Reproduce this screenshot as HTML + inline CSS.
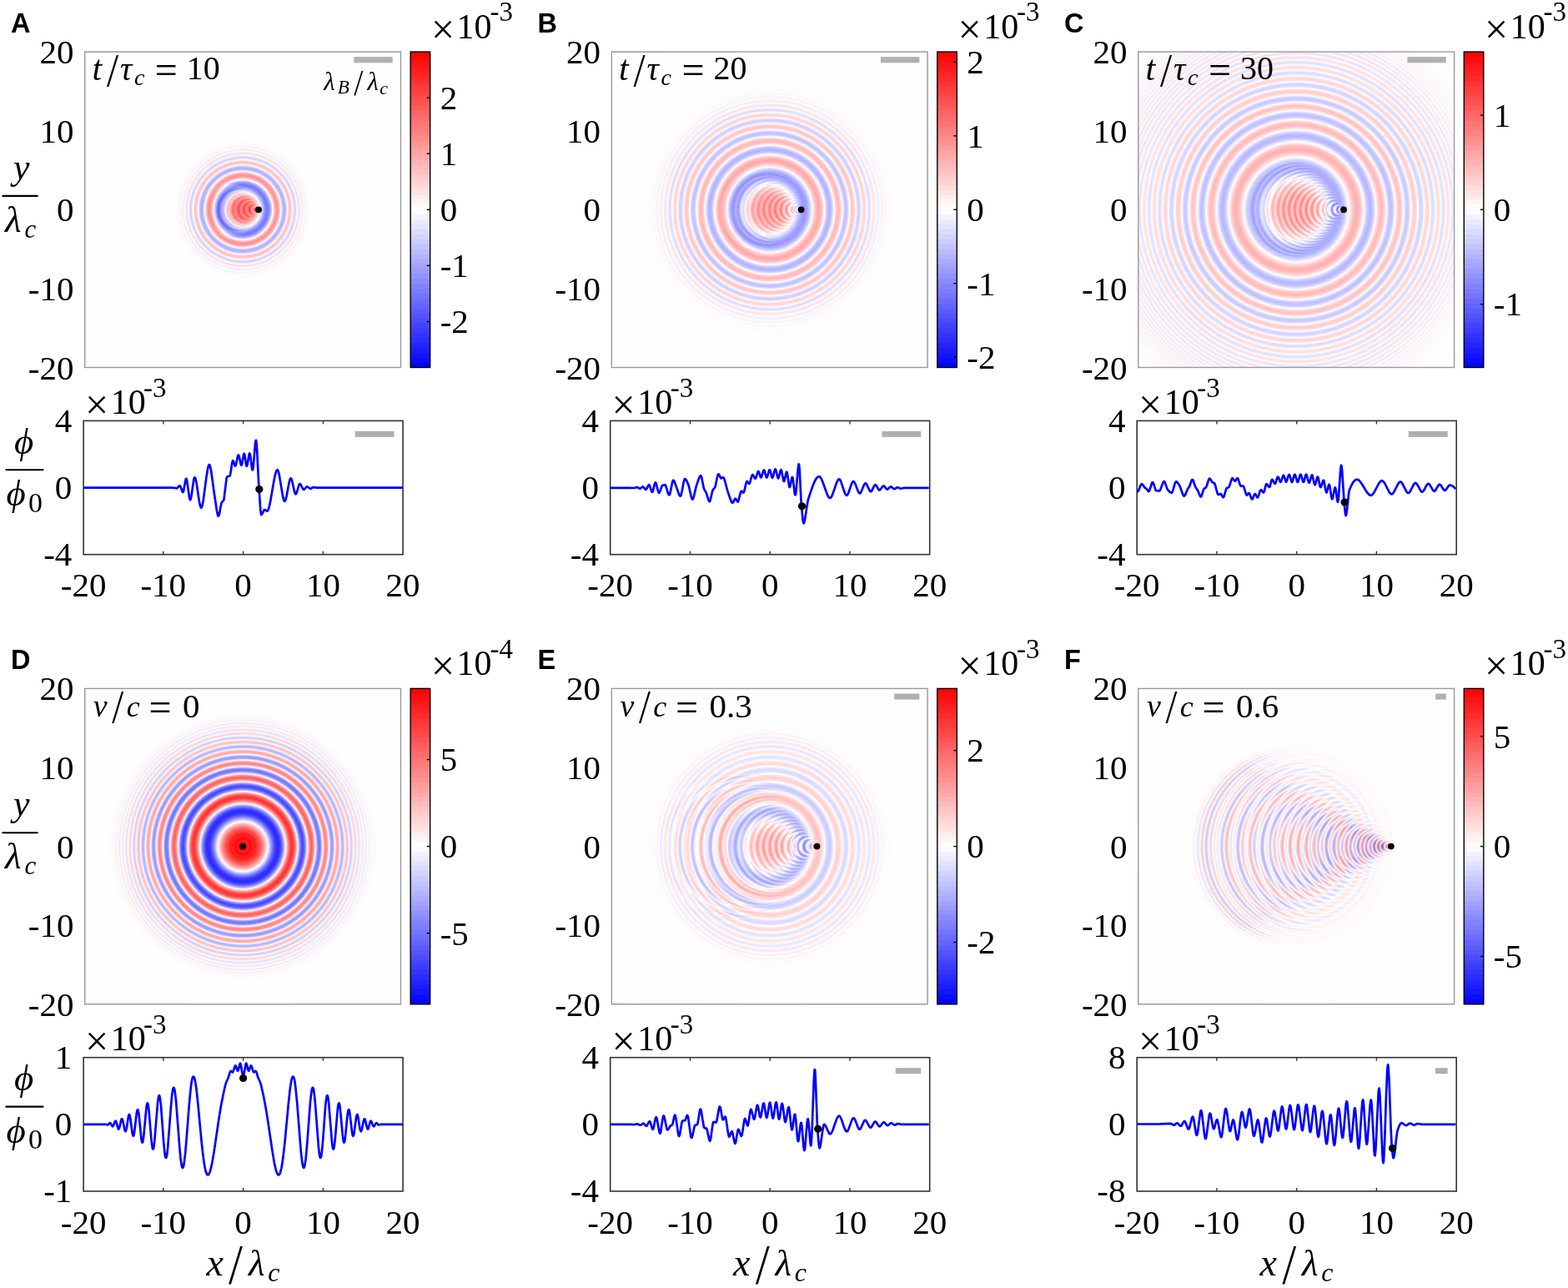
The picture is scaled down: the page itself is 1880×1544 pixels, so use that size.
<!DOCTYPE html><html><head><meta charset="utf-8"><style>html,body{margin:0;padding:0;background:#fff;}svg{display:block}</style></head><body><svg width="1880" height="1544" viewBox="0 0 1880 1544"><defs><linearGradient id="cbA" x1="0" y1="0" x2="0" y2="1"><stop offset="0.0000" stop-color="#ff0404"/><stop offset="0.0156" stop-color="#ff0404"/><stop offset="0.0156" stop-color="#ff0c0c"/><stop offset="0.0312" stop-color="#ff0c0c"/><stop offset="0.0312" stop-color="#ff1414"/><stop offset="0.0469" stop-color="#ff1414"/><stop offset="0.0469" stop-color="#ff1c1c"/><stop offset="0.0625" stop-color="#ff1c1c"/><stop offset="0.0625" stop-color="#ff2424"/><stop offset="0.0781" stop-color="#ff2424"/><stop offset="0.0781" stop-color="#ff2c2c"/><stop offset="0.0938" stop-color="#ff2c2c"/><stop offset="0.0938" stop-color="#ff3434"/><stop offset="0.1094" stop-color="#ff3434"/><stop offset="0.1094" stop-color="#ff3c3c"/><stop offset="0.1250" stop-color="#ff3c3c"/><stop offset="0.1250" stop-color="#ff4444"/><stop offset="0.1406" stop-color="#ff4444"/><stop offset="0.1406" stop-color="#ff4c4c"/><stop offset="0.1562" stop-color="#ff4c4c"/><stop offset="0.1562" stop-color="#ff5454"/><stop offset="0.1719" stop-color="#ff5454"/><stop offset="0.1719" stop-color="#ff5c5c"/><stop offset="0.1875" stop-color="#ff5c5c"/><stop offset="0.1875" stop-color="#ff6464"/><stop offset="0.2031" stop-color="#ff6464"/><stop offset="0.2031" stop-color="#ff6c6c"/><stop offset="0.2188" stop-color="#ff6c6c"/><stop offset="0.2188" stop-color="#ff7474"/><stop offset="0.2344" stop-color="#ff7474"/><stop offset="0.2344" stop-color="#ff7c7c"/><stop offset="0.2500" stop-color="#ff7c7c"/><stop offset="0.2500" stop-color="#ff8383"/><stop offset="0.2656" stop-color="#ff8383"/><stop offset="0.2656" stop-color="#ff8b8b"/><stop offset="0.2812" stop-color="#ff8b8b"/><stop offset="0.2812" stop-color="#ff9393"/><stop offset="0.2969" stop-color="#ff9393"/><stop offset="0.2969" stop-color="#ff9b9b"/><stop offset="0.3125" stop-color="#ff9b9b"/><stop offset="0.3125" stop-color="#ffa3a3"/><stop offset="0.3281" stop-color="#ffa3a3"/><stop offset="0.3281" stop-color="#ffabab"/><stop offset="0.3438" stop-color="#ffabab"/><stop offset="0.3438" stop-color="#ffb3b3"/><stop offset="0.3594" stop-color="#ffb3b3"/><stop offset="0.3594" stop-color="#ffbbbb"/><stop offset="0.3750" stop-color="#ffbbbb"/><stop offset="0.3750" stop-color="#ffc3c3"/><stop offset="0.3906" stop-color="#ffc3c3"/><stop offset="0.3906" stop-color="#ffcbcb"/><stop offset="0.4062" stop-color="#ffcbcb"/><stop offset="0.4062" stop-color="#ffd3d3"/><stop offset="0.4219" stop-color="#ffd3d3"/><stop offset="0.4219" stop-color="#ffdbdb"/><stop offset="0.4375" stop-color="#ffdbdb"/><stop offset="0.4375" stop-color="#ffe3e3"/><stop offset="0.4531" stop-color="#ffe3e3"/><stop offset="0.4531" stop-color="#ffebeb"/><stop offset="0.4688" stop-color="#ffebeb"/><stop offset="0.4688" stop-color="#fff3f3"/><stop offset="0.4844" stop-color="#fff3f3"/><stop offset="0.4844" stop-color="#fffbfb"/><stop offset="0.5000" stop-color="#fffbfb"/><stop offset="0.5000" stop-color="#fbfbff"/><stop offset="0.5156" stop-color="#fbfbff"/><stop offset="0.5156" stop-color="#f3f3ff"/><stop offset="0.5312" stop-color="#f3f3ff"/><stop offset="0.5312" stop-color="#ebebff"/><stop offset="0.5469" stop-color="#ebebff"/><stop offset="0.5469" stop-color="#e3e3ff"/><stop offset="0.5625" stop-color="#e3e3ff"/><stop offset="0.5625" stop-color="#dbdbff"/><stop offset="0.5781" stop-color="#dbdbff"/><stop offset="0.5781" stop-color="#d3d3ff"/><stop offset="0.5938" stop-color="#d3d3ff"/><stop offset="0.5938" stop-color="#cbcbff"/><stop offset="0.6094" stop-color="#cbcbff"/><stop offset="0.6094" stop-color="#c3c3ff"/><stop offset="0.6250" stop-color="#c3c3ff"/><stop offset="0.6250" stop-color="#bbbbff"/><stop offset="0.6406" stop-color="#bbbbff"/><stop offset="0.6406" stop-color="#b3b3ff"/><stop offset="0.6562" stop-color="#b3b3ff"/><stop offset="0.6562" stop-color="#ababff"/><stop offset="0.6719" stop-color="#ababff"/><stop offset="0.6719" stop-color="#a3a3ff"/><stop offset="0.6875" stop-color="#a3a3ff"/><stop offset="0.6875" stop-color="#9b9bff"/><stop offset="0.7031" stop-color="#9b9bff"/><stop offset="0.7031" stop-color="#9393ff"/><stop offset="0.7188" stop-color="#9393ff"/><stop offset="0.7188" stop-color="#8b8bff"/><stop offset="0.7344" stop-color="#8b8bff"/><stop offset="0.7344" stop-color="#8383ff"/><stop offset="0.7500" stop-color="#8383ff"/><stop offset="0.7500" stop-color="#7c7cff"/><stop offset="0.7656" stop-color="#7c7cff"/><stop offset="0.7656" stop-color="#7474ff"/><stop offset="0.7812" stop-color="#7474ff"/><stop offset="0.7812" stop-color="#6c6cff"/><stop offset="0.7969" stop-color="#6c6cff"/><stop offset="0.7969" stop-color="#6464ff"/><stop offset="0.8125" stop-color="#6464ff"/><stop offset="0.8125" stop-color="#5c5cff"/><stop offset="0.8281" stop-color="#5c5cff"/><stop offset="0.8281" stop-color="#5454ff"/><stop offset="0.8438" stop-color="#5454ff"/><stop offset="0.8438" stop-color="#4c4cff"/><stop offset="0.8594" stop-color="#4c4cff"/><stop offset="0.8594" stop-color="#4444ff"/><stop offset="0.8750" stop-color="#4444ff"/><stop offset="0.8750" stop-color="#3c3cff"/><stop offset="0.8906" stop-color="#3c3cff"/><stop offset="0.8906" stop-color="#3434ff"/><stop offset="0.9062" stop-color="#3434ff"/><stop offset="0.9062" stop-color="#2c2cff"/><stop offset="0.9219" stop-color="#2c2cff"/><stop offset="0.9219" stop-color="#2424ff"/><stop offset="0.9375" stop-color="#2424ff"/><stop offset="0.9375" stop-color="#1c1cff"/><stop offset="0.9531" stop-color="#1c1cff"/><stop offset="0.9531" stop-color="#1414ff"/><stop offset="0.9688" stop-color="#1414ff"/><stop offset="0.9688" stop-color="#0c0cff"/><stop offset="0.9844" stop-color="#0c0cff"/><stop offset="0.9844" stop-color="#0404ff"/><stop offset="1.0000" stop-color="#0404ff"/></linearGradient><linearGradient id="cbB" x1="0" y1="0" x2="0" y2="1"><stop offset="0.0000" stop-color="#ff0404"/><stop offset="0.0156" stop-color="#ff0404"/><stop offset="0.0156" stop-color="#ff0c0c"/><stop offset="0.0312" stop-color="#ff0c0c"/><stop offset="0.0312" stop-color="#ff1414"/><stop offset="0.0469" stop-color="#ff1414"/><stop offset="0.0469" stop-color="#ff1c1c"/><stop offset="0.0625" stop-color="#ff1c1c"/><stop offset="0.0625" stop-color="#ff2424"/><stop offset="0.0781" stop-color="#ff2424"/><stop offset="0.0781" stop-color="#ff2c2c"/><stop offset="0.0938" stop-color="#ff2c2c"/><stop offset="0.0938" stop-color="#ff3434"/><stop offset="0.1094" stop-color="#ff3434"/><stop offset="0.1094" stop-color="#ff3c3c"/><stop offset="0.1250" stop-color="#ff3c3c"/><stop offset="0.1250" stop-color="#ff4444"/><stop offset="0.1406" stop-color="#ff4444"/><stop offset="0.1406" stop-color="#ff4c4c"/><stop offset="0.1562" stop-color="#ff4c4c"/><stop offset="0.1562" stop-color="#ff5454"/><stop offset="0.1719" stop-color="#ff5454"/><stop offset="0.1719" stop-color="#ff5c5c"/><stop offset="0.1875" stop-color="#ff5c5c"/><stop offset="0.1875" stop-color="#ff6464"/><stop offset="0.2031" stop-color="#ff6464"/><stop offset="0.2031" stop-color="#ff6c6c"/><stop offset="0.2188" stop-color="#ff6c6c"/><stop offset="0.2188" stop-color="#ff7474"/><stop offset="0.2344" stop-color="#ff7474"/><stop offset="0.2344" stop-color="#ff7c7c"/><stop offset="0.2500" stop-color="#ff7c7c"/><stop offset="0.2500" stop-color="#ff8383"/><stop offset="0.2656" stop-color="#ff8383"/><stop offset="0.2656" stop-color="#ff8b8b"/><stop offset="0.2812" stop-color="#ff8b8b"/><stop offset="0.2812" stop-color="#ff9393"/><stop offset="0.2969" stop-color="#ff9393"/><stop offset="0.2969" stop-color="#ff9b9b"/><stop offset="0.3125" stop-color="#ff9b9b"/><stop offset="0.3125" stop-color="#ffa3a3"/><stop offset="0.3281" stop-color="#ffa3a3"/><stop offset="0.3281" stop-color="#ffabab"/><stop offset="0.3438" stop-color="#ffabab"/><stop offset="0.3438" stop-color="#ffb3b3"/><stop offset="0.3594" stop-color="#ffb3b3"/><stop offset="0.3594" stop-color="#ffbbbb"/><stop offset="0.3750" stop-color="#ffbbbb"/><stop offset="0.3750" stop-color="#ffc3c3"/><stop offset="0.3906" stop-color="#ffc3c3"/><stop offset="0.3906" stop-color="#ffcbcb"/><stop offset="0.4062" stop-color="#ffcbcb"/><stop offset="0.4062" stop-color="#ffd3d3"/><stop offset="0.4219" stop-color="#ffd3d3"/><stop offset="0.4219" stop-color="#ffdbdb"/><stop offset="0.4375" stop-color="#ffdbdb"/><stop offset="0.4375" stop-color="#ffe3e3"/><stop offset="0.4531" stop-color="#ffe3e3"/><stop offset="0.4531" stop-color="#ffebeb"/><stop offset="0.4688" stop-color="#ffebeb"/><stop offset="0.4688" stop-color="#fff3f3"/><stop offset="0.4844" stop-color="#fff3f3"/><stop offset="0.4844" stop-color="#fffbfb"/><stop offset="0.5000" stop-color="#fffbfb"/><stop offset="0.5000" stop-color="#fbfbff"/><stop offset="0.5156" stop-color="#fbfbff"/><stop offset="0.5156" stop-color="#f3f3ff"/><stop offset="0.5312" stop-color="#f3f3ff"/><stop offset="0.5312" stop-color="#ebebff"/><stop offset="0.5469" stop-color="#ebebff"/><stop offset="0.5469" stop-color="#e3e3ff"/><stop offset="0.5625" stop-color="#e3e3ff"/><stop offset="0.5625" stop-color="#dbdbff"/><stop offset="0.5781" stop-color="#dbdbff"/><stop offset="0.5781" stop-color="#d3d3ff"/><stop offset="0.5938" stop-color="#d3d3ff"/><stop offset="0.5938" stop-color="#cbcbff"/><stop offset="0.6094" stop-color="#cbcbff"/><stop offset="0.6094" stop-color="#c3c3ff"/><stop offset="0.6250" stop-color="#c3c3ff"/><stop offset="0.6250" stop-color="#bbbbff"/><stop offset="0.6406" stop-color="#bbbbff"/><stop offset="0.6406" stop-color="#b3b3ff"/><stop offset="0.6562" stop-color="#b3b3ff"/><stop offset="0.6562" stop-color="#ababff"/><stop offset="0.6719" stop-color="#ababff"/><stop offset="0.6719" stop-color="#a3a3ff"/><stop offset="0.6875" stop-color="#a3a3ff"/><stop offset="0.6875" stop-color="#9b9bff"/><stop offset="0.7031" stop-color="#9b9bff"/><stop offset="0.7031" stop-color="#9393ff"/><stop offset="0.7188" stop-color="#9393ff"/><stop offset="0.7188" stop-color="#8b8bff"/><stop offset="0.7344" stop-color="#8b8bff"/><stop offset="0.7344" stop-color="#8383ff"/><stop offset="0.7500" stop-color="#8383ff"/><stop offset="0.7500" stop-color="#7c7cff"/><stop offset="0.7656" stop-color="#7c7cff"/><stop offset="0.7656" stop-color="#7474ff"/><stop offset="0.7812" stop-color="#7474ff"/><stop offset="0.7812" stop-color="#6c6cff"/><stop offset="0.7969" stop-color="#6c6cff"/><stop offset="0.7969" stop-color="#6464ff"/><stop offset="0.8125" stop-color="#6464ff"/><stop offset="0.8125" stop-color="#5c5cff"/><stop offset="0.8281" stop-color="#5c5cff"/><stop offset="0.8281" stop-color="#5454ff"/><stop offset="0.8438" stop-color="#5454ff"/><stop offset="0.8438" stop-color="#4c4cff"/><stop offset="0.8594" stop-color="#4c4cff"/><stop offset="0.8594" stop-color="#4444ff"/><stop offset="0.8750" stop-color="#4444ff"/><stop offset="0.8750" stop-color="#3c3cff"/><stop offset="0.8906" stop-color="#3c3cff"/><stop offset="0.8906" stop-color="#3434ff"/><stop offset="0.9062" stop-color="#3434ff"/><stop offset="0.9062" stop-color="#2c2cff"/><stop offset="0.9219" stop-color="#2c2cff"/><stop offset="0.9219" stop-color="#2424ff"/><stop offset="0.9375" stop-color="#2424ff"/><stop offset="0.9375" stop-color="#1c1cff"/><stop offset="0.9531" stop-color="#1c1cff"/><stop offset="0.9531" stop-color="#1414ff"/><stop offset="0.9688" stop-color="#1414ff"/><stop offset="0.9688" stop-color="#0c0cff"/><stop offset="0.9844" stop-color="#0c0cff"/><stop offset="0.9844" stop-color="#0404ff"/><stop offset="1.0000" stop-color="#0404ff"/></linearGradient><linearGradient id="cbC" x1="0" y1="0" x2="0" y2="1"><stop offset="0.0000" stop-color="#ff0404"/><stop offset="0.0156" stop-color="#ff0404"/><stop offset="0.0156" stop-color="#ff0c0c"/><stop offset="0.0312" stop-color="#ff0c0c"/><stop offset="0.0312" stop-color="#ff1414"/><stop offset="0.0469" stop-color="#ff1414"/><stop offset="0.0469" stop-color="#ff1c1c"/><stop offset="0.0625" stop-color="#ff1c1c"/><stop offset="0.0625" stop-color="#ff2424"/><stop offset="0.0781" stop-color="#ff2424"/><stop offset="0.0781" stop-color="#ff2c2c"/><stop offset="0.0938" stop-color="#ff2c2c"/><stop offset="0.0938" stop-color="#ff3434"/><stop offset="0.1094" stop-color="#ff3434"/><stop offset="0.1094" stop-color="#ff3c3c"/><stop offset="0.1250" stop-color="#ff3c3c"/><stop offset="0.1250" stop-color="#ff4444"/><stop offset="0.1406" stop-color="#ff4444"/><stop offset="0.1406" stop-color="#ff4c4c"/><stop offset="0.1562" stop-color="#ff4c4c"/><stop offset="0.1562" stop-color="#ff5454"/><stop offset="0.1719" stop-color="#ff5454"/><stop offset="0.1719" stop-color="#ff5c5c"/><stop offset="0.1875" stop-color="#ff5c5c"/><stop offset="0.1875" stop-color="#ff6464"/><stop offset="0.2031" stop-color="#ff6464"/><stop offset="0.2031" stop-color="#ff6c6c"/><stop offset="0.2188" stop-color="#ff6c6c"/><stop offset="0.2188" stop-color="#ff7474"/><stop offset="0.2344" stop-color="#ff7474"/><stop offset="0.2344" stop-color="#ff7c7c"/><stop offset="0.2500" stop-color="#ff7c7c"/><stop offset="0.2500" stop-color="#ff8383"/><stop offset="0.2656" stop-color="#ff8383"/><stop offset="0.2656" stop-color="#ff8b8b"/><stop offset="0.2812" stop-color="#ff8b8b"/><stop offset="0.2812" stop-color="#ff9393"/><stop offset="0.2969" stop-color="#ff9393"/><stop offset="0.2969" stop-color="#ff9b9b"/><stop offset="0.3125" stop-color="#ff9b9b"/><stop offset="0.3125" stop-color="#ffa3a3"/><stop offset="0.3281" stop-color="#ffa3a3"/><stop offset="0.3281" stop-color="#ffabab"/><stop offset="0.3438" stop-color="#ffabab"/><stop offset="0.3438" stop-color="#ffb3b3"/><stop offset="0.3594" stop-color="#ffb3b3"/><stop offset="0.3594" stop-color="#ffbbbb"/><stop offset="0.3750" stop-color="#ffbbbb"/><stop offset="0.3750" stop-color="#ffc3c3"/><stop offset="0.3906" stop-color="#ffc3c3"/><stop offset="0.3906" stop-color="#ffcbcb"/><stop offset="0.4062" stop-color="#ffcbcb"/><stop offset="0.4062" stop-color="#ffd3d3"/><stop offset="0.4219" stop-color="#ffd3d3"/><stop offset="0.4219" stop-color="#ffdbdb"/><stop offset="0.4375" stop-color="#ffdbdb"/><stop offset="0.4375" stop-color="#ffe3e3"/><stop offset="0.4531" stop-color="#ffe3e3"/><stop offset="0.4531" stop-color="#ffebeb"/><stop offset="0.4688" stop-color="#ffebeb"/><stop offset="0.4688" stop-color="#fff3f3"/><stop offset="0.4844" stop-color="#fff3f3"/><stop offset="0.4844" stop-color="#fffbfb"/><stop offset="0.5000" stop-color="#fffbfb"/><stop offset="0.5000" stop-color="#fbfbff"/><stop offset="0.5156" stop-color="#fbfbff"/><stop offset="0.5156" stop-color="#f3f3ff"/><stop offset="0.5312" stop-color="#f3f3ff"/><stop offset="0.5312" stop-color="#ebebff"/><stop offset="0.5469" stop-color="#ebebff"/><stop offset="0.5469" stop-color="#e3e3ff"/><stop offset="0.5625" stop-color="#e3e3ff"/><stop offset="0.5625" stop-color="#dbdbff"/><stop offset="0.5781" stop-color="#dbdbff"/><stop offset="0.5781" stop-color="#d3d3ff"/><stop offset="0.5938" stop-color="#d3d3ff"/><stop offset="0.5938" stop-color="#cbcbff"/><stop offset="0.6094" stop-color="#cbcbff"/><stop offset="0.6094" stop-color="#c3c3ff"/><stop offset="0.6250" stop-color="#c3c3ff"/><stop offset="0.6250" stop-color="#bbbbff"/><stop offset="0.6406" stop-color="#bbbbff"/><stop offset="0.6406" stop-color="#b3b3ff"/><stop offset="0.6562" stop-color="#b3b3ff"/><stop offset="0.6562" stop-color="#ababff"/><stop offset="0.6719" stop-color="#ababff"/><stop offset="0.6719" stop-color="#a3a3ff"/><stop offset="0.6875" stop-color="#a3a3ff"/><stop offset="0.6875" stop-color="#9b9bff"/><stop offset="0.7031" stop-color="#9b9bff"/><stop offset="0.7031" stop-color="#9393ff"/><stop offset="0.7188" stop-color="#9393ff"/><stop offset="0.7188" stop-color="#8b8bff"/><stop offset="0.7344" stop-color="#8b8bff"/><stop offset="0.7344" stop-color="#8383ff"/><stop offset="0.7500" stop-color="#8383ff"/><stop offset="0.7500" stop-color="#7c7cff"/><stop offset="0.7656" stop-color="#7c7cff"/><stop offset="0.7656" stop-color="#7474ff"/><stop offset="0.7812" stop-color="#7474ff"/><stop offset="0.7812" stop-color="#6c6cff"/><stop offset="0.7969" stop-color="#6c6cff"/><stop offset="0.7969" stop-color="#6464ff"/><stop offset="0.8125" stop-color="#6464ff"/><stop offset="0.8125" stop-color="#5c5cff"/><stop offset="0.8281" stop-color="#5c5cff"/><stop offset="0.8281" stop-color="#5454ff"/><stop offset="0.8438" stop-color="#5454ff"/><stop offset="0.8438" stop-color="#4c4cff"/><stop offset="0.8594" stop-color="#4c4cff"/><stop offset="0.8594" stop-color="#4444ff"/><stop offset="0.8750" stop-color="#4444ff"/><stop offset="0.8750" stop-color="#3c3cff"/><stop offset="0.8906" stop-color="#3c3cff"/><stop offset="0.8906" stop-color="#3434ff"/><stop offset="0.9062" stop-color="#3434ff"/><stop offset="0.9062" stop-color="#2c2cff"/><stop offset="0.9219" stop-color="#2c2cff"/><stop offset="0.9219" stop-color="#2424ff"/><stop offset="0.9375" stop-color="#2424ff"/><stop offset="0.9375" stop-color="#1c1cff"/><stop offset="0.9531" stop-color="#1c1cff"/><stop offset="0.9531" stop-color="#1414ff"/><stop offset="0.9688" stop-color="#1414ff"/><stop offset="0.9688" stop-color="#0c0cff"/><stop offset="0.9844" stop-color="#0c0cff"/><stop offset="0.9844" stop-color="#0404ff"/><stop offset="1.0000" stop-color="#0404ff"/></linearGradient><linearGradient id="cbD" x1="0" y1="0" x2="0" y2="1"><stop offset="0.0000" stop-color="#ff0404"/><stop offset="0.0156" stop-color="#ff0404"/><stop offset="0.0156" stop-color="#ff0c0c"/><stop offset="0.0312" stop-color="#ff0c0c"/><stop offset="0.0312" stop-color="#ff1414"/><stop offset="0.0469" stop-color="#ff1414"/><stop offset="0.0469" stop-color="#ff1c1c"/><stop offset="0.0625" stop-color="#ff1c1c"/><stop offset="0.0625" stop-color="#ff2424"/><stop offset="0.0781" stop-color="#ff2424"/><stop offset="0.0781" stop-color="#ff2c2c"/><stop offset="0.0938" stop-color="#ff2c2c"/><stop offset="0.0938" stop-color="#ff3434"/><stop offset="0.1094" stop-color="#ff3434"/><stop offset="0.1094" stop-color="#ff3c3c"/><stop offset="0.1250" stop-color="#ff3c3c"/><stop offset="0.1250" stop-color="#ff4444"/><stop offset="0.1406" stop-color="#ff4444"/><stop offset="0.1406" stop-color="#ff4c4c"/><stop offset="0.1562" stop-color="#ff4c4c"/><stop offset="0.1562" stop-color="#ff5454"/><stop offset="0.1719" stop-color="#ff5454"/><stop offset="0.1719" stop-color="#ff5c5c"/><stop offset="0.1875" stop-color="#ff5c5c"/><stop offset="0.1875" stop-color="#ff6464"/><stop offset="0.2031" stop-color="#ff6464"/><stop offset="0.2031" stop-color="#ff6c6c"/><stop offset="0.2188" stop-color="#ff6c6c"/><stop offset="0.2188" stop-color="#ff7474"/><stop offset="0.2344" stop-color="#ff7474"/><stop offset="0.2344" stop-color="#ff7c7c"/><stop offset="0.2500" stop-color="#ff7c7c"/><stop offset="0.2500" stop-color="#ff8383"/><stop offset="0.2656" stop-color="#ff8383"/><stop offset="0.2656" stop-color="#ff8b8b"/><stop offset="0.2812" stop-color="#ff8b8b"/><stop offset="0.2812" stop-color="#ff9393"/><stop offset="0.2969" stop-color="#ff9393"/><stop offset="0.2969" stop-color="#ff9b9b"/><stop offset="0.3125" stop-color="#ff9b9b"/><stop offset="0.3125" stop-color="#ffa3a3"/><stop offset="0.3281" stop-color="#ffa3a3"/><stop offset="0.3281" stop-color="#ffabab"/><stop offset="0.3438" stop-color="#ffabab"/><stop offset="0.3438" stop-color="#ffb3b3"/><stop offset="0.3594" stop-color="#ffb3b3"/><stop offset="0.3594" stop-color="#ffbbbb"/><stop offset="0.3750" stop-color="#ffbbbb"/><stop offset="0.3750" stop-color="#ffc3c3"/><stop offset="0.3906" stop-color="#ffc3c3"/><stop offset="0.3906" stop-color="#ffcbcb"/><stop offset="0.4062" stop-color="#ffcbcb"/><stop offset="0.4062" stop-color="#ffd3d3"/><stop offset="0.4219" stop-color="#ffd3d3"/><stop offset="0.4219" stop-color="#ffdbdb"/><stop offset="0.4375" stop-color="#ffdbdb"/><stop offset="0.4375" stop-color="#ffe3e3"/><stop offset="0.4531" stop-color="#ffe3e3"/><stop offset="0.4531" stop-color="#ffebeb"/><stop offset="0.4688" stop-color="#ffebeb"/><stop offset="0.4688" stop-color="#fff3f3"/><stop offset="0.4844" stop-color="#fff3f3"/><stop offset="0.4844" stop-color="#fffbfb"/><stop offset="0.5000" stop-color="#fffbfb"/><stop offset="0.5000" stop-color="#fbfbff"/><stop offset="0.5156" stop-color="#fbfbff"/><stop offset="0.5156" stop-color="#f3f3ff"/><stop offset="0.5312" stop-color="#f3f3ff"/><stop offset="0.5312" stop-color="#ebebff"/><stop offset="0.5469" stop-color="#ebebff"/><stop offset="0.5469" stop-color="#e3e3ff"/><stop offset="0.5625" stop-color="#e3e3ff"/><stop offset="0.5625" stop-color="#dbdbff"/><stop offset="0.5781" stop-color="#dbdbff"/><stop offset="0.5781" stop-color="#d3d3ff"/><stop offset="0.5938" stop-color="#d3d3ff"/><stop offset="0.5938" stop-color="#cbcbff"/><stop offset="0.6094" stop-color="#cbcbff"/><stop offset="0.6094" stop-color="#c3c3ff"/><stop offset="0.6250" stop-color="#c3c3ff"/><stop offset="0.6250" stop-color="#bbbbff"/><stop offset="0.6406" stop-color="#bbbbff"/><stop offset="0.6406" stop-color="#b3b3ff"/><stop offset="0.6562" stop-color="#b3b3ff"/><stop offset="0.6562" stop-color="#ababff"/><stop offset="0.6719" stop-color="#ababff"/><stop offset="0.6719" stop-color="#a3a3ff"/><stop offset="0.6875" stop-color="#a3a3ff"/><stop offset="0.6875" stop-color="#9b9bff"/><stop offset="0.7031" stop-color="#9b9bff"/><stop offset="0.7031" stop-color="#9393ff"/><stop offset="0.7188" stop-color="#9393ff"/><stop offset="0.7188" stop-color="#8b8bff"/><stop offset="0.7344" stop-color="#8b8bff"/><stop offset="0.7344" stop-color="#8383ff"/><stop offset="0.7500" stop-color="#8383ff"/><stop offset="0.7500" stop-color="#7c7cff"/><stop offset="0.7656" stop-color="#7c7cff"/><stop offset="0.7656" stop-color="#7474ff"/><stop offset="0.7812" stop-color="#7474ff"/><stop offset="0.7812" stop-color="#6c6cff"/><stop offset="0.7969" stop-color="#6c6cff"/><stop offset="0.7969" stop-color="#6464ff"/><stop offset="0.8125" stop-color="#6464ff"/><stop offset="0.8125" stop-color="#5c5cff"/><stop offset="0.8281" stop-color="#5c5cff"/><stop offset="0.8281" stop-color="#5454ff"/><stop offset="0.8438" stop-color="#5454ff"/><stop offset="0.8438" stop-color="#4c4cff"/><stop offset="0.8594" stop-color="#4c4cff"/><stop offset="0.8594" stop-color="#4444ff"/><stop offset="0.8750" stop-color="#4444ff"/><stop offset="0.8750" stop-color="#3c3cff"/><stop offset="0.8906" stop-color="#3c3cff"/><stop offset="0.8906" stop-color="#3434ff"/><stop offset="0.9062" stop-color="#3434ff"/><stop offset="0.9062" stop-color="#2c2cff"/><stop offset="0.9219" stop-color="#2c2cff"/><stop offset="0.9219" stop-color="#2424ff"/><stop offset="0.9375" stop-color="#2424ff"/><stop offset="0.9375" stop-color="#1c1cff"/><stop offset="0.9531" stop-color="#1c1cff"/><stop offset="0.9531" stop-color="#1414ff"/><stop offset="0.9688" stop-color="#1414ff"/><stop offset="0.9688" stop-color="#0c0cff"/><stop offset="0.9844" stop-color="#0c0cff"/><stop offset="0.9844" stop-color="#0404ff"/><stop offset="1.0000" stop-color="#0404ff"/></linearGradient><linearGradient id="cbE" x1="0" y1="0" x2="0" y2="1"><stop offset="0.0000" stop-color="#ff0404"/><stop offset="0.0156" stop-color="#ff0404"/><stop offset="0.0156" stop-color="#ff0c0c"/><stop offset="0.0312" stop-color="#ff0c0c"/><stop offset="0.0312" stop-color="#ff1414"/><stop offset="0.0469" stop-color="#ff1414"/><stop offset="0.0469" stop-color="#ff1c1c"/><stop offset="0.0625" stop-color="#ff1c1c"/><stop offset="0.0625" stop-color="#ff2424"/><stop offset="0.0781" stop-color="#ff2424"/><stop offset="0.0781" stop-color="#ff2c2c"/><stop offset="0.0938" stop-color="#ff2c2c"/><stop offset="0.0938" stop-color="#ff3434"/><stop offset="0.1094" stop-color="#ff3434"/><stop offset="0.1094" stop-color="#ff3c3c"/><stop offset="0.1250" stop-color="#ff3c3c"/><stop offset="0.1250" stop-color="#ff4444"/><stop offset="0.1406" stop-color="#ff4444"/><stop offset="0.1406" stop-color="#ff4c4c"/><stop offset="0.1562" stop-color="#ff4c4c"/><stop offset="0.1562" stop-color="#ff5454"/><stop offset="0.1719" stop-color="#ff5454"/><stop offset="0.1719" stop-color="#ff5c5c"/><stop offset="0.1875" stop-color="#ff5c5c"/><stop offset="0.1875" stop-color="#ff6464"/><stop offset="0.2031" stop-color="#ff6464"/><stop offset="0.2031" stop-color="#ff6c6c"/><stop offset="0.2188" stop-color="#ff6c6c"/><stop offset="0.2188" stop-color="#ff7474"/><stop offset="0.2344" stop-color="#ff7474"/><stop offset="0.2344" stop-color="#ff7c7c"/><stop offset="0.2500" stop-color="#ff7c7c"/><stop offset="0.2500" stop-color="#ff8383"/><stop offset="0.2656" stop-color="#ff8383"/><stop offset="0.2656" stop-color="#ff8b8b"/><stop offset="0.2812" stop-color="#ff8b8b"/><stop offset="0.2812" stop-color="#ff9393"/><stop offset="0.2969" stop-color="#ff9393"/><stop offset="0.2969" stop-color="#ff9b9b"/><stop offset="0.3125" stop-color="#ff9b9b"/><stop offset="0.3125" stop-color="#ffa3a3"/><stop offset="0.3281" stop-color="#ffa3a3"/><stop offset="0.3281" stop-color="#ffabab"/><stop offset="0.3438" stop-color="#ffabab"/><stop offset="0.3438" stop-color="#ffb3b3"/><stop offset="0.3594" stop-color="#ffb3b3"/><stop offset="0.3594" stop-color="#ffbbbb"/><stop offset="0.3750" stop-color="#ffbbbb"/><stop offset="0.3750" stop-color="#ffc3c3"/><stop offset="0.3906" stop-color="#ffc3c3"/><stop offset="0.3906" stop-color="#ffcbcb"/><stop offset="0.4062" stop-color="#ffcbcb"/><stop offset="0.4062" stop-color="#ffd3d3"/><stop offset="0.4219" stop-color="#ffd3d3"/><stop offset="0.4219" stop-color="#ffdbdb"/><stop offset="0.4375" stop-color="#ffdbdb"/><stop offset="0.4375" stop-color="#ffe3e3"/><stop offset="0.4531" stop-color="#ffe3e3"/><stop offset="0.4531" stop-color="#ffebeb"/><stop offset="0.4688" stop-color="#ffebeb"/><stop offset="0.4688" stop-color="#fff3f3"/><stop offset="0.4844" stop-color="#fff3f3"/><stop offset="0.4844" stop-color="#fffbfb"/><stop offset="0.5000" stop-color="#fffbfb"/><stop offset="0.5000" stop-color="#fbfbff"/><stop offset="0.5156" stop-color="#fbfbff"/><stop offset="0.5156" stop-color="#f3f3ff"/><stop offset="0.5312" stop-color="#f3f3ff"/><stop offset="0.5312" stop-color="#ebebff"/><stop offset="0.5469" stop-color="#ebebff"/><stop offset="0.5469" stop-color="#e3e3ff"/><stop offset="0.5625" stop-color="#e3e3ff"/><stop offset="0.5625" stop-color="#dbdbff"/><stop offset="0.5781" stop-color="#dbdbff"/><stop offset="0.5781" stop-color="#d3d3ff"/><stop offset="0.5938" stop-color="#d3d3ff"/><stop offset="0.5938" stop-color="#cbcbff"/><stop offset="0.6094" stop-color="#cbcbff"/><stop offset="0.6094" stop-color="#c3c3ff"/><stop offset="0.6250" stop-color="#c3c3ff"/><stop offset="0.6250" stop-color="#bbbbff"/><stop offset="0.6406" stop-color="#bbbbff"/><stop offset="0.6406" stop-color="#b3b3ff"/><stop offset="0.6562" stop-color="#b3b3ff"/><stop offset="0.6562" stop-color="#ababff"/><stop offset="0.6719" stop-color="#ababff"/><stop offset="0.6719" stop-color="#a3a3ff"/><stop offset="0.6875" stop-color="#a3a3ff"/><stop offset="0.6875" stop-color="#9b9bff"/><stop offset="0.7031" stop-color="#9b9bff"/><stop offset="0.7031" stop-color="#9393ff"/><stop offset="0.7188" stop-color="#9393ff"/><stop offset="0.7188" stop-color="#8b8bff"/><stop offset="0.7344" stop-color="#8b8bff"/><stop offset="0.7344" stop-color="#8383ff"/><stop offset="0.7500" stop-color="#8383ff"/><stop offset="0.7500" stop-color="#7c7cff"/><stop offset="0.7656" stop-color="#7c7cff"/><stop offset="0.7656" stop-color="#7474ff"/><stop offset="0.7812" stop-color="#7474ff"/><stop offset="0.7812" stop-color="#6c6cff"/><stop offset="0.7969" stop-color="#6c6cff"/><stop offset="0.7969" stop-color="#6464ff"/><stop offset="0.8125" stop-color="#6464ff"/><stop offset="0.8125" stop-color="#5c5cff"/><stop offset="0.8281" stop-color="#5c5cff"/><stop offset="0.8281" stop-color="#5454ff"/><stop offset="0.8438" stop-color="#5454ff"/><stop offset="0.8438" stop-color="#4c4cff"/><stop offset="0.8594" stop-color="#4c4cff"/><stop offset="0.8594" stop-color="#4444ff"/><stop offset="0.8750" stop-color="#4444ff"/><stop offset="0.8750" stop-color="#3c3cff"/><stop offset="0.8906" stop-color="#3c3cff"/><stop offset="0.8906" stop-color="#3434ff"/><stop offset="0.9062" stop-color="#3434ff"/><stop offset="0.9062" stop-color="#2c2cff"/><stop offset="0.9219" stop-color="#2c2cff"/><stop offset="0.9219" stop-color="#2424ff"/><stop offset="0.9375" stop-color="#2424ff"/><stop offset="0.9375" stop-color="#1c1cff"/><stop offset="0.9531" stop-color="#1c1cff"/><stop offset="0.9531" stop-color="#1414ff"/><stop offset="0.9688" stop-color="#1414ff"/><stop offset="0.9688" stop-color="#0c0cff"/><stop offset="0.9844" stop-color="#0c0cff"/><stop offset="0.9844" stop-color="#0404ff"/><stop offset="1.0000" stop-color="#0404ff"/></linearGradient><linearGradient id="cbF" x1="0" y1="0" x2="0" y2="1"><stop offset="0.0000" stop-color="#ff0404"/><stop offset="0.0156" stop-color="#ff0404"/><stop offset="0.0156" stop-color="#ff0c0c"/><stop offset="0.0312" stop-color="#ff0c0c"/><stop offset="0.0312" stop-color="#ff1414"/><stop offset="0.0469" stop-color="#ff1414"/><stop offset="0.0469" stop-color="#ff1c1c"/><stop offset="0.0625" stop-color="#ff1c1c"/><stop offset="0.0625" stop-color="#ff2424"/><stop offset="0.0781" stop-color="#ff2424"/><stop offset="0.0781" stop-color="#ff2c2c"/><stop offset="0.0938" stop-color="#ff2c2c"/><stop offset="0.0938" stop-color="#ff3434"/><stop offset="0.1094" stop-color="#ff3434"/><stop offset="0.1094" stop-color="#ff3c3c"/><stop offset="0.1250" stop-color="#ff3c3c"/><stop offset="0.1250" stop-color="#ff4444"/><stop offset="0.1406" stop-color="#ff4444"/><stop offset="0.1406" stop-color="#ff4c4c"/><stop offset="0.1562" stop-color="#ff4c4c"/><stop offset="0.1562" stop-color="#ff5454"/><stop offset="0.1719" stop-color="#ff5454"/><stop offset="0.1719" stop-color="#ff5c5c"/><stop offset="0.1875" stop-color="#ff5c5c"/><stop offset="0.1875" stop-color="#ff6464"/><stop offset="0.2031" stop-color="#ff6464"/><stop offset="0.2031" stop-color="#ff6c6c"/><stop offset="0.2188" stop-color="#ff6c6c"/><stop offset="0.2188" stop-color="#ff7474"/><stop offset="0.2344" stop-color="#ff7474"/><stop offset="0.2344" stop-color="#ff7c7c"/><stop offset="0.2500" stop-color="#ff7c7c"/><stop offset="0.2500" stop-color="#ff8383"/><stop offset="0.2656" stop-color="#ff8383"/><stop offset="0.2656" stop-color="#ff8b8b"/><stop offset="0.2812" stop-color="#ff8b8b"/><stop offset="0.2812" stop-color="#ff9393"/><stop offset="0.2969" stop-color="#ff9393"/><stop offset="0.2969" stop-color="#ff9b9b"/><stop offset="0.3125" stop-color="#ff9b9b"/><stop offset="0.3125" stop-color="#ffa3a3"/><stop offset="0.3281" stop-color="#ffa3a3"/><stop offset="0.3281" stop-color="#ffabab"/><stop offset="0.3438" stop-color="#ffabab"/><stop offset="0.3438" stop-color="#ffb3b3"/><stop offset="0.3594" stop-color="#ffb3b3"/><stop offset="0.3594" stop-color="#ffbbbb"/><stop offset="0.3750" stop-color="#ffbbbb"/><stop offset="0.3750" stop-color="#ffc3c3"/><stop offset="0.3906" stop-color="#ffc3c3"/><stop offset="0.3906" stop-color="#ffcbcb"/><stop offset="0.4062" stop-color="#ffcbcb"/><stop offset="0.4062" stop-color="#ffd3d3"/><stop offset="0.4219" stop-color="#ffd3d3"/><stop offset="0.4219" stop-color="#ffdbdb"/><stop offset="0.4375" stop-color="#ffdbdb"/><stop offset="0.4375" stop-color="#ffe3e3"/><stop offset="0.4531" stop-color="#ffe3e3"/><stop offset="0.4531" stop-color="#ffebeb"/><stop offset="0.4688" stop-color="#ffebeb"/><stop offset="0.4688" stop-color="#fff3f3"/><stop offset="0.4844" stop-color="#fff3f3"/><stop offset="0.4844" stop-color="#fffbfb"/><stop offset="0.5000" stop-color="#fffbfb"/><stop offset="0.5000" stop-color="#fbfbff"/><stop offset="0.5156" stop-color="#fbfbff"/><stop offset="0.5156" stop-color="#f3f3ff"/><stop offset="0.5312" stop-color="#f3f3ff"/><stop offset="0.5312" stop-color="#ebebff"/><stop offset="0.5469" stop-color="#ebebff"/><stop offset="0.5469" stop-color="#e3e3ff"/><stop offset="0.5625" stop-color="#e3e3ff"/><stop offset="0.5625" stop-color="#dbdbff"/><stop offset="0.5781" stop-color="#dbdbff"/><stop offset="0.5781" stop-color="#d3d3ff"/><stop offset="0.5938" stop-color="#d3d3ff"/><stop offset="0.5938" stop-color="#cbcbff"/><stop offset="0.6094" stop-color="#cbcbff"/><stop offset="0.6094" stop-color="#c3c3ff"/><stop offset="0.6250" stop-color="#c3c3ff"/><stop offset="0.6250" stop-color="#bbbbff"/><stop offset="0.6406" stop-color="#bbbbff"/><stop offset="0.6406" stop-color="#b3b3ff"/><stop offset="0.6562" stop-color="#b3b3ff"/><stop offset="0.6562" stop-color="#ababff"/><stop offset="0.6719" stop-color="#ababff"/><stop offset="0.6719" stop-color="#a3a3ff"/><stop offset="0.6875" stop-color="#a3a3ff"/><stop offset="0.6875" stop-color="#9b9bff"/><stop offset="0.7031" stop-color="#9b9bff"/><stop offset="0.7031" stop-color="#9393ff"/><stop offset="0.7188" stop-color="#9393ff"/><stop offset="0.7188" stop-color="#8b8bff"/><stop offset="0.7344" stop-color="#8b8bff"/><stop offset="0.7344" stop-color="#8383ff"/><stop offset="0.7500" stop-color="#8383ff"/><stop offset="0.7500" stop-color="#7c7cff"/><stop offset="0.7656" stop-color="#7c7cff"/><stop offset="0.7656" stop-color="#7474ff"/><stop offset="0.7812" stop-color="#7474ff"/><stop offset="0.7812" stop-color="#6c6cff"/><stop offset="0.7969" stop-color="#6c6cff"/><stop offset="0.7969" stop-color="#6464ff"/><stop offset="0.8125" stop-color="#6464ff"/><stop offset="0.8125" stop-color="#5c5cff"/><stop offset="0.8281" stop-color="#5c5cff"/><stop offset="0.8281" stop-color="#5454ff"/><stop offset="0.8438" stop-color="#5454ff"/><stop offset="0.8438" stop-color="#4c4cff"/><stop offset="0.8594" stop-color="#4c4cff"/><stop offset="0.8594" stop-color="#4444ff"/><stop offset="0.8750" stop-color="#4444ff"/><stop offset="0.8750" stop-color="#3c3cff"/><stop offset="0.8906" stop-color="#3c3cff"/><stop offset="0.8906" stop-color="#3434ff"/><stop offset="0.9062" stop-color="#3434ff"/><stop offset="0.9062" stop-color="#2c2cff"/><stop offset="0.9219" stop-color="#2c2cff"/><stop offset="0.9219" stop-color="#2424ff"/><stop offset="0.9375" stop-color="#2424ff"/><stop offset="0.9375" stop-color="#1c1cff"/><stop offset="0.9531" stop-color="#1c1cff"/><stop offset="0.9531" stop-color="#1414ff"/><stop offset="0.9688" stop-color="#1414ff"/><stop offset="0.9688" stop-color="#0c0cff"/><stop offset="0.9844" stop-color="#0c0cff"/><stop offset="0.9844" stop-color="#0404ff"/><stop offset="1.0000" stop-color="#0404ff"/></linearGradient><clipPath id="lcA"><rect x="100.1" y="504.4" width="383.0" height="160.3"/></clipPath><clipPath id="lcB"><rect x="731.7" y="504.4" width="383.0" height="160.3"/></clipPath><clipPath id="lcC"><rect x="1363.2" y="504.4" width="383.0" height="160.3"/></clipPath><clipPath id="lcD"><rect x="100.1" y="1267.7" width="383.0" height="160.3"/></clipPath><clipPath id="lcE"><rect x="731.7" y="1267.7" width="383.0" height="160.3"/></clipPath><clipPath id="lcF"><rect x="1363.2" y="1267.7" width="383.0" height="160.3"/></clipPath><radialGradient id="Ag1" gradientUnits="userSpaceOnUse" cx="291.10" cy="251.30" r="99.05"><stop offset="0.0000" stop-color="#a70000"/><stop offset="0.0076" stop-color="#a60000"/><stop offset="0.0153" stop-color="#a60000"/><stop offset="0.0229" stop-color="#a60000"/><stop offset="0.0306" stop-color="#a60000"/><stop offset="0.0382" stop-color="#a50000"/><stop offset="0.0459" stop-color="#a50000"/><stop offset="0.0535" stop-color="#a50000"/><stop offset="0.0612" stop-color="#a50000"/><stop offset="0.0688" stop-color="#a40000"/><stop offset="0.0765" stop-color="#a40000"/><stop offset="0.0841" stop-color="#a30000"/><stop offset="0.0918" stop-color="#a30000"/><stop offset="0.0994" stop-color="#a20000"/><stop offset="0.1071" stop-color="#a10000"/><stop offset="0.1147" stop-color="#a00000"/><stop offset="0.1224" stop-color="#9f0000"/><stop offset="0.1300" stop-color="#9d0000"/><stop offset="0.1377" stop-color="#9c0000"/><stop offset="0.1453" stop-color="#9a0000"/><stop offset="0.1530" stop-color="#980000"/><stop offset="0.1606" stop-color="#960000"/><stop offset="0.1683" stop-color="#930000"/><stop offset="0.1759" stop-color="#910000"/><stop offset="0.1836" stop-color="#8e0000"/><stop offset="0.1912" stop-color="#8a0000"/><stop offset="0.1989" stop-color="#870000"/><stop offset="0.2065" stop-color="#830000"/><stop offset="0.2142" stop-color="#7f0000"/><stop offset="0.2218" stop-color="#7b0000"/><stop offset="0.2295" stop-color="#770000"/><stop offset="0.2371" stop-color="#730000"/><stop offset="0.2448" stop-color="#6f0000"/><stop offset="0.2524" stop-color="#6b0000"/><stop offset="0.2601" stop-color="#670000"/><stop offset="0.2677" stop-color="#640000"/><stop offset="0.2754" stop-color="#620000"/><stop offset="0.2830" stop-color="#600000"/><stop offset="0.2906" stop-color="#5e0000"/><stop offset="0.2983" stop-color="#5e0000"/><stop offset="0.3059" stop-color="#5f0000"/><stop offset="0.3136" stop-color="#610000"/><stop offset="0.3212" stop-color="#640000"/><stop offset="0.3289" stop-color="#680000"/><stop offset="0.3365" stop-color="#6c0000"/><stop offset="0.3442" stop-color="#710000"/><stop offset="0.3518" stop-color="#770000"/><stop offset="0.3595" stop-color="#7d0000"/><stop offset="0.3671" stop-color="#830000"/><stop offset="0.3748" stop-color="#890000"/><stop offset="0.3824" stop-color="#8f0000"/><stop offset="0.3901" stop-color="#930000"/><stop offset="0.3977" stop-color="#970000"/><stop offset="0.4054" stop-color="#9a0000"/><stop offset="0.4130" stop-color="#9b0000"/><stop offset="0.4207" stop-color="#9a0000"/><stop offset="0.4283" stop-color="#980000"/><stop offset="0.4360" stop-color="#950000"/><stop offset="0.4436" stop-color="#900000"/><stop offset="0.4513" stop-color="#8a0000"/><stop offset="0.4589" stop-color="#830000"/><stop offset="0.4666" stop-color="#7d0000"/><stop offset="0.4742" stop-color="#770000"/><stop offset="0.4819" stop-color="#720000"/><stop offset="0.4895" stop-color="#6e0000"/><stop offset="0.4972" stop-color="#6c0000"/><stop offset="0.5048" stop-color="#6c0000"/><stop offset="0.5125" stop-color="#6e0000"/><stop offset="0.5201" stop-color="#710000"/><stop offset="0.5278" stop-color="#760000"/><stop offset="0.5354" stop-color="#7c0000"/><stop offset="0.5431" stop-color="#820000"/><stop offset="0.5507" stop-color="#880000"/><stop offset="0.5583" stop-color="#8c0000"/><stop offset="0.5660" stop-color="#8f0000"/><stop offset="0.5736" stop-color="#8f0000"/><stop offset="0.5813" stop-color="#8e0000"/><stop offset="0.5889" stop-color="#8a0000"/><stop offset="0.5966" stop-color="#850000"/><stop offset="0.6042" stop-color="#800000"/><stop offset="0.6119" stop-color="#7b0000"/><stop offset="0.6195" stop-color="#770000"/><stop offset="0.6272" stop-color="#750000"/><stop offset="0.6348" stop-color="#750000"/><stop offset="0.6425" stop-color="#770000"/><stop offset="0.6501" stop-color="#7b0000"/><stop offset="0.6578" stop-color="#800000"/><stop offset="0.6654" stop-color="#840000"/><stop offset="0.6731" stop-color="#870000"/><stop offset="0.6807" stop-color="#880000"/><stop offset="0.6884" stop-color="#870000"/><stop offset="0.6960" stop-color="#840000"/><stop offset="0.7035" stop-color="#810000"/><stop offset="0.7109" stop-color="#7e0000"/><stop offset="0.7180" stop-color="#7c0000"/><stop offset="0.7250" stop-color="#7b0000"/><stop offset="0.7319" stop-color="#7c0000"/><stop offset="0.7386" stop-color="#7e0000"/><stop offset="0.7451" stop-color="#800000"/><stop offset="0.7515" stop-color="#820000"/><stop offset="0.7578" stop-color="#830000"/><stop offset="0.7639" stop-color="#830000"/><stop offset="0.7699" stop-color="#830000"/><stop offset="0.7758" stop-color="#820000"/><stop offset="0.7815" stop-color="#800000"/><stop offset="0.7871" stop-color="#7f0000"/><stop offset="0.7926" stop-color="#7e0000"/><stop offset="0.7980" stop-color="#7e0000"/><stop offset="0.8033" stop-color="#7f0000"/><stop offset="0.8084" stop-color="#7f0000"/><stop offset="0.8134" stop-color="#800000"/><stop offset="0.8184" stop-color="#800000"/><stop offset="0.8232" stop-color="#810000"/><stop offset="0.8279" stop-color="#810000"/><stop offset="0.8325" stop-color="#800000"/><stop offset="0.8370" stop-color="#800000"/><stop offset="0.8414" stop-color="#800000"/><stop offset="0.8457" stop-color="#800000"/><stop offset="0.8499" stop-color="#800000"/><stop offset="0.8540" stop-color="#800000"/><stop offset="0.8580" stop-color="#800000"/><stop offset="0.8619" stop-color="#800000"/><stop offset="0.8657" stop-color="#800000"/><stop offset="0.8695" stop-color="#800000"/><stop offset="0.8731" stop-color="#800000"/><stop offset="0.8767" stop-color="#800000"/><stop offset="0.8801" stop-color="#800000"/><stop offset="0.8835" stop-color="#800000"/><stop offset="0.8868" stop-color="#800000"/><stop offset="0.8900" stop-color="#800000"/><stop offset="0.8931" stop-color="#800000"/><stop offset="0.8962" stop-color="#800000"/><stop offset="0.8992" stop-color="#800000"/><stop offset="0.9020" stop-color="#800000"/><stop offset="0.9048" stop-color="#800000"/><stop offset="0.9076" stop-color="#800000"/><stop offset="0.9102" stop-color="#800000"/><stop offset="0.9128" stop-color="#800000"/><stop offset="0.9152" stop-color="#800000"/><stop offset="0.9176" stop-color="#800000"/><stop offset="0.9200" stop-color="#800000"/><stop offset="0.9222" stop-color="#800000"/><stop offset="0.9244" stop-color="#800000"/><stop offset="0.9265" stop-color="#800000"/><stop offset="0.9285" stop-color="#800000"/><stop offset="0.9305" stop-color="#800000"/><stop offset="0.9324" stop-color="#800000"/><stop offset="0.9342" stop-color="#800000"/><stop offset="0.9359" stop-color="#800000"/><stop offset="0.9376" stop-color="#800000"/><stop offset="0.9392" stop-color="#800000"/><stop offset="0.9407" stop-color="#800000"/><stop offset="0.9421" stop-color="#800000"/><stop offset="0.9435" stop-color="#800000"/><stop offset="0.9448" stop-color="#800000"/><stop offset="0.9460" stop-color="#800000"/><stop offset="0.9472" stop-color="#800000"/><stop offset="0.9483" stop-color="#800000"/><stop offset="0.9493" stop-color="#800000"/><stop offset="0.9503" stop-color="#800000"/><stop offset="0.9512" stop-color="#800000"/><stop offset="0.9522" stop-color="#800000"/><stop offset="1.0000" stop-color="#800000"/></radialGradient><radialGradient id="Ag2" gradientUnits="userSpaceOnUse" cx="207.64" cy="251.30" r="107.79" fx="310.04" fy="251.30"><stop offset="0.0000" stop-color="#007f00"/><stop offset="0.0026" stop-color="#007f00"/><stop offset="0.0053" stop-color="#008a00"/><stop offset="0.0079" stop-color="#009500"/><stop offset="0.0105" stop-color="#009f00"/><stop offset="0.0132" stop-color="#00a600"/><stop offset="0.0158" stop-color="#00a900"/><stop offset="0.0185" stop-color="#00a700"/><stop offset="0.0211" stop-color="#00a100"/><stop offset="0.0237" stop-color="#009900"/><stop offset="0.0264" stop-color="#008f00"/><stop offset="0.0290" stop-color="#008600"/><stop offset="0.0316" stop-color="#007e00"/><stop offset="0.0343" stop-color="#007900"/><stop offset="0.0369" stop-color="#007800"/><stop offset="0.0395" stop-color="#007900"/><stop offset="0.0422" stop-color="#007d00"/><stop offset="0.0448" stop-color="#008200"/><stop offset="0.0474" stop-color="#008700"/><stop offset="0.0501" stop-color="#008a00"/><stop offset="0.0527" stop-color="#008b00"/><stop offset="0.0554" stop-color="#008900"/><stop offset="0.0580" stop-color="#008500"/><stop offset="0.0606" stop-color="#008100"/><stop offset="0.0633" stop-color="#007d00"/><stop offset="0.0659" stop-color="#007900"/><stop offset="0.0685" stop-color="#007800"/><stop offset="0.0712" stop-color="#007900"/><stop offset="0.0738" stop-color="#007c00"/><stop offset="0.0764" stop-color="#008000"/><stop offset="0.0791" stop-color="#008400"/><stop offset="0.0817" stop-color="#008700"/><stop offset="0.0843" stop-color="#008800"/><stop offset="0.0870" stop-color="#008600"/><stop offset="0.0896" stop-color="#008200"/><stop offset="0.0923" stop-color="#007e00"/><stop offset="0.0949" stop-color="#007b00"/><stop offset="0.0975" stop-color="#007900"/><stop offset="0.1002" stop-color="#007800"/><stop offset="0.1028" stop-color="#007a00"/><stop offset="0.1054" stop-color="#007d00"/><stop offset="0.1081" stop-color="#008100"/><stop offset="0.1107" stop-color="#008400"/><stop offset="0.1133" stop-color="#008600"/><stop offset="0.1160" stop-color="#008700"/><stop offset="0.1186" stop-color="#008600"/><stop offset="0.1212" stop-color="#008400"/><stop offset="0.1239" stop-color="#008200"/><stop offset="0.1265" stop-color="#007f00"/><stop offset="0.1292" stop-color="#007c00"/><stop offset="0.1318" stop-color="#007b00"/><stop offset="0.1344" stop-color="#007b00"/><stop offset="0.1371" stop-color="#007d00"/><stop offset="0.1397" stop-color="#007f00"/><stop offset="0.1423" stop-color="#008200"/><stop offset="0.1450" stop-color="#008500"/><stop offset="0.1476" stop-color="#008600"/><stop offset="0.1502" stop-color="#008500"/><stop offset="0.1529" stop-color="#008300"/><stop offset="0.1555" stop-color="#008000"/><stop offset="0.1581" stop-color="#007d00"/><stop offset="0.1608" stop-color="#007a00"/><stop offset="0.1634" stop-color="#007900"/><stop offset="0.1661" stop-color="#007a00"/><stop offset="0.1687" stop-color="#007c00"/><stop offset="0.1713" stop-color="#007d00"/><stop offset="0.1740" stop-color="#007f00"/><stop offset="0.1766" stop-color="#008200"/><stop offset="0.1792" stop-color="#008400"/><stop offset="0.1819" stop-color="#008500"/><stop offset="0.1845" stop-color="#008400"/><stop offset="0.1871" stop-color="#008200"/><stop offset="0.1898" stop-color="#007f00"/><stop offset="0.1924" stop-color="#007c00"/><stop offset="0.1950" stop-color="#007a00"/><stop offset="0.1977" stop-color="#007900"/><stop offset="0.2003" stop-color="#007a00"/><stop offset="0.2030" stop-color="#007c00"/><stop offset="0.2056" stop-color="#007f00"/><stop offset="0.2082" stop-color="#008100"/><stop offset="0.2109" stop-color="#008200"/><stop offset="0.2135" stop-color="#008300"/><stop offset="0.2161" stop-color="#008200"/><stop offset="0.2188" stop-color="#008000"/><stop offset="0.2214" stop-color="#007f00"/><stop offset="0.2240" stop-color="#007d00"/><stop offset="0.2267" stop-color="#007c00"/><stop offset="0.2293" stop-color="#007b00"/><stop offset="0.2319" stop-color="#007c00"/><stop offset="0.2346" stop-color="#007d00"/><stop offset="0.2372" stop-color="#007f00"/><stop offset="0.2399" stop-color="#008100"/><stop offset="0.2425" stop-color="#008400"/><stop offset="0.2451" stop-color="#008500"/><stop offset="0.2478" stop-color="#008600"/><stop offset="0.2504" stop-color="#008600"/><stop offset="0.2530" stop-color="#008600"/><stop offset="0.2557" stop-color="#008600"/><stop offset="0.2583" stop-color="#008600"/><stop offset="0.2609" stop-color="#008700"/><stop offset="0.2636" stop-color="#008700"/><stop offset="0.2662" stop-color="#008700"/><stop offset="0.2688" stop-color="#008700"/><stop offset="0.2715" stop-color="#008600"/><stop offset="0.2741" stop-color="#008600"/><stop offset="0.2768" stop-color="#008500"/><stop offset="0.2794" stop-color="#008400"/><stop offset="0.2820" stop-color="#008300"/><stop offset="0.2847" stop-color="#008200"/><stop offset="0.2873" stop-color="#008100"/><stop offset="0.2899" stop-color="#008000"/><stop offset="0.2926" stop-color="#007f00"/><stop offset="0.2952" stop-color="#007e00"/><stop offset="0.2978" stop-color="#007e00"/><stop offset="0.3005" stop-color="#007e00"/><stop offset="0.3031" stop-color="#007e00"/><stop offset="0.3057" stop-color="#007e00"/><stop offset="0.3084" stop-color="#007e00"/><stop offset="0.3110" stop-color="#007e00"/><stop offset="0.3137" stop-color="#007e00"/><stop offset="0.3163" stop-color="#007f00"/><stop offset="0.3189" stop-color="#007f00"/><stop offset="0.3216" stop-color="#007f00"/><stop offset="0.3242" stop-color="#007f00"/><stop offset="0.3268" stop-color="#007f00"/><stop offset="0.3295" stop-color="#007f00"/><stop offset="0.3321" stop-color="#008000"/><stop offset="0.3347" stop-color="#008000"/><stop offset="0.3374" stop-color="#008000"/><stop offset="0.3400" stop-color="#008000"/><stop offset="0.3426" stop-color="#008000"/><stop offset="0.3453" stop-color="#008000"/><stop offset="0.3479" stop-color="#008000"/><stop offset="0.3506" stop-color="#008000"/><stop offset="0.3532" stop-color="#008000"/><stop offset="0.3558" stop-color="#008000"/><stop offset="0.3585" stop-color="#008000"/><stop offset="0.3611" stop-color="#008000"/><stop offset="0.3637" stop-color="#008000"/><stop offset="0.3664" stop-color="#008000"/><stop offset="0.3690" stop-color="#008000"/><stop offset="0.3716" stop-color="#008000"/><stop offset="0.3743" stop-color="#008000"/><stop offset="0.3769" stop-color="#008000"/><stop offset="0.3795" stop-color="#008000"/><stop offset="0.3822" stop-color="#008000"/><stop offset="0.3848" stop-color="#008000"/><stop offset="0.3875" stop-color="#008000"/><stop offset="0.3901" stop-color="#008000"/><stop offset="0.3927" stop-color="#008000"/><stop offset="0.3954" stop-color="#008000"/><stop offset="0.3980" stop-color="#008000"/><stop offset="0.4006" stop-color="#008000"/><stop offset="0.4033" stop-color="#008000"/><stop offset="0.4059" stop-color="#008000"/><stop offset="0.4085" stop-color="#008000"/><stop offset="0.4112" stop-color="#008000"/><stop offset="0.4138" stop-color="#008000"/><stop offset="0.4164" stop-color="#008000"/><stop offset="0.4191" stop-color="#008000"/><stop offset="0.4217" stop-color="#008000"/><stop offset="0.4244" stop-color="#008000"/><stop offset="0.4270" stop-color="#008000"/><stop offset="0.4296" stop-color="#008000"/><stop offset="0.4323" stop-color="#008000"/><stop offset="0.4349" stop-color="#008000"/><stop offset="0.4375" stop-color="#008000"/><stop offset="0.4402" stop-color="#008000"/><stop offset="0.4428" stop-color="#008000"/><stop offset="0.4454" stop-color="#008000"/><stop offset="0.4481" stop-color="#008000"/><stop offset="0.4507" stop-color="#008000"/><stop offset="0.4533" stop-color="#008000"/><stop offset="0.4560" stop-color="#008000"/><stop offset="0.4586" stop-color="#008000"/><stop offset="0.4613" stop-color="#008000"/><stop offset="0.4639" stop-color="#008000"/><stop offset="0.4665" stop-color="#008000"/><stop offset="0.4692" stop-color="#008000"/><stop offset="0.4718" stop-color="#008000"/><stop offset="0.4744" stop-color="#008000"/><stop offset="0.4771" stop-color="#008000"/><stop offset="0.4797" stop-color="#008000"/><stop offset="0.4823" stop-color="#008000"/><stop offset="0.4850" stop-color="#008000"/><stop offset="0.4876" stop-color="#008000"/><stop offset="0.4902" stop-color="#008000"/><stop offset="0.4929" stop-color="#008000"/><stop offset="0.4955" stop-color="#008000"/><stop offset="0.4982" stop-color="#008000"/><stop offset="0.5008" stop-color="#008000"/><stop offset="0.5034" stop-color="#008000"/><stop offset="0.5061" stop-color="#008000"/><stop offset="0.5087" stop-color="#008000"/><stop offset="0.5113" stop-color="#008000"/><stop offset="0.5140" stop-color="#008000"/><stop offset="0.5166" stop-color="#008000"/><stop offset="0.5192" stop-color="#008000"/><stop offset="0.5219" stop-color="#008000"/><stop offset="0.5245" stop-color="#008000"/><stop offset="0.5271" stop-color="#008000"/><stop offset="0.5298" stop-color="#008000"/><stop offset="0.5324" stop-color="#008000"/><stop offset="0.5351" stop-color="#008000"/><stop offset="0.5377" stop-color="#008000"/><stop offset="0.5403" stop-color="#008000"/><stop offset="0.5430" stop-color="#008000"/><stop offset="0.5456" stop-color="#008000"/><stop offset="0.5482" stop-color="#008000"/><stop offset="0.5509" stop-color="#008000"/><stop offset="0.5535" stop-color="#008000"/><stop offset="0.5561" stop-color="#008000"/><stop offset="0.5588" stop-color="#008000"/><stop offset="0.5614" stop-color="#008000"/><stop offset="0.5640" stop-color="#008000"/><stop offset="0.5667" stop-color="#008000"/><stop offset="0.5693" stop-color="#008000"/><stop offset="0.5720" stop-color="#008000"/><stop offset="0.5746" stop-color="#008000"/><stop offset="0.5772" stop-color="#008000"/><stop offset="0.5799" stop-color="#008000"/><stop offset="0.5825" stop-color="#008000"/><stop offset="0.5851" stop-color="#008000"/><stop offset="0.5878" stop-color="#008000"/><stop offset="0.5904" stop-color="#008000"/><stop offset="0.5930" stop-color="#008000"/><stop offset="0.5957" stop-color="#008000"/><stop offset="0.5983" stop-color="#008000"/><stop offset="0.6009" stop-color="#008000"/><stop offset="0.6036" stop-color="#008000"/><stop offset="0.6062" stop-color="#008000"/><stop offset="0.6089" stop-color="#008000"/><stop offset="0.6115" stop-color="#008000"/><stop offset="0.6141" stop-color="#008000"/><stop offset="0.6168" stop-color="#008000"/><stop offset="0.6194" stop-color="#008000"/><stop offset="0.6220" stop-color="#008000"/><stop offset="0.6247" stop-color="#008000"/><stop offset="0.6273" stop-color="#008000"/><stop offset="0.6299" stop-color="#008000"/><stop offset="0.6326" stop-color="#008000"/><stop offset="0.6352" stop-color="#008000"/><stop offset="0.6378" stop-color="#008000"/><stop offset="0.6405" stop-color="#008000"/><stop offset="0.6431" stop-color="#008000"/><stop offset="0.6458" stop-color="#008000"/><stop offset="0.6484" stop-color="#008000"/><stop offset="0.6510" stop-color="#008000"/><stop offset="0.6537" stop-color="#008000"/><stop offset="0.6563" stop-color="#008000"/><stop offset="0.6589" stop-color="#008000"/><stop offset="0.6616" stop-color="#008000"/><stop offset="0.6642" stop-color="#008000"/><stop offset="0.6668" stop-color="#008000"/><stop offset="0.6695" stop-color="#008000"/><stop offset="0.6721" stop-color="#008000"/><stop offset="0.6747" stop-color="#008000"/><stop offset="0.6774" stop-color="#008000"/><stop offset="0.6800" stop-color="#008000"/><stop offset="0.6827" stop-color="#008000"/><stop offset="0.6853" stop-color="#008000"/><stop offset="0.6879" stop-color="#008000"/><stop offset="0.6906" stop-color="#008000"/><stop offset="0.6932" stop-color="#008000"/><stop offset="0.6958" stop-color="#008000"/><stop offset="0.6985" stop-color="#008000"/><stop offset="0.7011" stop-color="#008000"/><stop offset="0.7037" stop-color="#008000"/><stop offset="0.7064" stop-color="#008000"/><stop offset="0.7090" stop-color="#008000"/><stop offset="0.7116" stop-color="#008000"/><stop offset="0.7143" stop-color="#008000"/><stop offset="0.7169" stop-color="#008000"/><stop offset="0.7196" stop-color="#008000"/><stop offset="0.7222" stop-color="#008000"/><stop offset="0.7248" stop-color="#008000"/><stop offset="0.7275" stop-color="#008000"/><stop offset="0.7301" stop-color="#008000"/><stop offset="0.7327" stop-color="#008000"/><stop offset="0.7354" stop-color="#008000"/><stop offset="0.7380" stop-color="#008000"/><stop offset="0.7406" stop-color="#008000"/><stop offset="0.7433" stop-color="#008000"/><stop offset="0.7459" stop-color="#008000"/><stop offset="0.7485" stop-color="#008000"/><stop offset="0.7512" stop-color="#008000"/><stop offset="0.7538" stop-color="#008000"/><stop offset="0.7565" stop-color="#008000"/><stop offset="0.7591" stop-color="#008000"/><stop offset="0.7617" stop-color="#008000"/><stop offset="0.7644" stop-color="#008000"/><stop offset="0.7670" stop-color="#008000"/><stop offset="0.7696" stop-color="#008000"/><stop offset="0.7723" stop-color="#008000"/><stop offset="0.7749" stop-color="#008000"/><stop offset="0.7775" stop-color="#008000"/><stop offset="0.7802" stop-color="#008000"/><stop offset="0.7828" stop-color="#008000"/><stop offset="0.7854" stop-color="#008000"/><stop offset="0.7881" stop-color="#008000"/><stop offset="0.7907" stop-color="#008000"/><stop offset="0.7934" stop-color="#008000"/><stop offset="0.7960" stop-color="#008000"/><stop offset="0.7986" stop-color="#008000"/><stop offset="0.8013" stop-color="#008000"/><stop offset="0.8039" stop-color="#008000"/><stop offset="0.8065" stop-color="#008000"/><stop offset="0.8092" stop-color="#008000"/><stop offset="0.8118" stop-color="#008000"/><stop offset="0.8144" stop-color="#008000"/><stop offset="0.8171" stop-color="#008000"/><stop offset="0.8197" stop-color="#008000"/><stop offset="0.8223" stop-color="#008000"/><stop offset="0.8250" stop-color="#008000"/><stop offset="0.8276" stop-color="#008000"/><stop offset="0.8303" stop-color="#008000"/><stop offset="0.8329" stop-color="#008000"/><stop offset="0.8355" stop-color="#008000"/><stop offset="0.8382" stop-color="#008000"/><stop offset="0.8408" stop-color="#008000"/><stop offset="0.8434" stop-color="#008000"/><stop offset="0.8461" stop-color="#008000"/><stop offset="0.8487" stop-color="#008000"/><stop offset="0.8513" stop-color="#008000"/><stop offset="0.8540" stop-color="#008000"/><stop offset="0.8566" stop-color="#008000"/><stop offset="0.8592" stop-color="#008000"/><stop offset="0.8619" stop-color="#008000"/><stop offset="0.8645" stop-color="#008000"/><stop offset="0.8672" stop-color="#008000"/><stop offset="0.8698" stop-color="#008000"/><stop offset="0.8724" stop-color="#008000"/><stop offset="0.8751" stop-color="#008000"/><stop offset="0.8777" stop-color="#008000"/><stop offset="0.8803" stop-color="#008000"/><stop offset="0.8830" stop-color="#008000"/><stop offset="0.8856" stop-color="#008000"/><stop offset="0.8882" stop-color="#008000"/><stop offset="0.8909" stop-color="#008000"/><stop offset="0.8935" stop-color="#008000"/><stop offset="0.8961" stop-color="#008000"/><stop offset="0.8988" stop-color="#008000"/><stop offset="0.9014" stop-color="#008000"/><stop offset="0.9041" stop-color="#008000"/><stop offset="0.9067" stop-color="#008000"/><stop offset="0.9093" stop-color="#008000"/><stop offset="0.9120" stop-color="#008000"/><stop offset="0.9146" stop-color="#008000"/><stop offset="0.9172" stop-color="#008000"/><stop offset="0.9199" stop-color="#008000"/><stop offset="0.9225" stop-color="#008000"/><stop offset="0.9251" stop-color="#008000"/><stop offset="0.9278" stop-color="#008000"/><stop offset="0.9304" stop-color="#008000"/><stop offset="0.9330" stop-color="#008000"/><stop offset="0.9357" stop-color="#008000"/><stop offset="0.9383" stop-color="#008000"/><stop offset="0.9410" stop-color="#008000"/><stop offset="0.9436" stop-color="#008000"/><stop offset="0.9462" stop-color="#008000"/><stop offset="0.9489" stop-color="#008000"/><stop offset="0.9515" stop-color="#008000"/><stop offset="0.9541" stop-color="#008000"/><stop offset="0.9568" stop-color="#008000"/><stop offset="0.9594" stop-color="#008000"/><stop offset="0.9620" stop-color="#008000"/><stop offset="0.9647" stop-color="#008000"/><stop offset="0.9673" stop-color="#008000"/><stop offset="0.9699" stop-color="#008000"/><stop offset="0.9726" stop-color="#008000"/><stop offset="0.9752" stop-color="#008000"/><stop offset="0.9779" stop-color="#008000"/><stop offset="0.9805" stop-color="#008000"/><stop offset="0.9831" stop-color="#008000"/><stop offset="0.9858" stop-color="#008000"/><stop offset="0.9884" stop-color="#008000"/><stop offset="0.9910" stop-color="#008000"/><stop offset="1.0000" stop-color="#008000"/></radialGradient><linearGradient id="Ag3" gradientUnits="userSpaceOnUse" x1="306.02" y1="255.32" x2="314.06" y2="247.28"><stop offset="0" stop-color="#008000" stop-opacity="0"/><stop offset="1" stop-color="#008000" stop-opacity="0.45"/></linearGradient><linearGradient id="Ag4" gradientUnits="userSpaceOnUse" x1="306.02" y1="247.28" x2="314.06" y2="255.32"><stop offset="0" stop-color="#008000" stop-opacity="0"/><stop offset="1" stop-color="#008000" stop-opacity="0.45"/></linearGradient><linearGradient id="Ag5" gradientUnits="userSpaceOnUse" x1="305.39" y1="254.56" x2="314.69" y2="248.04"><stop offset="0" stop-color="#008000" stop-opacity="0"/><stop offset="1" stop-color="#008000" stop-opacity="0.45"/></linearGradient><linearGradient id="Ag6" gradientUnits="userSpaceOnUse" x1="305.39" y1="248.04" x2="314.69" y2="254.56"><stop offset="0" stop-color="#008000" stop-opacity="0"/><stop offset="1" stop-color="#008000" stop-opacity="0.45"/></linearGradient><linearGradient id="Ag7" gradientUnits="userSpaceOnUse" x1="304.89" y1="253.70" x2="315.19" y2="248.90"><stop offset="0" stop-color="#008000" stop-opacity="0"/><stop offset="1" stop-color="#008000" stop-opacity="0.45"/></linearGradient><linearGradient id="Ag8" gradientUnits="userSpaceOnUse" x1="304.89" y1="248.90" x2="315.19" y2="253.70"><stop offset="0" stop-color="#008000" stop-opacity="0"/><stop offset="1" stop-color="#008000" stop-opacity="0.45"/></linearGradient><linearGradient id="Ag9" gradientUnits="userSpaceOnUse" x1="304.55" y1="252.77" x2="315.53" y2="249.83"><stop offset="0" stop-color="#008000" stop-opacity="0"/><stop offset="1" stop-color="#008000" stop-opacity="0.45"/></linearGradient><linearGradient id="Ag10" gradientUnits="userSpaceOnUse" x1="304.55" y1="249.83" x2="315.53" y2="252.77"><stop offset="0" stop-color="#008000" stop-opacity="0"/><stop offset="1" stop-color="#008000" stop-opacity="0.45"/></linearGradient><filter id="fmA" filterUnits="userSpaceOnUse" x="101.7" y="62.1" width="378.8" height="378.4" color-interpolation-filters="sRGB"><feColorMatrix type="matrix" values="2 2 0 0 -1.50784 2 2 0 0 -1.50784 2 2 0 0 -1.50784 0 0 0 0 1"/><feComponentTransfer><feFuncR type="table" tableValues="0 1 1"/><feFuncG type="table" tableValues="0 1 0"/><feFuncB type="table" tableValues="1 1 0"/></feComponentTransfer></filter><clipPath id="icA"><rect x="101.7" y="62.1" width="378.8" height="378.4"/></clipPath><radialGradient id="Bg1" gradientUnits="userSpaceOnUse" cx="922.70" cy="251.30" r="193.74"><stop offset="0.0000" stop-color="#990000"/><stop offset="0.0039" stop-color="#990000"/><stop offset="0.0078" stop-color="#990000"/><stop offset="0.0117" stop-color="#990000"/><stop offset="0.0156" stop-color="#990000"/><stop offset="0.0196" stop-color="#990000"/><stop offset="0.0235" stop-color="#990000"/><stop offset="0.0274" stop-color="#990000"/><stop offset="0.0313" stop-color="#990000"/><stop offset="0.0352" stop-color="#990000"/><stop offset="0.0391" stop-color="#990000"/><stop offset="0.0430" stop-color="#990000"/><stop offset="0.0469" stop-color="#980000"/><stop offset="0.0508" stop-color="#980000"/><stop offset="0.0547" stop-color="#980000"/><stop offset="0.0587" stop-color="#980000"/><stop offset="0.0626" stop-color="#980000"/><stop offset="0.0665" stop-color="#970000"/><stop offset="0.0704" stop-color="#970000"/><stop offset="0.0743" stop-color="#970000"/><stop offset="0.0782" stop-color="#960000"/><stop offset="0.0821" stop-color="#960000"/><stop offset="0.0860" stop-color="#950000"/><stop offset="0.0899" stop-color="#950000"/><stop offset="0.0938" stop-color="#940000"/><stop offset="0.0978" stop-color="#930000"/><stop offset="0.1017" stop-color="#930000"/><stop offset="0.1056" stop-color="#920000"/><stop offset="0.1095" stop-color="#910000"/><stop offset="0.1134" stop-color="#900000"/><stop offset="0.1173" stop-color="#8f0000"/><stop offset="0.1212" stop-color="#8d0000"/><stop offset="0.1251" stop-color="#8c0000"/><stop offset="0.1290" stop-color="#8b0000"/><stop offset="0.1330" stop-color="#890000"/><stop offset="0.1369" stop-color="#880000"/><stop offset="0.1408" stop-color="#860000"/><stop offset="0.1447" stop-color="#840000"/><stop offset="0.1486" stop-color="#830000"/><stop offset="0.1525" stop-color="#810000"/><stop offset="0.1564" stop-color="#7f0000"/><stop offset="0.1603" stop-color="#7d0000"/><stop offset="0.1642" stop-color="#7b0000"/><stop offset="0.1681" stop-color="#790000"/><stop offset="0.1721" stop-color="#770000"/><stop offset="0.1760" stop-color="#750000"/><stop offset="0.1799" stop-color="#730000"/><stop offset="0.1838" stop-color="#710000"/><stop offset="0.1877" stop-color="#6f0000"/><stop offset="0.1916" stop-color="#6d0000"/><stop offset="0.1955" stop-color="#6b0000"/><stop offset="0.1994" stop-color="#6a0000"/><stop offset="0.2033" stop-color="#690000"/><stop offset="0.2073" stop-color="#680000"/><stop offset="0.2112" stop-color="#670000"/><stop offset="0.2151" stop-color="#660000"/><stop offset="0.2190" stop-color="#660000"/><stop offset="0.2229" stop-color="#670000"/><stop offset="0.2268" stop-color="#680000"/><stop offset="0.2307" stop-color="#690000"/><stop offset="0.2346" stop-color="#6a0000"/><stop offset="0.2385" stop-color="#6c0000"/><stop offset="0.2424" stop-color="#6f0000"/><stop offset="0.2464" stop-color="#710000"/><stop offset="0.2503" stop-color="#740000"/><stop offset="0.2542" stop-color="#770000"/><stop offset="0.2581" stop-color="#7a0000"/><stop offset="0.2620" stop-color="#7d0000"/><stop offset="0.2659" stop-color="#810000"/><stop offset="0.2698" stop-color="#840000"/><stop offset="0.2737" stop-color="#870000"/><stop offset="0.2776" stop-color="#8a0000"/><stop offset="0.2815" stop-color="#8d0000"/><stop offset="0.2855" stop-color="#8f0000"/><stop offset="0.2894" stop-color="#910000"/><stop offset="0.2933" stop-color="#930000"/><stop offset="0.2972" stop-color="#940000"/><stop offset="0.3011" stop-color="#950000"/><stop offset="0.3050" stop-color="#950000"/><stop offset="0.3089" stop-color="#950000"/><stop offset="0.3128" stop-color="#940000"/><stop offset="0.3167" stop-color="#920000"/><stop offset="0.3207" stop-color="#900000"/><stop offset="0.3246" stop-color="#8e0000"/><stop offset="0.3285" stop-color="#8b0000"/><stop offset="0.3324" stop-color="#870000"/><stop offset="0.3363" stop-color="#840000"/><stop offset="0.3402" stop-color="#800000"/><stop offset="0.3441" stop-color="#7c0000"/><stop offset="0.3480" stop-color="#790000"/><stop offset="0.3519" stop-color="#750000"/><stop offset="0.3558" stop-color="#720000"/><stop offset="0.3598" stop-color="#700000"/><stop offset="0.3637" stop-color="#6e0000"/><stop offset="0.3676" stop-color="#6d0000"/><stop offset="0.3715" stop-color="#6d0000"/><stop offset="0.3754" stop-color="#6d0000"/><stop offset="0.3793" stop-color="#6f0000"/><stop offset="0.3832" stop-color="#710000"/><stop offset="0.3871" stop-color="#740000"/><stop offset="0.3910" stop-color="#770000"/><stop offset="0.3949" stop-color="#7b0000"/><stop offset="0.3989" stop-color="#7f0000"/><stop offset="0.4028" stop-color="#830000"/><stop offset="0.4067" stop-color="#870000"/><stop offset="0.4106" stop-color="#8b0000"/><stop offset="0.4145" stop-color="#8e0000"/><stop offset="0.4184" stop-color="#900000"/><stop offset="0.4223" stop-color="#910000"/><stop offset="0.4262" stop-color="#910000"/><stop offset="0.4301" stop-color="#910000"/><stop offset="0.4341" stop-color="#8f0000"/><stop offset="0.4380" stop-color="#8c0000"/><stop offset="0.4419" stop-color="#890000"/><stop offset="0.4458" stop-color="#850000"/><stop offset="0.4497" stop-color="#810000"/><stop offset="0.4536" stop-color="#7d0000"/><stop offset="0.4575" stop-color="#790000"/><stop offset="0.4614" stop-color="#750000"/><stop offset="0.4653" stop-color="#730000"/><stop offset="0.4692" stop-color="#710000"/><stop offset="0.4732" stop-color="#700000"/><stop offset="0.4771" stop-color="#710000"/><stop offset="0.4810" stop-color="#730000"/><stop offset="0.4849" stop-color="#760000"/><stop offset="0.4888" stop-color="#7a0000"/><stop offset="0.4927" stop-color="#7e0000"/><stop offset="0.4966" stop-color="#820000"/><stop offset="0.5005" stop-color="#860000"/><stop offset="0.5044" stop-color="#8a0000"/><stop offset="0.5083" stop-color="#8c0000"/><stop offset="0.5123" stop-color="#8e0000"/><stop offset="0.5162" stop-color="#8e0000"/><stop offset="0.5201" stop-color="#8c0000"/><stop offset="0.5240" stop-color="#8a0000"/><stop offset="0.5279" stop-color="#870000"/><stop offset="0.5318" stop-color="#830000"/><stop offset="0.5357" stop-color="#7e0000"/><stop offset="0.5396" stop-color="#7a0000"/><stop offset="0.5435" stop-color="#770000"/><stop offset="0.5475" stop-color="#750000"/><stop offset="0.5514" stop-color="#740000"/><stop offset="0.5553" stop-color="#740000"/><stop offset="0.5592" stop-color="#760000"/><stop offset="0.5631" stop-color="#790000"/><stop offset="0.5670" stop-color="#7d0000"/><stop offset="0.5709" stop-color="#810000"/><stop offset="0.5748" stop-color="#850000"/><stop offset="0.5787" stop-color="#880000"/><stop offset="0.5826" stop-color="#8a0000"/><stop offset="0.5866" stop-color="#8a0000"/><stop offset="0.5905" stop-color="#8a0000"/><stop offset="0.5944" stop-color="#870000"/><stop offset="0.5983" stop-color="#840000"/><stop offset="0.6022" stop-color="#800000"/><stop offset="0.6061" stop-color="#7d0000"/><stop offset="0.6100" stop-color="#7a0000"/><stop offset="0.6139" stop-color="#780000"/><stop offset="0.6178" stop-color="#770000"/><stop offset="0.6218" stop-color="#780000"/><stop offset="0.6257" stop-color="#7b0000"/><stop offset="0.6296" stop-color="#7e0000"/><stop offset="0.6335" stop-color="#810000"/><stop offset="0.6374" stop-color="#840000"/><stop offset="0.6413" stop-color="#860000"/><stop offset="0.6452" stop-color="#860000"/><stop offset="0.6491" stop-color="#860000"/><stop offset="0.6530" stop-color="#840000"/><stop offset="0.6569" stop-color="#820000"/><stop offset="0.6609" stop-color="#800000"/><stop offset="0.6648" stop-color="#7d0000"/><stop offset="0.6687" stop-color="#7c0000"/><stop offset="0.6726" stop-color="#7c0000"/><stop offset="0.6765" stop-color="#7c0000"/><stop offset="0.6804" stop-color="#7d0000"/><stop offset="0.6843" stop-color="#7f0000"/><stop offset="0.6882" stop-color="#810000"/><stop offset="0.6921" stop-color="#820000"/><stop offset="0.6960" stop-color="#830000"/><stop offset="0.7000" stop-color="#830000"/><stop offset="0.7039" stop-color="#820000"/><stop offset="0.7078" stop-color="#810000"/><stop offset="0.7117" stop-color="#7f0000"/><stop offset="0.7155" stop-color="#7e0000"/><stop offset="0.7193" stop-color="#7e0000"/><stop offset="0.7230" stop-color="#7e0000"/><stop offset="0.7267" stop-color="#7f0000"/><stop offset="0.7304" stop-color="#7f0000"/><stop offset="0.7340" stop-color="#800000"/><stop offset="0.7376" stop-color="#810000"/><stop offset="0.7412" stop-color="#810000"/><stop offset="0.7447" stop-color="#810000"/><stop offset="0.7481" stop-color="#810000"/><stop offset="0.7516" stop-color="#800000"/><stop offset="0.7549" stop-color="#800000"/><stop offset="0.7583" stop-color="#7f0000"/><stop offset="0.7616" stop-color="#7f0000"/><stop offset="0.7649" stop-color="#7f0000"/><stop offset="0.7681" stop-color="#800000"/><stop offset="0.7713" stop-color="#800000"/><stop offset="0.7745" stop-color="#800000"/><stop offset="0.7776" stop-color="#800000"/><stop offset="0.7807" stop-color="#800000"/><stop offset="0.7838" stop-color="#800000"/><stop offset="0.7869" stop-color="#800000"/><stop offset="0.7899" stop-color="#800000"/><stop offset="0.7928" stop-color="#800000"/><stop offset="0.7958" stop-color="#800000"/><stop offset="0.7987" stop-color="#800000"/><stop offset="0.8015" stop-color="#800000"/><stop offset="0.8044" stop-color="#800000"/><stop offset="0.8072" stop-color="#800000"/><stop offset="0.8100" stop-color="#800000"/><stop offset="0.8127" stop-color="#800000"/><stop offset="0.8155" stop-color="#800000"/><stop offset="0.8182" stop-color="#800000"/><stop offset="0.8208" stop-color="#800000"/><stop offset="0.8235" stop-color="#800000"/><stop offset="0.8261" stop-color="#800000"/><stop offset="0.8286" stop-color="#800000"/><stop offset="0.8312" stop-color="#800000"/><stop offset="0.8337" stop-color="#800000"/><stop offset="0.8362" stop-color="#800000"/><stop offset="0.8387" stop-color="#800000"/><stop offset="0.8411" stop-color="#800000"/><stop offset="0.8435" stop-color="#800000"/><stop offset="0.8459" stop-color="#800000"/><stop offset="0.8483" stop-color="#800000"/><stop offset="0.8506" stop-color="#800000"/><stop offset="0.8529" stop-color="#800000"/><stop offset="0.8552" stop-color="#800000"/><stop offset="0.8574" stop-color="#800000"/><stop offset="0.8597" stop-color="#800000"/><stop offset="0.8619" stop-color="#800000"/><stop offset="0.8641" stop-color="#800000"/><stop offset="0.8662" stop-color="#800000"/><stop offset="0.8684" stop-color="#800000"/><stop offset="0.8705" stop-color="#800000"/><stop offset="0.8725" stop-color="#800000"/><stop offset="0.8746" stop-color="#800000"/><stop offset="0.8766" stop-color="#800000"/><stop offset="0.8786" stop-color="#800000"/><stop offset="0.8806" stop-color="#800000"/><stop offset="0.8826" stop-color="#800000"/><stop offset="0.8845" stop-color="#800000"/><stop offset="0.8864" stop-color="#800000"/><stop offset="0.8883" stop-color="#800000"/><stop offset="0.8902" stop-color="#800000"/><stop offset="0.8921" stop-color="#800000"/><stop offset="0.8939" stop-color="#800000"/><stop offset="0.8957" stop-color="#800000"/><stop offset="0.8975" stop-color="#800000"/><stop offset="0.8992" stop-color="#800000"/><stop offset="0.9010" stop-color="#800000"/><stop offset="0.9027" stop-color="#800000"/><stop offset="0.9044" stop-color="#800000"/><stop offset="0.9061" stop-color="#800000"/><stop offset="0.9077" stop-color="#800000"/><stop offset="0.9093" stop-color="#800000"/><stop offset="0.9109" stop-color="#800000"/><stop offset="0.9125" stop-color="#800000"/><stop offset="0.9141" stop-color="#800000"/><stop offset="0.9156" stop-color="#800000"/><stop offset="0.9172" stop-color="#800000"/><stop offset="0.9187" stop-color="#800000"/><stop offset="0.9201" stop-color="#800000"/><stop offset="0.9216" stop-color="#800000"/><stop offset="0.9230" stop-color="#800000"/><stop offset="0.9245" stop-color="#800000"/><stop offset="0.9259" stop-color="#800000"/><stop offset="0.9272" stop-color="#800000"/><stop offset="0.9286" stop-color="#800000"/><stop offset="0.9299" stop-color="#800000"/><stop offset="0.9313" stop-color="#800000"/><stop offset="0.9326" stop-color="#800000"/><stop offset="0.9339" stop-color="#800000"/><stop offset="0.9351" stop-color="#800000"/><stop offset="0.9364" stop-color="#800000"/><stop offset="0.9376" stop-color="#800000"/><stop offset="0.9388" stop-color="#800000"/><stop offset="0.9400" stop-color="#800000"/><stop offset="0.9411" stop-color="#800000"/><stop offset="0.9423" stop-color="#800000"/><stop offset="0.9434" stop-color="#800000"/><stop offset="0.9445" stop-color="#800000"/><stop offset="0.9456" stop-color="#800000"/><stop offset="0.9467" stop-color="#800000"/><stop offset="0.9477" stop-color="#800000"/><stop offset="0.9487" stop-color="#800000"/><stop offset="0.9498" stop-color="#800000"/><stop offset="0.9507" stop-color="#800000"/><stop offset="0.9517" stop-color="#800000"/><stop offset="0.9527" stop-color="#800000"/><stop offset="0.9536" stop-color="#800000"/><stop offset="0.9545" stop-color="#800000"/><stop offset="0.9554" stop-color="#800000"/><stop offset="0.9563" stop-color="#800000"/><stop offset="0.9572" stop-color="#800000"/><stop offset="0.9580" stop-color="#800000"/><stop offset="0.9589" stop-color="#800000"/><stop offset="0.9597" stop-color="#800000"/><stop offset="0.9605" stop-color="#800000"/><stop offset="0.9612" stop-color="#800000"/><stop offset="0.9620" stop-color="#800000"/><stop offset="0.9627" stop-color="#800000"/><stop offset="0.9634" stop-color="#800000"/><stop offset="0.9641" stop-color="#800000"/><stop offset="0.9648" stop-color="#800000"/><stop offset="0.9655" stop-color="#800000"/><stop offset="0.9661" stop-color="#800000"/><stop offset="0.9668" stop-color="#800000"/><stop offset="0.9674" stop-color="#800000"/><stop offset="0.9680" stop-color="#800000"/><stop offset="0.9685" stop-color="#800000"/><stop offset="0.9691" stop-color="#800000"/><stop offset="0.9696" stop-color="#800000"/><stop offset="0.9702" stop-color="#800000"/><stop offset="0.9707" stop-color="#800000"/><stop offset="0.9712" stop-color="#800000"/><stop offset="0.9716" stop-color="#800000"/><stop offset="0.9721" stop-color="#800000"/><stop offset="0.9726" stop-color="#800000"/><stop offset="0.9731" stop-color="#800000"/><stop offset="0.9736" stop-color="#800000"/><stop offset="0.9741" stop-color="#800000"/><stop offset="0.9746" stop-color="#800000"/><stop offset="0.9751" stop-color="#800000"/><stop offset="0.9756" stop-color="#800000"/><stop offset="1.0000" stop-color="#800000"/></radialGradient><radialGradient id="Bg2" gradientUnits="userSpaceOnUse" cx="848.95" cy="251.30" r="117.50" fx="960.58" fy="251.30"><stop offset="0.0000" stop-color="#007900"/><stop offset="0.0024" stop-color="#007900"/><stop offset="0.0048" stop-color="#008700"/><stop offset="0.0073" stop-color="#009900"/><stop offset="0.0097" stop-color="#00a900"/><stop offset="0.0121" stop-color="#00b500"/><stop offset="0.0145" stop-color="#00b700"/><stop offset="0.0169" stop-color="#00b200"/><stop offset="0.0193" stop-color="#00a900"/><stop offset="0.0218" stop-color="#009e00"/><stop offset="0.0242" stop-color="#009200"/><stop offset="0.0266" stop-color="#008600"/><stop offset="0.0290" stop-color="#007c00"/><stop offset="0.0314" stop-color="#007600"/><stop offset="0.0338" stop-color="#007400"/><stop offset="0.0363" stop-color="#007600"/><stop offset="0.0387" stop-color="#007b00"/><stop offset="0.0411" stop-color="#008100"/><stop offset="0.0435" stop-color="#008700"/><stop offset="0.0459" stop-color="#008b00"/><stop offset="0.0484" stop-color="#008c00"/><stop offset="0.0508" stop-color="#008900"/><stop offset="0.0532" stop-color="#008400"/><stop offset="0.0556" stop-color="#007f00"/><stop offset="0.0580" stop-color="#007900"/><stop offset="0.0604" stop-color="#007500"/><stop offset="0.0629" stop-color="#007300"/><stop offset="0.0653" stop-color="#007500"/><stop offset="0.0677" stop-color="#007900"/><stop offset="0.0701" stop-color="#007f00"/><stop offset="0.0725" stop-color="#008400"/><stop offset="0.0750" stop-color="#008800"/><stop offset="0.0774" stop-color="#008a00"/><stop offset="0.0798" stop-color="#008800"/><stop offset="0.0822" stop-color="#008400"/><stop offset="0.0846" stop-color="#007f00"/><stop offset="0.0870" stop-color="#007b00"/><stop offset="0.0895" stop-color="#007700"/><stop offset="0.0919" stop-color="#007600"/><stop offset="0.0943" stop-color="#007700"/><stop offset="0.0967" stop-color="#007b00"/><stop offset="0.0991" stop-color="#007f00"/><stop offset="0.1015" stop-color="#008300"/><stop offset="0.1040" stop-color="#008700"/><stop offset="0.1064" stop-color="#008900"/><stop offset="0.1088" stop-color="#008800"/><stop offset="0.1112" stop-color="#008500"/><stop offset="0.1136" stop-color="#008100"/><stop offset="0.1161" stop-color="#007d00"/><stop offset="0.1185" stop-color="#007a00"/><stop offset="0.1209" stop-color="#007800"/><stop offset="0.1233" stop-color="#007900"/><stop offset="0.1257" stop-color="#007c00"/><stop offset="0.1281" stop-color="#007f00"/><stop offset="0.1306" stop-color="#008300"/><stop offset="0.1330" stop-color="#008600"/><stop offset="0.1354" stop-color="#008800"/><stop offset="0.1378" stop-color="#008800"/><stop offset="0.1402" stop-color="#008600"/><stop offset="0.1427" stop-color="#008300"/><stop offset="0.1451" stop-color="#007f00"/><stop offset="0.1475" stop-color="#007c00"/><stop offset="0.1499" stop-color="#007900"/><stop offset="0.1523" stop-color="#007800"/><stop offset="0.1547" stop-color="#007a00"/><stop offset="0.1572" stop-color="#007d00"/><stop offset="0.1596" stop-color="#008100"/><stop offset="0.1620" stop-color="#008400"/><stop offset="0.1644" stop-color="#008600"/><stop offset="0.1668" stop-color="#008700"/><stop offset="0.1692" stop-color="#008500"/><stop offset="0.1717" stop-color="#008200"/><stop offset="0.1741" stop-color="#007f00"/><stop offset="0.1765" stop-color="#007c00"/><stop offset="0.1789" stop-color="#007a00"/><stop offset="0.1813" stop-color="#007900"/><stop offset="0.1838" stop-color="#007a00"/><stop offset="0.1862" stop-color="#007d00"/><stop offset="0.1886" stop-color="#008000"/><stop offset="0.1910" stop-color="#008400"/><stop offset="0.1934" stop-color="#008600"/><stop offset="0.1958" stop-color="#008700"/><stop offset="0.1983" stop-color="#008500"/><stop offset="0.2007" stop-color="#008300"/><stop offset="0.2031" stop-color="#008000"/><stop offset="0.2055" stop-color="#007d00"/><stop offset="0.2079" stop-color="#007b00"/><stop offset="0.2104" stop-color="#007a00"/><stop offset="0.2128" stop-color="#007a00"/><stop offset="0.2152" stop-color="#007d00"/><stop offset="0.2176" stop-color="#008000"/><stop offset="0.2200" stop-color="#008300"/><stop offset="0.2224" stop-color="#008500"/><stop offset="0.2249" stop-color="#008600"/><stop offset="0.2273" stop-color="#008500"/><stop offset="0.2297" stop-color="#008300"/><stop offset="0.2321" stop-color="#008000"/><stop offset="0.2345" stop-color="#007e00"/><stop offset="0.2369" stop-color="#007c00"/><stop offset="0.2394" stop-color="#007b00"/><stop offset="0.2418" stop-color="#007b00"/><stop offset="0.2442" stop-color="#007d00"/><stop offset="0.2466" stop-color="#008000"/><stop offset="0.2490" stop-color="#008200"/><stop offset="0.2515" stop-color="#008400"/><stop offset="0.2539" stop-color="#008500"/><stop offset="0.2563" stop-color="#008500"/><stop offset="0.2587" stop-color="#008400"/><stop offset="0.2611" stop-color="#008200"/><stop offset="0.2635" stop-color="#007f00"/><stop offset="0.2660" stop-color="#007d00"/><stop offset="0.2684" stop-color="#007b00"/><stop offset="0.2708" stop-color="#007b00"/><stop offset="0.2732" stop-color="#007c00"/><stop offset="0.2756" stop-color="#007e00"/><stop offset="0.2781" stop-color="#008000"/><stop offset="0.2805" stop-color="#008300"/><stop offset="0.2829" stop-color="#008400"/><stop offset="0.2853" stop-color="#008500"/><stop offset="0.2877" stop-color="#008400"/><stop offset="0.2901" stop-color="#008200"/><stop offset="0.2926" stop-color="#007f00"/><stop offset="0.2950" stop-color="#007d00"/><stop offset="0.2974" stop-color="#007b00"/><stop offset="0.2998" stop-color="#007a00"/><stop offset="0.3022" stop-color="#007b00"/><stop offset="0.3046" stop-color="#007d00"/><stop offset="0.3071" stop-color="#007f00"/><stop offset="0.3095" stop-color="#008200"/><stop offset="0.3119" stop-color="#008400"/><stop offset="0.3143" stop-color="#008500"/><stop offset="0.3167" stop-color="#008400"/><stop offset="0.3192" stop-color="#008300"/><stop offset="0.3216" stop-color="#008000"/><stop offset="0.3240" stop-color="#007e00"/><stop offset="0.3264" stop-color="#007c00"/><stop offset="0.3288" stop-color="#007b00"/><stop offset="0.3312" stop-color="#007c00"/><stop offset="0.3337" stop-color="#007d00"/><stop offset="0.3361" stop-color="#008000"/><stop offset="0.3385" stop-color="#008200"/><stop offset="0.3409" stop-color="#008400"/><stop offset="0.3433" stop-color="#008500"/><stop offset="0.3458" stop-color="#008500"/><stop offset="0.3482" stop-color="#008400"/><stop offset="0.3506" stop-color="#008200"/><stop offset="0.3530" stop-color="#008000"/><stop offset="0.3554" stop-color="#007e00"/><stop offset="0.3578" stop-color="#007d00"/><stop offset="0.3603" stop-color="#007d00"/><stop offset="0.3627" stop-color="#007d00"/><stop offset="0.3651" stop-color="#007d00"/><stop offset="0.3675" stop-color="#007d00"/><stop offset="0.3699" stop-color="#007e00"/><stop offset="0.3723" stop-color="#007e00"/><stop offset="0.3748" stop-color="#007f00"/><stop offset="0.3772" stop-color="#007f00"/><stop offset="0.3796" stop-color="#008000"/><stop offset="0.3820" stop-color="#008000"/><stop offset="0.3844" stop-color="#008000"/><stop offset="0.3869" stop-color="#008000"/><stop offset="0.3893" stop-color="#008100"/><stop offset="0.3917" stop-color="#008100"/><stop offset="0.3941" stop-color="#008200"/><stop offset="0.3965" stop-color="#008200"/><stop offset="0.3989" stop-color="#008200"/><stop offset="0.4014" stop-color="#008200"/><stop offset="0.4038" stop-color="#008200"/><stop offset="0.4062" stop-color="#008200"/><stop offset="0.4086" stop-color="#008100"/><stop offset="0.4110" stop-color="#008000"/><stop offset="0.4135" stop-color="#007f00"/><stop offset="0.4159" stop-color="#007f00"/><stop offset="0.4183" stop-color="#007f00"/><stop offset="0.4207" stop-color="#007f00"/><stop offset="0.4231" stop-color="#007f00"/><stop offset="0.4255" stop-color="#008000"/><stop offset="0.4280" stop-color="#008100"/><stop offset="0.4304" stop-color="#008100"/><stop offset="0.4328" stop-color="#008100"/><stop offset="0.4352" stop-color="#008100"/><stop offset="0.4376" stop-color="#008100"/><stop offset="0.4400" stop-color="#008000"/><stop offset="0.4425" stop-color="#008000"/><stop offset="0.4449" stop-color="#008000"/><stop offset="0.4473" stop-color="#007f00"/><stop offset="0.4497" stop-color="#008000"/><stop offset="0.4521" stop-color="#008000"/><stop offset="0.4546" stop-color="#008000"/><stop offset="0.4570" stop-color="#008000"/><stop offset="0.4594" stop-color="#008000"/><stop offset="0.4618" stop-color="#008000"/><stop offset="0.4642" stop-color="#008000"/><stop offset="0.4666" stop-color="#008000"/><stop offset="0.4691" stop-color="#008000"/><stop offset="0.4715" stop-color="#008000"/><stop offset="0.4739" stop-color="#008000"/><stop offset="0.4763" stop-color="#008000"/><stop offset="0.4787" stop-color="#008000"/><stop offset="0.4812" stop-color="#008000"/><stop offset="0.4836" stop-color="#008000"/><stop offset="0.4860" stop-color="#008000"/><stop offset="0.4884" stop-color="#008000"/><stop offset="0.4908" stop-color="#008000"/><stop offset="0.4932" stop-color="#008000"/><stop offset="0.4957" stop-color="#008000"/><stop offset="0.4981" stop-color="#008000"/><stop offset="0.5005" stop-color="#008000"/><stop offset="0.5029" stop-color="#008000"/><stop offset="0.5053" stop-color="#008000"/><stop offset="0.5077" stop-color="#008000"/><stop offset="0.5102" stop-color="#008000"/><stop offset="0.5126" stop-color="#008000"/><stop offset="0.5150" stop-color="#008000"/><stop offset="0.5174" stop-color="#008000"/><stop offset="0.5198" stop-color="#008000"/><stop offset="0.5223" stop-color="#008000"/><stop offset="0.5247" stop-color="#008000"/><stop offset="0.5271" stop-color="#008000"/><stop offset="0.5295" stop-color="#008000"/><stop offset="0.5319" stop-color="#008000"/><stop offset="0.5343" stop-color="#008000"/><stop offset="0.5368" stop-color="#008000"/><stop offset="0.5392" stop-color="#008000"/><stop offset="0.5416" stop-color="#008000"/><stop offset="0.5440" stop-color="#008000"/><stop offset="0.5464" stop-color="#008000"/><stop offset="0.5489" stop-color="#008000"/><stop offset="0.5513" stop-color="#008000"/><stop offset="0.5537" stop-color="#008000"/><stop offset="0.5561" stop-color="#008000"/><stop offset="0.5585" stop-color="#008000"/><stop offset="0.5609" stop-color="#008000"/><stop offset="0.5634" stop-color="#008000"/><stop offset="0.5658" stop-color="#008000"/><stop offset="0.5682" stop-color="#008000"/><stop offset="0.5706" stop-color="#008000"/><stop offset="0.5730" stop-color="#008000"/><stop offset="0.5754" stop-color="#008000"/><stop offset="0.5779" stop-color="#008000"/><stop offset="0.5803" stop-color="#008000"/><stop offset="0.5827" stop-color="#008000"/><stop offset="0.5851" stop-color="#008000"/><stop offset="0.5875" stop-color="#008000"/><stop offset="0.5900" stop-color="#008000"/><stop offset="0.5924" stop-color="#008000"/><stop offset="0.5948" stop-color="#008000"/><stop offset="0.5972" stop-color="#008000"/><stop offset="0.5996" stop-color="#008000"/><stop offset="0.6020" stop-color="#008000"/><stop offset="0.6045" stop-color="#008000"/><stop offset="0.6069" stop-color="#008000"/><stop offset="0.6093" stop-color="#008000"/><stop offset="0.6117" stop-color="#008000"/><stop offset="0.6141" stop-color="#008000"/><stop offset="0.6166" stop-color="#008000"/><stop offset="0.6190" stop-color="#008000"/><stop offset="0.6214" stop-color="#008000"/><stop offset="0.6238" stop-color="#008000"/><stop offset="0.6262" stop-color="#008000"/><stop offset="0.6286" stop-color="#008000"/><stop offset="0.6311" stop-color="#008000"/><stop offset="0.6335" stop-color="#008000"/><stop offset="0.6359" stop-color="#008000"/><stop offset="0.6383" stop-color="#008000"/><stop offset="0.6407" stop-color="#008000"/><stop offset="0.6431" stop-color="#008000"/><stop offset="0.6456" stop-color="#008000"/><stop offset="0.6480" stop-color="#008000"/><stop offset="0.6504" stop-color="#008000"/><stop offset="0.6528" stop-color="#008000"/><stop offset="0.6552" stop-color="#008000"/><stop offset="0.6577" stop-color="#008000"/><stop offset="0.6601" stop-color="#008000"/><stop offset="0.6625" stop-color="#008000"/><stop offset="0.6649" stop-color="#008000"/><stop offset="0.6673" stop-color="#008000"/><stop offset="0.6697" stop-color="#008000"/><stop offset="0.6722" stop-color="#008000"/><stop offset="0.6746" stop-color="#008000"/><stop offset="0.6770" stop-color="#008000"/><stop offset="0.6794" stop-color="#008000"/><stop offset="0.6818" stop-color="#008000"/><stop offset="0.6843" stop-color="#008000"/><stop offset="0.6867" stop-color="#008000"/><stop offset="0.6891" stop-color="#008000"/><stop offset="0.6915" stop-color="#008000"/><stop offset="0.6939" stop-color="#008000"/><stop offset="0.6963" stop-color="#008000"/><stop offset="0.6988" stop-color="#008000"/><stop offset="0.7012" stop-color="#008000"/><stop offset="0.7036" stop-color="#008000"/><stop offset="0.7060" stop-color="#008000"/><stop offset="0.7084" stop-color="#008000"/><stop offset="0.7108" stop-color="#008000"/><stop offset="0.7133" stop-color="#008000"/><stop offset="0.7157" stop-color="#008000"/><stop offset="0.7181" stop-color="#008000"/><stop offset="0.7205" stop-color="#008000"/><stop offset="0.7229" stop-color="#008000"/><stop offset="0.7254" stop-color="#008000"/><stop offset="0.7278" stop-color="#008000"/><stop offset="0.7302" stop-color="#008000"/><stop offset="0.7326" stop-color="#008000"/><stop offset="0.7350" stop-color="#008000"/><stop offset="0.7374" stop-color="#008000"/><stop offset="0.7399" stop-color="#008000"/><stop offset="0.7423" stop-color="#008000"/><stop offset="0.7447" stop-color="#008000"/><stop offset="0.7471" stop-color="#008000"/><stop offset="0.7495" stop-color="#008000"/><stop offset="0.7520" stop-color="#008000"/><stop offset="0.7544" stop-color="#008000"/><stop offset="0.7568" stop-color="#008000"/><stop offset="0.7592" stop-color="#008000"/><stop offset="0.7616" stop-color="#008000"/><stop offset="0.7640" stop-color="#008000"/><stop offset="0.7665" stop-color="#008000"/><stop offset="0.7689" stop-color="#008000"/><stop offset="0.7713" stop-color="#008000"/><stop offset="0.7737" stop-color="#008000"/><stop offset="0.7761" stop-color="#008000"/><stop offset="0.7785" stop-color="#008000"/><stop offset="0.7810" stop-color="#008000"/><stop offset="0.7834" stop-color="#008000"/><stop offset="0.7858" stop-color="#008000"/><stop offset="0.7882" stop-color="#008000"/><stop offset="0.7906" stop-color="#008000"/><stop offset="0.7931" stop-color="#008000"/><stop offset="0.7955" stop-color="#008000"/><stop offset="0.7979" stop-color="#008000"/><stop offset="0.8003" stop-color="#008000"/><stop offset="0.8027" stop-color="#008000"/><stop offset="0.8051" stop-color="#008000"/><stop offset="0.8076" stop-color="#008000"/><stop offset="0.8100" stop-color="#008000"/><stop offset="0.8124" stop-color="#008000"/><stop offset="0.8148" stop-color="#008000"/><stop offset="0.8172" stop-color="#008000"/><stop offset="0.8197" stop-color="#008000"/><stop offset="0.8221" stop-color="#008000"/><stop offset="0.8245" stop-color="#008000"/><stop offset="0.8269" stop-color="#008000"/><stop offset="0.8293" stop-color="#008000"/><stop offset="0.8317" stop-color="#008000"/><stop offset="0.8342" stop-color="#008000"/><stop offset="0.8366" stop-color="#008000"/><stop offset="0.8390" stop-color="#008000"/><stop offset="0.8414" stop-color="#008000"/><stop offset="0.8438" stop-color="#008000"/><stop offset="0.8462" stop-color="#008000"/><stop offset="0.8487" stop-color="#008000"/><stop offset="0.8511" stop-color="#008000"/><stop offset="0.8535" stop-color="#008000"/><stop offset="0.8559" stop-color="#008000"/><stop offset="0.8583" stop-color="#008000"/><stop offset="0.8608" stop-color="#008000"/><stop offset="0.8632" stop-color="#008000"/><stop offset="0.8656" stop-color="#008000"/><stop offset="0.8680" stop-color="#008000"/><stop offset="0.8704" stop-color="#008000"/><stop offset="0.8728" stop-color="#008000"/><stop offset="0.8753" stop-color="#008000"/><stop offset="0.8777" stop-color="#008000"/><stop offset="0.8801" stop-color="#008000"/><stop offset="0.8825" stop-color="#008000"/><stop offset="0.8849" stop-color="#008000"/><stop offset="0.8874" stop-color="#008000"/><stop offset="0.8898" stop-color="#008000"/><stop offset="0.8922" stop-color="#008000"/><stop offset="0.8946" stop-color="#008000"/><stop offset="0.8970" stop-color="#008000"/><stop offset="0.8994" stop-color="#008000"/><stop offset="0.9019" stop-color="#008000"/><stop offset="0.9043" stop-color="#008000"/><stop offset="0.9067" stop-color="#008000"/><stop offset="0.9091" stop-color="#008000"/><stop offset="0.9115" stop-color="#008000"/><stop offset="0.9139" stop-color="#008000"/><stop offset="0.9164" stop-color="#008000"/><stop offset="0.9188" stop-color="#008000"/><stop offset="0.9212" stop-color="#008000"/><stop offset="0.9236" stop-color="#008000"/><stop offset="0.9260" stop-color="#008000"/><stop offset="0.9285" stop-color="#008000"/><stop offset="0.9309" stop-color="#008000"/><stop offset="0.9333" stop-color="#008000"/><stop offset="0.9357" stop-color="#008000"/><stop offset="0.9381" stop-color="#008000"/><stop offset="0.9405" stop-color="#008000"/><stop offset="0.9430" stop-color="#008000"/><stop offset="0.9454" stop-color="#008000"/><stop offset="0.9478" stop-color="#008000"/><stop offset="0.9502" stop-color="#008000"/><stop offset="0.9526" stop-color="#008000"/><stop offset="0.9551" stop-color="#008000"/><stop offset="0.9575" stop-color="#008000"/><stop offset="0.9599" stop-color="#008000"/><stop offset="0.9623" stop-color="#008000"/><stop offset="0.9647" stop-color="#008000"/><stop offset="0.9671" stop-color="#008000"/><stop offset="0.9696" stop-color="#008000"/><stop offset="0.9720" stop-color="#008000"/><stop offset="0.9744" stop-color="#008000"/><stop offset="0.9768" stop-color="#008000"/><stop offset="0.9792" stop-color="#008000"/><stop offset="0.9816" stop-color="#008000"/><stop offset="0.9841" stop-color="#008000"/><stop offset="0.9865" stop-color="#008000"/><stop offset="0.9889" stop-color="#008000"/><stop offset="0.9913" stop-color="#008000"/><stop offset="1.0000" stop-color="#008000"/></radialGradient><linearGradient id="Bg3" gradientUnits="userSpaceOnUse" x1="956.78" y1="255.52" x2="964.38" y2="247.08"><stop offset="0" stop-color="#008000" stop-opacity="0"/><stop offset="1" stop-color="#008000" stop-opacity="0.4"/></linearGradient><linearGradient id="Bg4" gradientUnits="userSpaceOnUse" x1="956.78" y1="247.08" x2="964.38" y2="255.52"><stop offset="0" stop-color="#008000" stop-opacity="0"/><stop offset="1" stop-color="#008000" stop-opacity="0.4"/></linearGradient><linearGradient id="Bg5" gradientUnits="userSpaceOnUse" x1="956.23" y1="254.95" x2="964.93" y2="247.65"><stop offset="0" stop-color="#008000" stop-opacity="0"/><stop offset="1" stop-color="#008000" stop-opacity="0.4"/></linearGradient><linearGradient id="Bg6" gradientUnits="userSpaceOnUse" x1="956.23" y1="247.65" x2="964.93" y2="254.95"><stop offset="0" stop-color="#008000" stop-opacity="0"/><stop offset="1" stop-color="#008000" stop-opacity="0.4"/></linearGradient><linearGradient id="Bg7" gradientUnits="userSpaceOnUse" x1="955.76" y1="254.31" x2="965.40" y2="248.29"><stop offset="0" stop-color="#008000" stop-opacity="0"/><stop offset="1" stop-color="#008000" stop-opacity="0.4"/></linearGradient><linearGradient id="Bg8" gradientUnits="userSpaceOnUse" x1="955.76" y1="248.29" x2="965.40" y2="254.31"><stop offset="0" stop-color="#008000" stop-opacity="0"/><stop offset="1" stop-color="#008000" stop-opacity="0.4"/></linearGradient><linearGradient id="Bg9" gradientUnits="userSpaceOnUse" x1="955.39" y1="253.61" x2="965.77" y2="248.99"><stop offset="0" stop-color="#008000" stop-opacity="0"/><stop offset="1" stop-color="#008000" stop-opacity="0.4"/></linearGradient><linearGradient id="Bg10" gradientUnits="userSpaceOnUse" x1="955.39" y1="248.99" x2="965.77" y2="253.61"><stop offset="0" stop-color="#008000" stop-opacity="0"/><stop offset="1" stop-color="#008000" stop-opacity="0.4"/></linearGradient><linearGradient id="Bg11" gradientUnits="userSpaceOnUse" x1="955.12" y1="252.87" x2="966.04" y2="249.73"><stop offset="0" stop-color="#008000" stop-opacity="0"/><stop offset="1" stop-color="#008000" stop-opacity="0.4"/></linearGradient><linearGradient id="Bg12" gradientUnits="userSpaceOnUse" x1="955.12" y1="249.73" x2="966.04" y2="252.87"><stop offset="0" stop-color="#008000" stop-opacity="0"/><stop offset="1" stop-color="#008000" stop-opacity="0.4"/></linearGradient><filter id="fmB" filterUnits="userSpaceOnUse" x="733.3" y="62.1" width="378.8" height="378.4" color-interpolation-filters="sRGB"><feColorMatrix type="matrix" values="2 2 0 0 -1.50784 2 2 0 0 -1.50784 2 2 0 0 -1.50784 0 0 0 0 1"/><feComponentTransfer><feFuncR type="table" tableValues="0 1 1"/><feFuncG type="table" tableValues="0 1 0"/><feFuncB type="table" tableValues="1 1 0"/></feComponentTransfer></filter><clipPath id="icB"><rect x="733.3" y="62.1" width="378.8" height="378.4"/></clipPath><radialGradient id="Cg1" gradientUnits="userSpaceOnUse" cx="1554.20" cy="251.30" r="287.48"><stop offset="0.0000" stop-color="#950000"/><stop offset="0.0026" stop-color="#950000"/><stop offset="0.0053" stop-color="#950000"/><stop offset="0.0079" stop-color="#950000"/><stop offset="0.0105" stop-color="#950000"/><stop offset="0.0132" stop-color="#950000"/><stop offset="0.0158" stop-color="#950000"/><stop offset="0.0184" stop-color="#950000"/><stop offset="0.0211" stop-color="#950000"/><stop offset="0.0237" stop-color="#950000"/><stop offset="0.0264" stop-color="#950000"/><stop offset="0.0290" stop-color="#950000"/><stop offset="0.0316" stop-color="#950000"/><stop offset="0.0343" stop-color="#950000"/><stop offset="0.0369" stop-color="#950000"/><stop offset="0.0395" stop-color="#950000"/><stop offset="0.0422" stop-color="#950000"/><stop offset="0.0448" stop-color="#950000"/><stop offset="0.0474" stop-color="#950000"/><stop offset="0.0501" stop-color="#950000"/><stop offset="0.0527" stop-color="#940000"/><stop offset="0.0553" stop-color="#940000"/><stop offset="0.0580" stop-color="#940000"/><stop offset="0.0606" stop-color="#940000"/><stop offset="0.0632" stop-color="#930000"/><stop offset="0.0659" stop-color="#930000"/><stop offset="0.0685" stop-color="#930000"/><stop offset="0.0712" stop-color="#920000"/><stop offset="0.0738" stop-color="#920000"/><stop offset="0.0764" stop-color="#910000"/><stop offset="0.0791" stop-color="#910000"/><stop offset="0.0817" stop-color="#900000"/><stop offset="0.0843" stop-color="#900000"/><stop offset="0.0870" stop-color="#8f0000"/><stop offset="0.0896" stop-color="#8e0000"/><stop offset="0.0922" stop-color="#8e0000"/><stop offset="0.0949" stop-color="#8d0000"/><stop offset="0.0975" stop-color="#8c0000"/><stop offset="0.1001" stop-color="#8b0000"/><stop offset="0.1028" stop-color="#8b0000"/><stop offset="0.1054" stop-color="#8a0000"/><stop offset="0.1080" stop-color="#890000"/><stop offset="0.1107" stop-color="#880000"/><stop offset="0.1133" stop-color="#870000"/><stop offset="0.1160" stop-color="#860000"/><stop offset="0.1186" stop-color="#840000"/><stop offset="0.1212" stop-color="#830000"/><stop offset="0.1239" stop-color="#820000"/><stop offset="0.1265" stop-color="#800000"/><stop offset="0.1291" stop-color="#7f0000"/><stop offset="0.1318" stop-color="#7e0000"/><stop offset="0.1344" stop-color="#7c0000"/><stop offset="0.1370" stop-color="#7b0000"/><stop offset="0.1397" stop-color="#790000"/><stop offset="0.1423" stop-color="#780000"/><stop offset="0.1449" stop-color="#760000"/><stop offset="0.1476" stop-color="#750000"/><stop offset="0.1502" stop-color="#730000"/><stop offset="0.1528" stop-color="#720000"/><stop offset="0.1555" stop-color="#710000"/><stop offset="0.1581" stop-color="#700000"/><stop offset="0.1608" stop-color="#6f0000"/><stop offset="0.1634" stop-color="#6e0000"/><stop offset="0.1660" stop-color="#6d0000"/><stop offset="0.1687" stop-color="#6c0000"/><stop offset="0.1713" stop-color="#6b0000"/><stop offset="0.1739" stop-color="#6b0000"/><stop offset="0.1766" stop-color="#6b0000"/><stop offset="0.1792" stop-color="#6b0000"/><stop offset="0.1818" stop-color="#6b0000"/><stop offset="0.1845" stop-color="#6b0000"/><stop offset="0.1871" stop-color="#6c0000"/><stop offset="0.1897" stop-color="#6c0000"/><stop offset="0.1924" stop-color="#6d0000"/><stop offset="0.1950" stop-color="#6e0000"/><stop offset="0.1976" stop-color="#700000"/><stop offset="0.2003" stop-color="#710000"/><stop offset="0.2029" stop-color="#730000"/><stop offset="0.2056" stop-color="#750000"/><stop offset="0.2082" stop-color="#770000"/><stop offset="0.2108" stop-color="#790000"/><stop offset="0.2135" stop-color="#7b0000"/><stop offset="0.2161" stop-color="#7d0000"/><stop offset="0.2187" stop-color="#7f0000"/><stop offset="0.2214" stop-color="#820000"/><stop offset="0.2240" stop-color="#840000"/><stop offset="0.2266" stop-color="#860000"/><stop offset="0.2293" stop-color="#880000"/><stop offset="0.2319" stop-color="#8a0000"/><stop offset="0.2345" stop-color="#8c0000"/><stop offset="0.2372" stop-color="#8e0000"/><stop offset="0.2398" stop-color="#8f0000"/><stop offset="0.2424" stop-color="#910000"/><stop offset="0.2451" stop-color="#920000"/><stop offset="0.2477" stop-color="#920000"/><stop offset="0.2504" stop-color="#930000"/><stop offset="0.2530" stop-color="#930000"/><stop offset="0.2556" stop-color="#930000"/><stop offset="0.2583" stop-color="#920000"/><stop offset="0.2609" stop-color="#910000"/><stop offset="0.2635" stop-color="#900000"/><stop offset="0.2662" stop-color="#8f0000"/><stop offset="0.2688" stop-color="#8d0000"/><stop offset="0.2714" stop-color="#8b0000"/><stop offset="0.2741" stop-color="#880000"/><stop offset="0.2767" stop-color="#860000"/><stop offset="0.2793" stop-color="#830000"/><stop offset="0.2820" stop-color="#800000"/><stop offset="0.2846" stop-color="#7e0000"/><stop offset="0.2872" stop-color="#7b0000"/><stop offset="0.2899" stop-color="#780000"/><stop offset="0.2925" stop-color="#760000"/><stop offset="0.2952" stop-color="#730000"/><stop offset="0.2978" stop-color="#710000"/><stop offset="0.3004" stop-color="#700000"/><stop offset="0.3031" stop-color="#6f0000"/><stop offset="0.3057" stop-color="#6e0000"/><stop offset="0.3083" stop-color="#6e0000"/><stop offset="0.3110" stop-color="#6e0000"/><stop offset="0.3136" stop-color="#6f0000"/><stop offset="0.3162" stop-color="#700000"/><stop offset="0.3189" stop-color="#720000"/><stop offset="0.3215" stop-color="#740000"/><stop offset="0.3241" stop-color="#760000"/><stop offset="0.3268" stop-color="#790000"/><stop offset="0.3294" stop-color="#7c0000"/><stop offset="0.3320" stop-color="#7f0000"/><stop offset="0.3347" stop-color="#830000"/><stop offset="0.3373" stop-color="#860000"/><stop offset="0.3400" stop-color="#880000"/><stop offset="0.3426" stop-color="#8b0000"/><stop offset="0.3452" stop-color="#8d0000"/><stop offset="0.3479" stop-color="#8f0000"/><stop offset="0.3505" stop-color="#900000"/><stop offset="0.3531" stop-color="#910000"/><stop offset="0.3558" stop-color="#910000"/><stop offset="0.3584" stop-color="#900000"/><stop offset="0.3610" stop-color="#8f0000"/><stop offset="0.3637" stop-color="#8d0000"/><stop offset="0.3663" stop-color="#8b0000"/><stop offset="0.3689" stop-color="#880000"/><stop offset="0.3716" stop-color="#850000"/><stop offset="0.3742" stop-color="#820000"/><stop offset="0.3768" stop-color="#7e0000"/><stop offset="0.3795" stop-color="#7b0000"/><stop offset="0.3821" stop-color="#780000"/><stop offset="0.3848" stop-color="#750000"/><stop offset="0.3874" stop-color="#730000"/><stop offset="0.3900" stop-color="#710000"/><stop offset="0.3927" stop-color="#700000"/><stop offset="0.3953" stop-color="#700000"/><stop offset="0.3979" stop-color="#710000"/><stop offset="0.4006" stop-color="#720000"/><stop offset="0.4032" stop-color="#740000"/><stop offset="0.4058" stop-color="#770000"/><stop offset="0.4085" stop-color="#7a0000"/><stop offset="0.4111" stop-color="#7d0000"/><stop offset="0.4137" stop-color="#810000"/><stop offset="0.4164" stop-color="#840000"/><stop offset="0.4190" stop-color="#870000"/><stop offset="0.4216" stop-color="#8a0000"/><stop offset="0.4243" stop-color="#8c0000"/><stop offset="0.4269" stop-color="#8e0000"/><stop offset="0.4296" stop-color="#8f0000"/><stop offset="0.4322" stop-color="#8f0000"/><stop offset="0.4348" stop-color="#8e0000"/><stop offset="0.4375" stop-color="#8c0000"/><stop offset="0.4401" stop-color="#890000"/><stop offset="0.4427" stop-color="#860000"/><stop offset="0.4454" stop-color="#830000"/><stop offset="0.4480" stop-color="#7f0000"/><stop offset="0.4506" stop-color="#7c0000"/><stop offset="0.4533" stop-color="#780000"/><stop offset="0.4559" stop-color="#760000"/><stop offset="0.4585" stop-color="#740000"/><stop offset="0.4612" stop-color="#730000"/><stop offset="0.4638" stop-color="#720000"/><stop offset="0.4664" stop-color="#730000"/><stop offset="0.4691" stop-color="#750000"/><stop offset="0.4717" stop-color="#770000"/><stop offset="0.4744" stop-color="#7b0000"/><stop offset="0.4770" stop-color="#7e0000"/><stop offset="0.4796" stop-color="#820000"/><stop offset="0.4823" stop-color="#850000"/><stop offset="0.4849" stop-color="#880000"/><stop offset="0.4875" stop-color="#8a0000"/><stop offset="0.4902" stop-color="#8c0000"/><stop offset="0.4928" stop-color="#8c0000"/><stop offset="0.4954" stop-color="#8c0000"/><stop offset="0.4981" stop-color="#8a0000"/><stop offset="0.5007" stop-color="#880000"/><stop offset="0.5033" stop-color="#850000"/><stop offset="0.5060" stop-color="#810000"/><stop offset="0.5086" stop-color="#7e0000"/><stop offset="0.5112" stop-color="#7b0000"/><stop offset="0.5139" stop-color="#780000"/><stop offset="0.5165" stop-color="#760000"/><stop offset="0.5191" stop-color="#750000"/><stop offset="0.5218" stop-color="#750000"/><stop offset="0.5244" stop-color="#760000"/><stop offset="0.5271" stop-color="#780000"/><stop offset="0.5297" stop-color="#7b0000"/><stop offset="0.5323" stop-color="#7e0000"/><stop offset="0.5350" stop-color="#820000"/><stop offset="0.5376" stop-color="#850000"/><stop offset="0.5402" stop-color="#880000"/><stop offset="0.5429" stop-color="#890000"/><stop offset="0.5455" stop-color="#8a0000"/><stop offset="0.5481" stop-color="#8a0000"/><stop offset="0.5508" stop-color="#880000"/><stop offset="0.5534" stop-color="#860000"/><stop offset="0.5560" stop-color="#830000"/><stop offset="0.5587" stop-color="#800000"/><stop offset="0.5613" stop-color="#7d0000"/><stop offset="0.5639" stop-color="#7a0000"/><stop offset="0.5666" stop-color="#780000"/><stop offset="0.5692" stop-color="#770000"/><stop offset="0.5719" stop-color="#770000"/><stop offset="0.5745" stop-color="#790000"/><stop offset="0.5771" stop-color="#7b0000"/><stop offset="0.5798" stop-color="#7e0000"/><stop offset="0.5824" stop-color="#810000"/><stop offset="0.5850" stop-color="#840000"/><stop offset="0.5877" stop-color="#860000"/><stop offset="0.5903" stop-color="#880000"/><stop offset="0.5929" stop-color="#880000"/><stop offset="0.5956" stop-color="#880000"/><stop offset="0.5982" stop-color="#860000"/><stop offset="0.6008" stop-color="#830000"/><stop offset="0.6035" stop-color="#800000"/><stop offset="0.6061" stop-color="#7d0000"/><stop offset="0.6087" stop-color="#7b0000"/><stop offset="0.6114" stop-color="#790000"/><stop offset="0.6140" stop-color="#780000"/><stop offset="0.6167" stop-color="#790000"/><stop offset="0.6193" stop-color="#7a0000"/><stop offset="0.6219" stop-color="#7d0000"/><stop offset="0.6246" stop-color="#800000"/><stop offset="0.6272" stop-color="#830000"/><stop offset="0.6298" stop-color="#860000"/><stop offset="0.6325" stop-color="#870000"/><stop offset="0.6351" stop-color="#870000"/><stop offset="0.6377" stop-color="#860000"/><stop offset="0.6404" stop-color="#840000"/><stop offset="0.6430" stop-color="#810000"/><stop offset="0.6456" stop-color="#7e0000"/><stop offset="0.6483" stop-color="#7c0000"/><stop offset="0.6509" stop-color="#7a0000"/><stop offset="0.6535" stop-color="#790000"/><stop offset="0.6562" stop-color="#7a0000"/><stop offset="0.6588" stop-color="#7c0000"/><stop offset="0.6615" stop-color="#7e0000"/><stop offset="0.6641" stop-color="#810000"/><stop offset="0.6667" stop-color="#840000"/><stop offset="0.6694" stop-color="#860000"/><stop offset="0.6720" stop-color="#870000"/><stop offset="0.6746" stop-color="#860000"/><stop offset="0.6773" stop-color="#840000"/><stop offset="0.6799" stop-color="#810000"/><stop offset="0.6825" stop-color="#7e0000"/><stop offset="0.6852" stop-color="#7b0000"/><stop offset="0.6878" stop-color="#7a0000"/><stop offset="0.6904" stop-color="#7a0000"/><stop offset="0.6931" stop-color="#7b0000"/><stop offset="0.6957" stop-color="#7e0000"/><stop offset="0.6983" stop-color="#810000"/><stop offset="0.7010" stop-color="#840000"/><stop offset="0.7036" stop-color="#860000"/><stop offset="0.7063" stop-color="#860000"/><stop offset="0.7089" stop-color="#850000"/><stop offset="0.7115" stop-color="#830000"/><stop offset="0.7142" stop-color="#7f0000"/><stop offset="0.7168" stop-color="#7c0000"/><stop offset="0.7194" stop-color="#7a0000"/><stop offset="0.7220" stop-color="#7a0000"/><stop offset="0.7245" stop-color="#7b0000"/><stop offset="0.7271" stop-color="#7e0000"/><stop offset="0.7296" stop-color="#810000"/><stop offset="0.7321" stop-color="#830000"/><stop offset="0.7346" stop-color="#850000"/><stop offset="0.7371" stop-color="#860000"/><stop offset="0.7395" stop-color="#850000"/><stop offset="0.7420" stop-color="#820000"/><stop offset="0.7444" stop-color="#7f0000"/><stop offset="0.7468" stop-color="#7d0000"/><stop offset="0.7492" stop-color="#7b0000"/><stop offset="0.7515" stop-color="#7b0000"/><stop offset="0.7539" stop-color="#7c0000"/><stop offset="0.7562" stop-color="#7e0000"/><stop offset="0.7585" stop-color="#810000"/><stop offset="0.7608" stop-color="#830000"/><stop offset="0.7631" stop-color="#850000"/><stop offset="0.7653" stop-color="#850000"/><stop offset="0.7676" stop-color="#840000"/><stop offset="0.7698" stop-color="#820000"/><stop offset="0.7720" stop-color="#7f0000"/><stop offset="0.7742" stop-color="#7d0000"/><stop offset="0.7764" stop-color="#7b0000"/><stop offset="0.7785" stop-color="#7b0000"/><stop offset="0.7807" stop-color="#7c0000"/><stop offset="0.7828" stop-color="#7e0000"/><stop offset="0.7849" stop-color="#810000"/><stop offset="0.7870" stop-color="#830000"/><stop offset="0.7891" stop-color="#840000"/><stop offset="0.7912" stop-color="#850000"/><stop offset="0.7932" stop-color="#840000"/><stop offset="0.7953" stop-color="#820000"/><stop offset="0.7973" stop-color="#7f0000"/><stop offset="0.7993" stop-color="#7d0000"/><stop offset="0.8013" stop-color="#7c0000"/><stop offset="0.8033" stop-color="#7c0000"/><stop offset="0.8053" stop-color="#7d0000"/><stop offset="0.8072" stop-color="#7f0000"/><stop offset="0.8091" stop-color="#810000"/><stop offset="0.8111" stop-color="#830000"/><stop offset="0.8130" stop-color="#840000"/><stop offset="0.8149" stop-color="#840000"/><stop offset="0.8168" stop-color="#830000"/><stop offset="0.8186" stop-color="#810000"/><stop offset="0.8205" stop-color="#7f0000"/><stop offset="0.8223" stop-color="#7e0000"/><stop offset="0.8242" stop-color="#7d0000"/><stop offset="0.8260" stop-color="#7d0000"/><stop offset="0.8278" stop-color="#7d0000"/><stop offset="0.8296" stop-color="#7f0000"/><stop offset="0.8313" stop-color="#810000"/><stop offset="0.8331" stop-color="#820000"/><stop offset="0.8349" stop-color="#830000"/><stop offset="0.8366" stop-color="#830000"/><stop offset="0.8383" stop-color="#820000"/><stop offset="0.8400" stop-color="#810000"/><stop offset="0.8417" stop-color="#7f0000"/><stop offset="0.8434" stop-color="#7e0000"/><stop offset="0.8451" stop-color="#7d0000"/><stop offset="0.8468" stop-color="#7d0000"/><stop offset="0.8484" stop-color="#7e0000"/><stop offset="0.8501" stop-color="#7f0000"/><stop offset="0.8517" stop-color="#810000"/><stop offset="0.8533" stop-color="#820000"/><stop offset="0.8549" stop-color="#820000"/><stop offset="0.8565" stop-color="#820000"/><stop offset="0.8581" stop-color="#820000"/><stop offset="0.8597" stop-color="#810000"/><stop offset="0.8612" stop-color="#7f0000"/><stop offset="0.8628" stop-color="#7e0000"/><stop offset="0.8643" stop-color="#7e0000"/><stop offset="0.8658" stop-color="#7e0000"/><stop offset="0.8673" stop-color="#7e0000"/><stop offset="0.8688" stop-color="#7f0000"/><stop offset="0.8703" stop-color="#810000"/><stop offset="0.8718" stop-color="#810000"/><stop offset="0.8732" stop-color="#820000"/><stop offset="0.8747" stop-color="#820000"/><stop offset="0.8761" stop-color="#810000"/><stop offset="0.8776" stop-color="#810000"/><stop offset="0.8790" stop-color="#800000"/><stop offset="0.8804" stop-color="#7f0000"/><stop offset="0.8818" stop-color="#7e0000"/><stop offset="0.8832" stop-color="#7e0000"/><stop offset="0.8846" stop-color="#7f0000"/><stop offset="0.8859" stop-color="#800000"/><stop offset="0.8873" stop-color="#800000"/><stop offset="0.8886" stop-color="#810000"/><stop offset="0.8900" stop-color="#810000"/><stop offset="0.8913" stop-color="#810000"/><stop offset="0.8926" stop-color="#810000"/><stop offset="0.8939" stop-color="#800000"/><stop offset="0.8952" stop-color="#800000"/><stop offset="0.8965" stop-color="#7f0000"/><stop offset="0.8978" stop-color="#7f0000"/><stop offset="0.8990" stop-color="#7f0000"/><stop offset="0.9003" stop-color="#7f0000"/><stop offset="0.9015" stop-color="#800000"/><stop offset="0.9028" stop-color="#800000"/><stop offset="0.9040" stop-color="#810000"/><stop offset="0.9052" stop-color="#810000"/><stop offset="0.9064" stop-color="#810000"/><stop offset="0.9076" stop-color="#810000"/><stop offset="0.9088" stop-color="#800000"/><stop offset="0.9099" stop-color="#800000"/><stop offset="0.9111" stop-color="#7f0000"/><stop offset="0.9123" stop-color="#7f0000"/><stop offset="0.9134" stop-color="#7f0000"/><stop offset="0.9145" stop-color="#7f0000"/><stop offset="0.9157" stop-color="#800000"/><stop offset="0.9168" stop-color="#800000"/><stop offset="0.9179" stop-color="#800000"/><stop offset="0.9190" stop-color="#810000"/><stop offset="0.9201" stop-color="#810000"/><stop offset="0.9211" stop-color="#800000"/><stop offset="0.9222" stop-color="#800000"/><stop offset="0.9233" stop-color="#800000"/><stop offset="0.9243" stop-color="#800000"/><stop offset="0.9254" stop-color="#800000"/><stop offset="0.9264" stop-color="#800000"/><stop offset="0.9274" stop-color="#800000"/><stop offset="0.9284" stop-color="#800000"/><stop offset="0.9294" stop-color="#800000"/><stop offset="0.9304" stop-color="#800000"/><stop offset="0.9314" stop-color="#800000"/><stop offset="0.9324" stop-color="#800000"/><stop offset="0.9333" stop-color="#800000"/><stop offset="0.9343" stop-color="#800000"/><stop offset="0.9352" stop-color="#800000"/><stop offset="0.9362" stop-color="#800000"/><stop offset="0.9371" stop-color="#800000"/><stop offset="0.9380" stop-color="#800000"/><stop offset="0.9389" stop-color="#800000"/><stop offset="0.9398" stop-color="#800000"/><stop offset="0.9407" stop-color="#800000"/><stop offset="0.9416" stop-color="#800000"/><stop offset="0.9425" stop-color="#800000"/><stop offset="0.9433" stop-color="#800000"/><stop offset="0.9442" stop-color="#800000"/><stop offset="0.9450" stop-color="#800000"/><stop offset="0.9459" stop-color="#800000"/><stop offset="0.9467" stop-color="#800000"/><stop offset="0.9475" stop-color="#800000"/><stop offset="0.9483" stop-color="#800000"/><stop offset="0.9492" stop-color="#800000"/><stop offset="0.9499" stop-color="#800000"/><stop offset="0.9507" stop-color="#800000"/><stop offset="0.9515" stop-color="#800000"/><stop offset="0.9523" stop-color="#800000"/><stop offset="0.9530" stop-color="#800000"/><stop offset="0.9538" stop-color="#800000"/><stop offset="0.9545" stop-color="#800000"/><stop offset="0.9553" stop-color="#800000"/><stop offset="0.9560" stop-color="#800000"/><stop offset="0.9567" stop-color="#800000"/><stop offset="0.9574" stop-color="#800000"/><stop offset="0.9581" stop-color="#800000"/><stop offset="0.9588" stop-color="#800000"/><stop offset="0.9595" stop-color="#800000"/><stop offset="0.9602" stop-color="#800000"/><stop offset="0.9609" stop-color="#800000"/><stop offset="0.9615" stop-color="#800000"/><stop offset="0.9622" stop-color="#800000"/><stop offset="0.9628" stop-color="#800000"/><stop offset="0.9634" stop-color="#800000"/><stop offset="0.9641" stop-color="#800000"/><stop offset="0.9647" stop-color="#800000"/><stop offset="0.9653" stop-color="#800000"/><stop offset="0.9659" stop-color="#800000"/><stop offset="0.9665" stop-color="#800000"/><stop offset="0.9671" stop-color="#800000"/><stop offset="0.9677" stop-color="#800000"/><stop offset="0.9682" stop-color="#800000"/><stop offset="0.9688" stop-color="#800000"/><stop offset="0.9693" stop-color="#800000"/><stop offset="0.9699" stop-color="#800000"/><stop offset="0.9704" stop-color="#800000"/><stop offset="0.9710" stop-color="#800000"/><stop offset="0.9715" stop-color="#800000"/><stop offset="0.9720" stop-color="#800000"/><stop offset="0.9725" stop-color="#800000"/><stop offset="0.9730" stop-color="#800000"/><stop offset="0.9735" stop-color="#800000"/><stop offset="0.9740" stop-color="#800000"/><stop offset="0.9744" stop-color="#800000"/><stop offset="0.9749" stop-color="#800000"/><stop offset="0.9753" stop-color="#800000"/><stop offset="0.9758" stop-color="#800000"/><stop offset="0.9762" stop-color="#800000"/><stop offset="0.9767" stop-color="#800000"/><stop offset="0.9771" stop-color="#800000"/><stop offset="0.9775" stop-color="#800000"/><stop offset="0.9779" stop-color="#800000"/><stop offset="0.9783" stop-color="#800000"/><stop offset="0.9787" stop-color="#800000"/><stop offset="0.9791" stop-color="#800000"/><stop offset="0.9795" stop-color="#800000"/><stop offset="0.9798" stop-color="#800000"/><stop offset="0.9802" stop-color="#800000"/><stop offset="0.9805" stop-color="#800000"/><stop offset="0.9809" stop-color="#800000"/><stop offset="0.9812" stop-color="#800000"/><stop offset="0.9816" stop-color="#800000"/><stop offset="0.9819" stop-color="#800000"/><stop offset="0.9822" stop-color="#800000"/><stop offset="0.9825" stop-color="#800000"/><stop offset="0.9829" stop-color="#800000"/><stop offset="0.9832" stop-color="#800000"/><stop offset="0.9835" stop-color="#800000"/><stop offset="1.0000" stop-color="#800000"/></radialGradient><radialGradient id="Cg2" gradientUnits="userSpaceOnUse" cx="1525.79" cy="251.30" r="274.63"><stop offset="0.7759" stop-color="#800000" stop-opacity="0"/><stop offset="1" stop-color="#800000" stop-opacity="1"/></radialGradient><radialGradient id="Cg3" gradientUnits="userSpaceOnUse" cx="1490.17" cy="251.30" r="127.21" fx="1611.02" fy="251.30"><stop offset="0.0000" stop-color="#007c00"/><stop offset="0.0022" stop-color="#007c00"/><stop offset="0.0045" stop-color="#008e00"/><stop offset="0.0067" stop-color="#00a100"/><stop offset="0.0089" stop-color="#00b300"/><stop offset="0.0112" stop-color="#00c100"/><stop offset="0.0134" stop-color="#00c800"/><stop offset="0.0156" stop-color="#00c500"/><stop offset="0.0179" stop-color="#00bc00"/><stop offset="0.0201" stop-color="#00ae00"/><stop offset="0.0223" stop-color="#009d00"/><stop offset="0.0246" stop-color="#008d00"/><stop offset="0.0268" stop-color="#007f00"/><stop offset="0.0290" stop-color="#007600"/><stop offset="0.0313" stop-color="#007400"/><stop offset="0.0335" stop-color="#007700"/><stop offset="0.0357" stop-color="#007e00"/><stop offset="0.0380" stop-color="#008700"/><stop offset="0.0402" stop-color="#008e00"/><stop offset="0.0424" stop-color="#009200"/><stop offset="0.0447" stop-color="#009100"/><stop offset="0.0469" stop-color="#008c00"/><stop offset="0.0491" stop-color="#008600"/><stop offset="0.0514" stop-color="#007f00"/><stop offset="0.0536" stop-color="#007800"/><stop offset="0.0558" stop-color="#007300"/><stop offset="0.0581" stop-color="#007100"/><stop offset="0.0603" stop-color="#007300"/><stop offset="0.0625" stop-color="#007800"/><stop offset="0.0648" stop-color="#007e00"/><stop offset="0.0670" stop-color="#008500"/><stop offset="0.0692" stop-color="#008a00"/><stop offset="0.0715" stop-color="#008c00"/><stop offset="0.0737" stop-color="#008a00"/><stop offset="0.0759" stop-color="#008600"/><stop offset="0.0782" stop-color="#008000"/><stop offset="0.0804" stop-color="#007a00"/><stop offset="0.0826" stop-color="#007600"/><stop offset="0.0849" stop-color="#007300"/><stop offset="0.0871" stop-color="#007400"/><stop offset="0.0893" stop-color="#007800"/><stop offset="0.0916" stop-color="#007d00"/><stop offset="0.0938" stop-color="#008200"/><stop offset="0.0960" stop-color="#008700"/><stop offset="0.0983" stop-color="#008a00"/><stop offset="0.1005" stop-color="#008900"/><stop offset="0.1027" stop-color="#008600"/><stop offset="0.1050" stop-color="#008200"/><stop offset="0.1072" stop-color="#007d00"/><stop offset="0.1094" stop-color="#007900"/><stop offset="0.1117" stop-color="#007600"/><stop offset="0.1139" stop-color="#007500"/><stop offset="0.1161" stop-color="#007800"/><stop offset="0.1184" stop-color="#007c00"/><stop offset="0.1206" stop-color="#008100"/><stop offset="0.1228" stop-color="#008500"/><stop offset="0.1251" stop-color="#008900"/><stop offset="0.1273" stop-color="#008a00"/><stop offset="0.1295" stop-color="#008800"/><stop offset="0.1318" stop-color="#008400"/><stop offset="0.1340" stop-color="#007e00"/><stop offset="0.1362" stop-color="#007a00"/><stop offset="0.1385" stop-color="#007600"/><stop offset="0.1407" stop-color="#007500"/><stop offset="0.1429" stop-color="#007700"/><stop offset="0.1452" stop-color="#007b00"/><stop offset="0.1474" stop-color="#008000"/><stop offset="0.1496" stop-color="#008500"/><stop offset="0.1519" stop-color="#008900"/><stop offset="0.1541" stop-color="#008a00"/><stop offset="0.1563" stop-color="#008800"/><stop offset="0.1586" stop-color="#008500"/><stop offset="0.1608" stop-color="#008000"/><stop offset="0.1630" stop-color="#007c00"/><stop offset="0.1653" stop-color="#007800"/><stop offset="0.1675" stop-color="#007600"/><stop offset="0.1697" stop-color="#007700"/><stop offset="0.1720" stop-color="#007a00"/><stop offset="0.1742" stop-color="#007e00"/><stop offset="0.1764" stop-color="#008200"/><stop offset="0.1787" stop-color="#008600"/><stop offset="0.1809" stop-color="#008900"/><stop offset="0.1831" stop-color="#008900"/><stop offset="0.1854" stop-color="#008600"/><stop offset="0.1876" stop-color="#008200"/><stop offset="0.1898" stop-color="#007d00"/><stop offset="0.1921" stop-color="#007900"/><stop offset="0.1943" stop-color="#007700"/><stop offset="0.1965" stop-color="#007800"/><stop offset="0.1988" stop-color="#007b00"/><stop offset="0.2010" stop-color="#007e00"/><stop offset="0.2032" stop-color="#008200"/><stop offset="0.2055" stop-color="#008600"/><stop offset="0.2077" stop-color="#008800"/><stop offset="0.2099" stop-color="#008900"/><stop offset="0.2122" stop-color="#008700"/><stop offset="0.2144" stop-color="#008300"/><stop offset="0.2166" stop-color="#007f00"/><stop offset="0.2189" stop-color="#007b00"/><stop offset="0.2211" stop-color="#007800"/><stop offset="0.2233" stop-color="#007700"/><stop offset="0.2256" stop-color="#007900"/><stop offset="0.2278" stop-color="#007c00"/><stop offset="0.2300" stop-color="#008000"/><stop offset="0.2323" stop-color="#008400"/><stop offset="0.2345" stop-color="#008700"/><stop offset="0.2367" stop-color="#008900"/><stop offset="0.2390" stop-color="#008800"/><stop offset="0.2412" stop-color="#008400"/><stop offset="0.2434" stop-color="#008000"/><stop offset="0.2457" stop-color="#007c00"/><stop offset="0.2479" stop-color="#007800"/><stop offset="0.2501" stop-color="#007700"/><stop offset="0.2524" stop-color="#007900"/><stop offset="0.2546" stop-color="#007c00"/><stop offset="0.2568" stop-color="#008000"/><stop offset="0.2591" stop-color="#008400"/><stop offset="0.2613" stop-color="#008700"/><stop offset="0.2635" stop-color="#008800"/><stop offset="0.2658" stop-color="#008800"/><stop offset="0.2680" stop-color="#008500"/><stop offset="0.2702" stop-color="#008100"/><stop offset="0.2725" stop-color="#007d00"/><stop offset="0.2747" stop-color="#007a00"/><stop offset="0.2769" stop-color="#007800"/><stop offset="0.2792" stop-color="#007900"/><stop offset="0.2814" stop-color="#007b00"/><stop offset="0.2836" stop-color="#007f00"/><stop offset="0.2859" stop-color="#008300"/><stop offset="0.2881" stop-color="#008600"/><stop offset="0.2903" stop-color="#008800"/><stop offset="0.2926" stop-color="#008700"/><stop offset="0.2948" stop-color="#008500"/><stop offset="0.2970" stop-color="#008100"/><stop offset="0.2993" stop-color="#007e00"/><stop offset="0.3015" stop-color="#007b00"/><stop offset="0.3037" stop-color="#007900"/><stop offset="0.3060" stop-color="#007a00"/><stop offset="0.3082" stop-color="#007c00"/><stop offset="0.3104" stop-color="#007f00"/><stop offset="0.3127" stop-color="#008300"/><stop offset="0.3149" stop-color="#008600"/><stop offset="0.3171" stop-color="#008700"/><stop offset="0.3194" stop-color="#008700"/><stop offset="0.3216" stop-color="#008400"/><stop offset="0.3238" stop-color="#008100"/><stop offset="0.3261" stop-color="#007e00"/><stop offset="0.3283" stop-color="#007b00"/><stop offset="0.3305" stop-color="#007a00"/><stop offset="0.3328" stop-color="#007b00"/><stop offset="0.3350" stop-color="#007d00"/><stop offset="0.3372" stop-color="#007f00"/><stop offset="0.3395" stop-color="#008200"/><stop offset="0.3417" stop-color="#008500"/><stop offset="0.3439" stop-color="#008700"/><stop offset="0.3462" stop-color="#008700"/><stop offset="0.3484" stop-color="#008500"/><stop offset="0.3506" stop-color="#008200"/><stop offset="0.3529" stop-color="#007e00"/><stop offset="0.3551" stop-color="#007b00"/><stop offset="0.3573" stop-color="#007a00"/><stop offset="0.3596" stop-color="#007a00"/><stop offset="0.3618" stop-color="#007c00"/><stop offset="0.3640" stop-color="#007f00"/><stop offset="0.3663" stop-color="#008100"/><stop offset="0.3685" stop-color="#008400"/><stop offset="0.3707" stop-color="#008600"/><stop offset="0.3730" stop-color="#008600"/><stop offset="0.3752" stop-color="#008500"/><stop offset="0.3774" stop-color="#008200"/><stop offset="0.3797" stop-color="#007f00"/><stop offset="0.3819" stop-color="#007b00"/><stop offset="0.3841" stop-color="#007900"/><stop offset="0.3864" stop-color="#007a00"/><stop offset="0.3886" stop-color="#007b00"/><stop offset="0.3908" stop-color="#007e00"/><stop offset="0.3931" stop-color="#008000"/><stop offset="0.3953" stop-color="#008300"/><stop offset="0.3975" stop-color="#008500"/><stop offset="0.3998" stop-color="#008500"/><stop offset="0.4020" stop-color="#008500"/><stop offset="0.4042" stop-color="#008300"/><stop offset="0.4065" stop-color="#008100"/><stop offset="0.4087" stop-color="#007f00"/><stop offset="0.4109" stop-color="#007d00"/><stop offset="0.4132" stop-color="#007c00"/><stop offset="0.4154" stop-color="#007c00"/><stop offset="0.4176" stop-color="#007d00"/><stop offset="0.4199" stop-color="#007f00"/><stop offset="0.4221" stop-color="#008200"/><stop offset="0.4243" stop-color="#008300"/><stop offset="0.4266" stop-color="#008400"/><stop offset="0.4288" stop-color="#008400"/><stop offset="0.4310" stop-color="#008300"/><stop offset="0.4333" stop-color="#008100"/><stop offset="0.4355" stop-color="#007f00"/><stop offset="0.4377" stop-color="#007e00"/><stop offset="0.4400" stop-color="#007d00"/><stop offset="0.4422" stop-color="#007d00"/><stop offset="0.4444" stop-color="#007e00"/><stop offset="0.4467" stop-color="#007f00"/><stop offset="0.4489" stop-color="#008000"/><stop offset="0.4511" stop-color="#008100"/><stop offset="0.4533" stop-color="#008200"/><stop offset="0.4556" stop-color="#008200"/><stop offset="0.4578" stop-color="#008100"/><stop offset="0.4600" stop-color="#008100"/><stop offset="0.4623" stop-color="#008000"/><stop offset="0.4645" stop-color="#007f00"/><stop offset="0.4667" stop-color="#007e00"/><stop offset="0.4690" stop-color="#007e00"/><stop offset="0.4712" stop-color="#007f00"/><stop offset="0.4734" stop-color="#007f00"/><stop offset="0.4757" stop-color="#008000"/><stop offset="0.4779" stop-color="#008000"/><stop offset="0.4801" stop-color="#008100"/><stop offset="0.4824" stop-color="#008100"/><stop offset="0.4846" stop-color="#008000"/><stop offset="0.4868" stop-color="#008000"/><stop offset="0.4891" stop-color="#008000"/><stop offset="0.4913" stop-color="#008000"/><stop offset="0.4935" stop-color="#008000"/><stop offset="0.4958" stop-color="#008000"/><stop offset="0.4980" stop-color="#008000"/><stop offset="0.5002" stop-color="#008000"/><stop offset="0.5025" stop-color="#008000"/><stop offset="0.5047" stop-color="#008000"/><stop offset="0.5069" stop-color="#008000"/><stop offset="0.5092" stop-color="#008000"/><stop offset="0.5114" stop-color="#008000"/><stop offset="0.5136" stop-color="#008000"/><stop offset="0.5159" stop-color="#008000"/><stop offset="0.5181" stop-color="#008000"/><stop offset="0.5203" stop-color="#008000"/><stop offset="0.5226" stop-color="#008000"/><stop offset="0.5248" stop-color="#008000"/><stop offset="0.5270" stop-color="#008000"/><stop offset="0.5293" stop-color="#008000"/><stop offset="0.5315" stop-color="#008000"/><stop offset="0.5337" stop-color="#008000"/><stop offset="0.5360" stop-color="#008000"/><stop offset="0.5382" stop-color="#008000"/><stop offset="0.5404" stop-color="#008000"/><stop offset="0.5427" stop-color="#008000"/><stop offset="0.5449" stop-color="#008000"/><stop offset="0.5471" stop-color="#008000"/><stop offset="0.5494" stop-color="#008000"/><stop offset="0.5516" stop-color="#008000"/><stop offset="0.5538" stop-color="#008000"/><stop offset="0.5561" stop-color="#008000"/><stop offset="0.5583" stop-color="#008000"/><stop offset="0.5605" stop-color="#008000"/><stop offset="0.5628" stop-color="#008000"/><stop offset="0.5650" stop-color="#008000"/><stop offset="0.5672" stop-color="#008000"/><stop offset="0.5695" stop-color="#008000"/><stop offset="0.5717" stop-color="#008000"/><stop offset="0.5739" stop-color="#008000"/><stop offset="0.5762" stop-color="#008000"/><stop offset="0.5784" stop-color="#008000"/><stop offset="0.5806" stop-color="#008000"/><stop offset="0.5829" stop-color="#008000"/><stop offset="0.5851" stop-color="#008000"/><stop offset="0.5873" stop-color="#008000"/><stop offset="0.5896" stop-color="#008000"/><stop offset="0.5918" stop-color="#008000"/><stop offset="0.5940" stop-color="#008000"/><stop offset="0.5963" stop-color="#008000"/><stop offset="0.5985" stop-color="#008000"/><stop offset="0.6007" stop-color="#008000"/><stop offset="0.6030" stop-color="#008000"/><stop offset="0.6052" stop-color="#008000"/><stop offset="0.6074" stop-color="#008000"/><stop offset="0.6097" stop-color="#008000"/><stop offset="0.6119" stop-color="#008000"/><stop offset="0.6141" stop-color="#008000"/><stop offset="0.6164" stop-color="#008000"/><stop offset="0.6186" stop-color="#008000"/><stop offset="0.6208" stop-color="#008000"/><stop offset="0.6231" stop-color="#008000"/><stop offset="0.6253" stop-color="#008000"/><stop offset="0.6275" stop-color="#008000"/><stop offset="0.6298" stop-color="#008000"/><stop offset="0.6320" stop-color="#008000"/><stop offset="0.6342" stop-color="#008000"/><stop offset="0.6365" stop-color="#008000"/><stop offset="0.6387" stop-color="#008000"/><stop offset="0.6409" stop-color="#008000"/><stop offset="0.6432" stop-color="#008000"/><stop offset="0.6454" stop-color="#008000"/><stop offset="0.6476" stop-color="#008000"/><stop offset="0.6499" stop-color="#008000"/><stop offset="0.6521" stop-color="#008000"/><stop offset="0.6543" stop-color="#008000"/><stop offset="0.6566" stop-color="#008000"/><stop offset="0.6588" stop-color="#008000"/><stop offset="0.6610" stop-color="#008000"/><stop offset="0.6633" stop-color="#008000"/><stop offset="0.6655" stop-color="#008000"/><stop offset="0.6677" stop-color="#008000"/><stop offset="0.6700" stop-color="#008000"/><stop offset="0.6722" stop-color="#008000"/><stop offset="0.6744" stop-color="#008000"/><stop offset="0.6767" stop-color="#008000"/><stop offset="0.6789" stop-color="#008000"/><stop offset="0.6811" stop-color="#008000"/><stop offset="0.6834" stop-color="#008000"/><stop offset="0.6856" stop-color="#008000"/><stop offset="0.6878" stop-color="#008000"/><stop offset="0.6901" stop-color="#008000"/><stop offset="0.6923" stop-color="#008000"/><stop offset="0.6945" stop-color="#008000"/><stop offset="0.6968" stop-color="#008000"/><stop offset="0.6990" stop-color="#008000"/><stop offset="0.7012" stop-color="#008000"/><stop offset="0.7035" stop-color="#008000"/><stop offset="0.7057" stop-color="#008000"/><stop offset="0.7079" stop-color="#008000"/><stop offset="0.7102" stop-color="#008000"/><stop offset="0.7124" stop-color="#008000"/><stop offset="0.7146" stop-color="#008000"/><stop offset="0.7169" stop-color="#008000"/><stop offset="0.7191" stop-color="#008000"/><stop offset="0.7213" stop-color="#008000"/><stop offset="0.7236" stop-color="#008000"/><stop offset="0.7258" stop-color="#008000"/><stop offset="0.7280" stop-color="#008000"/><stop offset="0.7303" stop-color="#008000"/><stop offset="0.7325" stop-color="#008000"/><stop offset="0.7347" stop-color="#008000"/><stop offset="0.7370" stop-color="#008000"/><stop offset="0.7392" stop-color="#008000"/><stop offset="0.7414" stop-color="#008000"/><stop offset="0.7437" stop-color="#008000"/><stop offset="0.7459" stop-color="#008000"/><stop offset="0.7481" stop-color="#008000"/><stop offset="0.7504" stop-color="#008000"/><stop offset="0.7526" stop-color="#008000"/><stop offset="0.7548" stop-color="#008000"/><stop offset="0.7571" stop-color="#008000"/><stop offset="0.7593" stop-color="#008000"/><stop offset="0.7615" stop-color="#008000"/><stop offset="0.7638" stop-color="#008000"/><stop offset="0.7660" stop-color="#008000"/><stop offset="0.7682" stop-color="#008000"/><stop offset="0.7705" stop-color="#008000"/><stop offset="0.7727" stop-color="#008000"/><stop offset="0.7749" stop-color="#008000"/><stop offset="0.7772" stop-color="#008000"/><stop offset="0.7794" stop-color="#008000"/><stop offset="0.7816" stop-color="#008000"/><stop offset="0.7839" stop-color="#008000"/><stop offset="0.7861" stop-color="#008000"/><stop offset="0.7883" stop-color="#008000"/><stop offset="0.7906" stop-color="#008000"/><stop offset="0.7928" stop-color="#008000"/><stop offset="0.7950" stop-color="#008000"/><stop offset="0.7973" stop-color="#008000"/><stop offset="0.7995" stop-color="#008000"/><stop offset="0.8017" stop-color="#008000"/><stop offset="0.8040" stop-color="#008000"/><stop offset="0.8062" stop-color="#008000"/><stop offset="0.8084" stop-color="#008000"/><stop offset="0.8107" stop-color="#008000"/><stop offset="0.8129" stop-color="#008000"/><stop offset="0.8151" stop-color="#008000"/><stop offset="0.8174" stop-color="#008000"/><stop offset="0.8196" stop-color="#008000"/><stop offset="0.8218" stop-color="#008000"/><stop offset="0.8241" stop-color="#008000"/><stop offset="0.8263" stop-color="#008000"/><stop offset="0.8285" stop-color="#008000"/><stop offset="0.8308" stop-color="#008000"/><stop offset="0.8330" stop-color="#008000"/><stop offset="0.8352" stop-color="#008000"/><stop offset="0.8375" stop-color="#008000"/><stop offset="0.8397" stop-color="#008000"/><stop offset="0.8419" stop-color="#008000"/><stop offset="0.8442" stop-color="#008000"/><stop offset="0.8464" stop-color="#008000"/><stop offset="0.8486" stop-color="#008000"/><stop offset="0.8509" stop-color="#008000"/><stop offset="0.8531" stop-color="#008000"/><stop offset="0.8553" stop-color="#008000"/><stop offset="0.8576" stop-color="#008000"/><stop offset="0.8598" stop-color="#008000"/><stop offset="0.8620" stop-color="#008000"/><stop offset="0.8643" stop-color="#008000"/><stop offset="0.8665" stop-color="#008000"/><stop offset="0.8687" stop-color="#008000"/><stop offset="0.8710" stop-color="#008000"/><stop offset="0.8732" stop-color="#008000"/><stop offset="0.8754" stop-color="#008000"/><stop offset="0.8777" stop-color="#008000"/><stop offset="0.8799" stop-color="#008000"/><stop offset="0.8821" stop-color="#008000"/><stop offset="0.8844" stop-color="#008000"/><stop offset="0.8866" stop-color="#008000"/><stop offset="0.8888" stop-color="#008000"/><stop offset="0.8911" stop-color="#008000"/><stop offset="0.8933" stop-color="#008000"/><stop offset="0.8955" stop-color="#008000"/><stop offset="0.8978" stop-color="#008000"/><stop offset="0.9000" stop-color="#008000"/><stop offset="0.9022" stop-color="#008000"/><stop offset="0.9045" stop-color="#008000"/><stop offset="0.9067" stop-color="#008000"/><stop offset="0.9089" stop-color="#008000"/><stop offset="0.9112" stop-color="#008000"/><stop offset="0.9134" stop-color="#008000"/><stop offset="0.9156" stop-color="#008000"/><stop offset="0.9179" stop-color="#008000"/><stop offset="0.9201" stop-color="#008000"/><stop offset="0.9223" stop-color="#008000"/><stop offset="0.9246" stop-color="#008000"/><stop offset="0.9268" stop-color="#008000"/><stop offset="0.9290" stop-color="#008000"/><stop offset="0.9313" stop-color="#008000"/><stop offset="0.9335" stop-color="#008000"/><stop offset="0.9357" stop-color="#008000"/><stop offset="0.9380" stop-color="#008000"/><stop offset="0.9402" stop-color="#008000"/><stop offset="0.9424" stop-color="#008000"/><stop offset="0.9447" stop-color="#008000"/><stop offset="0.9469" stop-color="#008000"/><stop offset="0.9491" stop-color="#008000"/><stop offset="0.9514" stop-color="#008000"/><stop offset="0.9536" stop-color="#008000"/><stop offset="0.9558" stop-color="#008000"/><stop offset="0.9581" stop-color="#008000"/><stop offset="0.9603" stop-color="#008000"/><stop offset="0.9625" stop-color="#008000"/><stop offset="0.9648" stop-color="#008000"/><stop offset="0.9670" stop-color="#008000"/><stop offset="0.9692" stop-color="#008000"/><stop offset="0.9715" stop-color="#008000"/><stop offset="0.9737" stop-color="#008000"/><stop offset="0.9759" stop-color="#008000"/><stop offset="0.9782" stop-color="#008000"/><stop offset="0.9804" stop-color="#008000"/><stop offset="0.9826" stop-color="#008000"/><stop offset="0.9849" stop-color="#008000"/><stop offset="0.9871" stop-color="#008000"/><stop offset="0.9893" stop-color="#008000"/><stop offset="0.9916" stop-color="#008000"/><stop offset="1.0000" stop-color="#008000"/></radialGradient><linearGradient id="Cg4" gradientUnits="userSpaceOnUse" x1="1607.22" y1="255.52" x2="1614.82" y2="247.08"><stop offset="0" stop-color="#008000" stop-opacity="0"/><stop offset="1" stop-color="#008000" stop-opacity="0.4"/></linearGradient><linearGradient id="Cg5" gradientUnits="userSpaceOnUse" x1="1607.22" y1="247.08" x2="1614.82" y2="255.52"><stop offset="0" stop-color="#008000" stop-opacity="0"/><stop offset="1" stop-color="#008000" stop-opacity="0.4"/></linearGradient><linearGradient id="Cg6" gradientUnits="userSpaceOnUse" x1="1606.67" y1="254.95" x2="1615.37" y2="247.65"><stop offset="0" stop-color="#008000" stop-opacity="0"/><stop offset="1" stop-color="#008000" stop-opacity="0.4"/></linearGradient><linearGradient id="Cg7" gradientUnits="userSpaceOnUse" x1="1606.67" y1="247.65" x2="1615.37" y2="254.95"><stop offset="0" stop-color="#008000" stop-opacity="0"/><stop offset="1" stop-color="#008000" stop-opacity="0.4"/></linearGradient><linearGradient id="Cg8" gradientUnits="userSpaceOnUse" x1="1606.20" y1="254.31" x2="1615.84" y2="248.29"><stop offset="0" stop-color="#008000" stop-opacity="0"/><stop offset="1" stop-color="#008000" stop-opacity="0.4"/></linearGradient><linearGradient id="Cg9" gradientUnits="userSpaceOnUse" x1="1606.20" y1="248.29" x2="1615.84" y2="254.31"><stop offset="0" stop-color="#008000" stop-opacity="0"/><stop offset="1" stop-color="#008000" stop-opacity="0.4"/></linearGradient><linearGradient id="Cg10" gradientUnits="userSpaceOnUse" x1="1605.83" y1="253.61" x2="1616.21" y2="248.99"><stop offset="0" stop-color="#008000" stop-opacity="0"/><stop offset="1" stop-color="#008000" stop-opacity="0.4"/></linearGradient><linearGradient id="Cg11" gradientUnits="userSpaceOnUse" x1="1605.83" y1="248.99" x2="1616.21" y2="253.61"><stop offset="0" stop-color="#008000" stop-opacity="0"/><stop offset="1" stop-color="#008000" stop-opacity="0.4"/></linearGradient><linearGradient id="Cg12" gradientUnits="userSpaceOnUse" x1="1605.56" y1="252.87" x2="1616.48" y2="249.73"><stop offset="0" stop-color="#008000" stop-opacity="0"/><stop offset="1" stop-color="#008000" stop-opacity="0.4"/></linearGradient><linearGradient id="Cg13" gradientUnits="userSpaceOnUse" x1="1605.56" y1="249.73" x2="1616.48" y2="252.87"><stop offset="0" stop-color="#008000" stop-opacity="0"/><stop offset="1" stop-color="#008000" stop-opacity="0.4"/></linearGradient><filter id="fmC" filterUnits="userSpaceOnUse" x="1364.8" y="62.1" width="378.8" height="378.4" color-interpolation-filters="sRGB"><feColorMatrix type="matrix" values="2 2 0 0 -1.50784 2 2 0 0 -1.50784 2 2 0 0 -1.50784 0 0 0 0 1"/><feComponentTransfer><feFuncR type="table" tableValues="0 1 1"/><feFuncG type="table" tableValues="0 1 0"/><feFuncB type="table" tableValues="1 1 0"/></feComponentTransfer></filter><clipPath id="icC"><rect x="1364.8" y="62.1" width="378.8" height="378.4"/></clipPath><radialGradient id="Dg1" gradientUnits="userSpaceOnUse" cx="291.10" cy="1014.60" r="198.87"><stop offset="0.0000" stop-color="#b50000"/><stop offset="0.0038" stop-color="#b50000"/><stop offset="0.0076" stop-color="#b80000"/><stop offset="0.0114" stop-color="#bc0000"/><stop offset="0.0152" stop-color="#bf0000"/><stop offset="0.0190" stop-color="#c00000"/><stop offset="0.0229" stop-color="#be0000"/><stop offset="0.0267" stop-color="#bb0000"/><stop offset="0.0305" stop-color="#b90000"/><stop offset="0.0343" stop-color="#b80000"/><stop offset="0.0381" stop-color="#ba0000"/><stop offset="0.0419" stop-color="#bc0000"/><stop offset="0.0457" stop-color="#be0000"/><stop offset="0.0495" stop-color="#bd0000"/><stop offset="0.0533" stop-color="#bb0000"/><stop offset="0.0571" stop-color="#b90000"/><stop offset="0.0610" stop-color="#b70000"/><stop offset="0.0648" stop-color="#b70000"/><stop offset="0.0686" stop-color="#b70000"/><stop offset="0.0724" stop-color="#b80000"/><stop offset="0.0762" stop-color="#b80000"/><stop offset="0.0800" stop-color="#b60000"/><stop offset="0.0838" stop-color="#b40000"/><stop offset="0.0876" stop-color="#b20000"/><stop offset="0.0914" stop-color="#b00000"/><stop offset="0.0952" stop-color="#ae0000"/><stop offset="0.0990" stop-color="#ad0000"/><stop offset="0.1029" stop-color="#ab0000"/><stop offset="0.1067" stop-color="#a90000"/><stop offset="0.1105" stop-color="#a60000"/><stop offset="0.1143" stop-color="#a30000"/><stop offset="0.1181" stop-color="#a00000"/><stop offset="0.1219" stop-color="#9d0000"/><stop offset="0.1257" stop-color="#9a0000"/><stop offset="0.1295" stop-color="#960000"/><stop offset="0.1333" stop-color="#930000"/><stop offset="0.1371" stop-color="#8f0000"/><stop offset="0.1410" stop-color="#8a0000"/><stop offset="0.1448" stop-color="#860000"/><stop offset="0.1486" stop-color="#820000"/><stop offset="0.1524" stop-color="#7d0000"/><stop offset="0.1562" stop-color="#790000"/><stop offset="0.1600" stop-color="#740000"/><stop offset="0.1638" stop-color="#700000"/><stop offset="0.1676" stop-color="#6b0000"/><stop offset="0.1714" stop-color="#660000"/><stop offset="0.1752" stop-color="#620000"/><stop offset="0.1790" stop-color="#5e0000"/><stop offset="0.1829" stop-color="#5a0000"/><stop offset="0.1867" stop-color="#570000"/><stop offset="0.1905" stop-color="#530000"/><stop offset="0.1943" stop-color="#510000"/><stop offset="0.1981" stop-color="#4e0000"/><stop offset="0.2019" stop-color="#4d0000"/><stop offset="0.2057" stop-color="#4c0000"/><stop offset="0.2095" stop-color="#4b0000"/><stop offset="0.2133" stop-color="#4b0000"/><stop offset="0.2171" stop-color="#4c0000"/><stop offset="0.2210" stop-color="#4d0000"/><stop offset="0.2248" stop-color="#500000"/><stop offset="0.2286" stop-color="#530000"/><stop offset="0.2324" stop-color="#570000"/><stop offset="0.2362" stop-color="#5b0000"/><stop offset="0.2400" stop-color="#600000"/><stop offset="0.2438" stop-color="#660000"/><stop offset="0.2476" stop-color="#6c0000"/><stop offset="0.2514" stop-color="#730000"/><stop offset="0.2552" stop-color="#7a0000"/><stop offset="0.2590" stop-color="#810000"/><stop offset="0.2629" stop-color="#890000"/><stop offset="0.2667" stop-color="#900000"/><stop offset="0.2705" stop-color="#970000"/><stop offset="0.2743" stop-color="#9d0000"/><stop offset="0.2781" stop-color="#a30000"/><stop offset="0.2819" stop-color="#a80000"/><stop offset="0.2857" stop-color="#ad0000"/><stop offset="0.2895" stop-color="#b00000"/><stop offset="0.2933" stop-color="#b20000"/><stop offset="0.2971" stop-color="#b20000"/><stop offset="0.3010" stop-color="#b10000"/><stop offset="0.3048" stop-color="#af0000"/><stop offset="0.3086" stop-color="#ac0000"/><stop offset="0.3124" stop-color="#a70000"/><stop offset="0.3162" stop-color="#a10000"/><stop offset="0.3200" stop-color="#990000"/><stop offset="0.3238" stop-color="#910000"/><stop offset="0.3276" stop-color="#890000"/><stop offset="0.3314" stop-color="#800000"/><stop offset="0.3352" stop-color="#770000"/><stop offset="0.3390" stop-color="#6e0000"/><stop offset="0.3429" stop-color="#660000"/><stop offset="0.3467" stop-color="#5f0000"/><stop offset="0.3505" stop-color="#5a0000"/><stop offset="0.3543" stop-color="#550000"/><stop offset="0.3581" stop-color="#530000"/><stop offset="0.3619" stop-color="#520000"/><stop offset="0.3657" stop-color="#540000"/><stop offset="0.3695" stop-color="#570000"/><stop offset="0.3733" stop-color="#5c0000"/><stop offset="0.3771" stop-color="#630000"/><stop offset="0.3810" stop-color="#6b0000"/><stop offset="0.3848" stop-color="#740000"/><stop offset="0.3886" stop-color="#7d0000"/><stop offset="0.3924" stop-color="#870000"/><stop offset="0.3962" stop-color="#900000"/><stop offset="0.4000" stop-color="#980000"/><stop offset="0.4038" stop-color="#9e0000"/><stop offset="0.4076" stop-color="#a30000"/><stop offset="0.4114" stop-color="#a60000"/><stop offset="0.4152" stop-color="#a70000"/><stop offset="0.4190" stop-color="#a50000"/><stop offset="0.4229" stop-color="#a10000"/><stop offset="0.4267" stop-color="#9c0000"/><stop offset="0.4305" stop-color="#940000"/><stop offset="0.4343" stop-color="#8b0000"/><stop offset="0.4381" stop-color="#820000"/><stop offset="0.4419" stop-color="#780000"/><stop offset="0.4457" stop-color="#6f0000"/><stop offset="0.4495" stop-color="#680000"/><stop offset="0.4533" stop-color="#620000"/><stop offset="0.4571" stop-color="#5e0000"/><stop offset="0.4610" stop-color="#5d0000"/><stop offset="0.4648" stop-color="#5e0000"/><stop offset="0.4686" stop-color="#630000"/><stop offset="0.4724" stop-color="#690000"/><stop offset="0.4762" stop-color="#720000"/><stop offset="0.4800" stop-color="#7b0000"/><stop offset="0.4838" stop-color="#850000"/><stop offset="0.4876" stop-color="#8e0000"/><stop offset="0.4914" stop-color="#950000"/><stop offset="0.4952" stop-color="#9b0000"/><stop offset="0.4990" stop-color="#9e0000"/><stop offset="0.5029" stop-color="#9e0000"/><stop offset="0.5067" stop-color="#9b0000"/><stop offset="0.5105" stop-color="#960000"/><stop offset="0.5143" stop-color="#8e0000"/><stop offset="0.5181" stop-color="#860000"/><stop offset="0.5219" stop-color="#7c0000"/><stop offset="0.5257" stop-color="#740000"/><stop offset="0.5295" stop-color="#6d0000"/><stop offset="0.5333" stop-color="#680000"/><stop offset="0.5371" stop-color="#660000"/><stop offset="0.5410" stop-color="#670000"/><stop offset="0.5448" stop-color="#6b0000"/><stop offset="0.5486" stop-color="#720000"/><stop offset="0.5524" stop-color="#7a0000"/><stop offset="0.5562" stop-color="#820000"/><stop offset="0.5600" stop-color="#8a0000"/><stop offset="0.5638" stop-color="#910000"/><stop offset="0.5676" stop-color="#950000"/><stop offset="0.5714" stop-color="#960000"/><stop offset="0.5752" stop-color="#940000"/><stop offset="0.5790" stop-color="#900000"/><stop offset="0.5829" stop-color="#890000"/><stop offset="0.5867" stop-color="#810000"/><stop offset="0.5905" stop-color="#790000"/><stop offset="0.5943" stop-color="#720000"/><stop offset="0.5981" stop-color="#6e0000"/><stop offset="0.6019" stop-color="#6d0000"/><stop offset="0.6057" stop-color="#6f0000"/><stop offset="0.6095" stop-color="#740000"/><stop offset="0.6133" stop-color="#7a0000"/><stop offset="0.6171" stop-color="#820000"/><stop offset="0.6210" stop-color="#890000"/><stop offset="0.6248" stop-color="#8d0000"/><stop offset="0.6286" stop-color="#8f0000"/><stop offset="0.6324" stop-color="#8f0000"/><stop offset="0.6362" stop-color="#8b0000"/><stop offset="0.6400" stop-color="#850000"/><stop offset="0.6438" stop-color="#7f0000"/><stop offset="0.6476" stop-color="#790000"/><stop offset="0.6514" stop-color="#750000"/><stop offset="0.6552" stop-color="#740000"/><stop offset="0.6590" stop-color="#750000"/><stop offset="0.6629" stop-color="#790000"/><stop offset="0.6667" stop-color="#7e0000"/><stop offset="0.6705" stop-color="#830000"/><stop offset="0.6743" stop-color="#880000"/><stop offset="0.6781" stop-color="#8a0000"/><stop offset="0.6819" stop-color="#8a0000"/><stop offset="0.6857" stop-color="#870000"/><stop offset="0.6895" stop-color="#830000"/><stop offset="0.6933" stop-color="#7e0000"/><stop offset="0.6970" stop-color="#7a0000"/><stop offset="0.7007" stop-color="#790000"/><stop offset="0.7044" stop-color="#790000"/><stop offset="0.7080" stop-color="#7b0000"/><stop offset="0.7116" stop-color="#7e0000"/><stop offset="0.7151" stop-color="#820000"/><stop offset="0.7186" stop-color="#840000"/><stop offset="0.7220" stop-color="#860000"/><stop offset="0.7255" stop-color="#850000"/><stop offset="0.7288" stop-color="#840000"/><stop offset="0.7322" stop-color="#810000"/><stop offset="0.7355" stop-color="#7f0000"/><stop offset="0.7387" stop-color="#7c0000"/><stop offset="0.7420" stop-color="#7b0000"/><stop offset="0.7452" stop-color="#7b0000"/><stop offset="0.7483" stop-color="#7d0000"/><stop offset="0.7514" stop-color="#7f0000"/><stop offset="0.7545" stop-color="#810000"/><stop offset="0.7576" stop-color="#830000"/><stop offset="0.7606" stop-color="#840000"/><stop offset="0.7636" stop-color="#830000"/><stop offset="0.7666" stop-color="#820000"/><stop offset="0.7695" stop-color="#810000"/><stop offset="0.7724" stop-color="#7f0000"/><stop offset="0.7752" stop-color="#7e0000"/><stop offset="0.7781" stop-color="#7e0000"/><stop offset="0.7809" stop-color="#7e0000"/><stop offset="0.7836" stop-color="#7f0000"/><stop offset="0.7864" stop-color="#800000"/><stop offset="0.7891" stop-color="#810000"/><stop offset="0.7918" stop-color="#810000"/><stop offset="0.7944" stop-color="#810000"/><stop offset="0.7971" stop-color="#810000"/><stop offset="0.7996" stop-color="#810000"/><stop offset="0.8022" stop-color="#800000"/><stop offset="0.8048" stop-color="#800000"/><stop offset="0.8073" stop-color="#7f0000"/><stop offset="0.8097" stop-color="#7f0000"/><stop offset="0.8122" stop-color="#800000"/><stop offset="0.8146" stop-color="#800000"/><stop offset="0.8170" stop-color="#800000"/><stop offset="0.8194" stop-color="#800000"/><stop offset="0.8218" stop-color="#800000"/><stop offset="0.8241" stop-color="#800000"/><stop offset="0.8264" stop-color="#800000"/><stop offset="0.8287" stop-color="#800000"/><stop offset="0.8309" stop-color="#800000"/><stop offset="0.8331" stop-color="#800000"/><stop offset="0.8353" stop-color="#800000"/><stop offset="0.8375" stop-color="#800000"/><stop offset="0.8397" stop-color="#800000"/><stop offset="0.8418" stop-color="#800000"/><stop offset="0.8439" stop-color="#800000"/><stop offset="0.8460" stop-color="#800000"/><stop offset="0.8480" stop-color="#800000"/><stop offset="0.8500" stop-color="#800000"/><stop offset="0.8520" stop-color="#800000"/><stop offset="0.8540" stop-color="#800000"/><stop offset="0.8560" stop-color="#800000"/><stop offset="0.8579" stop-color="#800000"/><stop offset="0.8598" stop-color="#800000"/><stop offset="0.8617" stop-color="#800000"/><stop offset="0.8636" stop-color="#800000"/><stop offset="0.8654" stop-color="#800000"/><stop offset="0.8673" stop-color="#800000"/><stop offset="0.8691" stop-color="#800000"/><stop offset="0.8708" stop-color="#800000"/><stop offset="0.8726" stop-color="#800000"/><stop offset="0.8743" stop-color="#800000"/><stop offset="0.8760" stop-color="#800000"/><stop offset="0.8777" stop-color="#800000"/><stop offset="0.8794" stop-color="#800000"/><stop offset="0.8811" stop-color="#800000"/><stop offset="0.8827" stop-color="#800000"/><stop offset="0.8843" stop-color="#800000"/><stop offset="0.8859" stop-color="#800000"/><stop offset="0.8874" stop-color="#800000"/><stop offset="0.8890" stop-color="#800000"/><stop offset="0.8905" stop-color="#800000"/><stop offset="0.8920" stop-color="#800000"/><stop offset="0.8935" stop-color="#800000"/><stop offset="0.8950" stop-color="#800000"/><stop offset="0.8964" stop-color="#800000"/><stop offset="0.8978" stop-color="#800000"/><stop offset="0.8992" stop-color="#800000"/><stop offset="0.9006" stop-color="#800000"/><stop offset="0.9020" stop-color="#800000"/><stop offset="0.9033" stop-color="#800000"/><stop offset="0.9047" stop-color="#800000"/><stop offset="0.9060" stop-color="#800000"/><stop offset="0.9073" stop-color="#800000"/><stop offset="0.9085" stop-color="#800000"/><stop offset="0.9098" stop-color="#800000"/><stop offset="0.9110" stop-color="#800000"/><stop offset="0.9122" stop-color="#800000"/><stop offset="0.9134" stop-color="#800000"/><stop offset="0.9146" stop-color="#800000"/><stop offset="0.9157" stop-color="#800000"/><stop offset="0.9169" stop-color="#800000"/><stop offset="0.9180" stop-color="#800000"/><stop offset="0.9191" stop-color="#800000"/><stop offset="0.9201" stop-color="#800000"/><stop offset="0.9212" stop-color="#800000"/><stop offset="0.9222" stop-color="#800000"/><stop offset="0.9233" stop-color="#800000"/><stop offset="0.9243" stop-color="#800000"/><stop offset="0.9253" stop-color="#800000"/><stop offset="0.9262" stop-color="#800000"/><stop offset="0.9272" stop-color="#800000"/><stop offset="0.9281" stop-color="#800000"/><stop offset="0.9290" stop-color="#800000"/><stop offset="0.9299" stop-color="#800000"/><stop offset="0.9308" stop-color="#800000"/><stop offset="0.9317" stop-color="#800000"/><stop offset="0.9325" stop-color="#800000"/><stop offset="0.9333" stop-color="#800000"/><stop offset="0.9341" stop-color="#800000"/><stop offset="0.9349" stop-color="#800000"/><stop offset="0.9357" stop-color="#800000"/><stop offset="0.9364" stop-color="#800000"/><stop offset="0.9372" stop-color="#800000"/><stop offset="0.9379" stop-color="#800000"/><stop offset="0.9386" stop-color="#800000"/><stop offset="0.9393" stop-color="#800000"/><stop offset="0.9399" stop-color="#800000"/><stop offset="0.9406" stop-color="#800000"/><stop offset="0.9412" stop-color="#800000"/><stop offset="0.9418" stop-color="#800000"/><stop offset="0.9424" stop-color="#800000"/><stop offset="0.9430" stop-color="#800000"/><stop offset="0.9436" stop-color="#800000"/><stop offset="0.9441" stop-color="#800000"/><stop offset="0.9446" stop-color="#800000"/><stop offset="0.9451" stop-color="#800000"/><stop offset="0.9456" stop-color="#800000"/><stop offset="0.9461" stop-color="#800000"/><stop offset="0.9466" stop-color="#800000"/><stop offset="0.9471" stop-color="#800000"/><stop offset="0.9475" stop-color="#800000"/><stop offset="0.9480" stop-color="#800000"/><stop offset="1.0000" stop-color="#800000"/></radialGradient><filter id="fmD" filterUnits="userSpaceOnUse" x="101.7" y="825.4" width="378.8" height="378.4" color-interpolation-filters="sRGB"><feColorMatrix type="matrix" values="2 0 0 0 -0.50392 2 0 0 0 -0.50392 2 0 0 0 -0.50392 0 0 0 0 1"/><feComponentTransfer><feFuncR type="table" tableValues="0 1 1"/><feFuncG type="table" tableValues="0 1 0"/><feFuncB type="table" tableValues="1 1 0"/></feComponentTransfer></filter><clipPath id="icD"><rect x="101.7" y="825.4" width="378.8" height="378.4"/></clipPath><radialGradient id="Eg1" gradientUnits="userSpaceOnUse" cx="922.70" cy="1014.60" r="193.74"><stop offset="0.0000" stop-color="#900000"/><stop offset="0.0039" stop-color="#900000"/><stop offset="0.0078" stop-color="#900000"/><stop offset="0.0117" stop-color="#900000"/><stop offset="0.0156" stop-color="#900000"/><stop offset="0.0196" stop-color="#900000"/><stop offset="0.0235" stop-color="#900000"/><stop offset="0.0274" stop-color="#900000"/><stop offset="0.0313" stop-color="#900000"/><stop offset="0.0352" stop-color="#900000"/><stop offset="0.0391" stop-color="#900000"/><stop offset="0.0430" stop-color="#900000"/><stop offset="0.0469" stop-color="#900000"/><stop offset="0.0508" stop-color="#900000"/><stop offset="0.0547" stop-color="#900000"/><stop offset="0.0587" stop-color="#900000"/><stop offset="0.0626" stop-color="#900000"/><stop offset="0.0665" stop-color="#8f0000"/><stop offset="0.0704" stop-color="#8f0000"/><stop offset="0.0743" stop-color="#8f0000"/><stop offset="0.0782" stop-color="#8f0000"/><stop offset="0.0821" stop-color="#8e0000"/><stop offset="0.0860" stop-color="#8e0000"/><stop offset="0.0899" stop-color="#8d0000"/><stop offset="0.0938" stop-color="#8d0000"/><stop offset="0.0978" stop-color="#8c0000"/><stop offset="0.1017" stop-color="#8c0000"/><stop offset="0.1056" stop-color="#8b0000"/><stop offset="0.1095" stop-color="#8b0000"/><stop offset="0.1134" stop-color="#8a0000"/><stop offset="0.1173" stop-color="#890000"/><stop offset="0.1212" stop-color="#880000"/><stop offset="0.1251" stop-color="#880000"/><stop offset="0.1290" stop-color="#870000"/><stop offset="0.1330" stop-color="#860000"/><stop offset="0.1369" stop-color="#850000"/><stop offset="0.1408" stop-color="#840000"/><stop offset="0.1447" stop-color="#830000"/><stop offset="0.1486" stop-color="#820000"/><stop offset="0.1525" stop-color="#800000"/><stop offset="0.1564" stop-color="#7f0000"/><stop offset="0.1603" stop-color="#7e0000"/><stop offset="0.1642" stop-color="#7d0000"/><stop offset="0.1681" stop-color="#7b0000"/><stop offset="0.1721" stop-color="#7a0000"/><stop offset="0.1760" stop-color="#790000"/><stop offset="0.1799" stop-color="#770000"/><stop offset="0.1838" stop-color="#760000"/><stop offset="0.1877" stop-color="#750000"/><stop offset="0.1916" stop-color="#740000"/><stop offset="0.1955" stop-color="#720000"/><stop offset="0.1994" stop-color="#710000"/><stop offset="0.2033" stop-color="#700000"/><stop offset="0.2073" stop-color="#700000"/><stop offset="0.2112" stop-color="#6f0000"/><stop offset="0.2151" stop-color="#6f0000"/><stop offset="0.2190" stop-color="#6e0000"/><stop offset="0.2229" stop-color="#6f0000"/><stop offset="0.2268" stop-color="#6f0000"/><stop offset="0.2307" stop-color="#700000"/><stop offset="0.2346" stop-color="#710000"/><stop offset="0.2385" stop-color="#730000"/><stop offset="0.2424" stop-color="#740000"/><stop offset="0.2464" stop-color="#760000"/><stop offset="0.2503" stop-color="#780000"/><stop offset="0.2542" stop-color="#7a0000"/><stop offset="0.2581" stop-color="#7c0000"/><stop offset="0.2620" stop-color="#7e0000"/><stop offset="0.2659" stop-color="#800000"/><stop offset="0.2698" stop-color="#830000"/><stop offset="0.2737" stop-color="#850000"/><stop offset="0.2776" stop-color="#870000"/><stop offset="0.2815" stop-color="#890000"/><stop offset="0.2855" stop-color="#8b0000"/><stop offset="0.2894" stop-color="#8c0000"/><stop offset="0.2933" stop-color="#8d0000"/><stop offset="0.2972" stop-color="#8e0000"/><stop offset="0.3011" stop-color="#8f0000"/><stop offset="0.3050" stop-color="#8f0000"/><stop offset="0.3089" stop-color="#8f0000"/><stop offset="0.3128" stop-color="#8e0000"/><stop offset="0.3167" stop-color="#8d0000"/><stop offset="0.3207" stop-color="#8b0000"/><stop offset="0.3246" stop-color="#890000"/><stop offset="0.3285" stop-color="#870000"/><stop offset="0.3324" stop-color="#850000"/><stop offset="0.3363" stop-color="#830000"/><stop offset="0.3402" stop-color="#800000"/><stop offset="0.3441" stop-color="#7d0000"/><stop offset="0.3480" stop-color="#7b0000"/><stop offset="0.3519" stop-color="#790000"/><stop offset="0.3558" stop-color="#770000"/><stop offset="0.3598" stop-color="#750000"/><stop offset="0.3637" stop-color="#740000"/><stop offset="0.3676" stop-color="#730000"/><stop offset="0.3715" stop-color="#730000"/><stop offset="0.3754" stop-color="#730000"/><stop offset="0.3793" stop-color="#740000"/><stop offset="0.3832" stop-color="#760000"/><stop offset="0.3871" stop-color="#780000"/><stop offset="0.3910" stop-color="#7a0000"/><stop offset="0.3949" stop-color="#7d0000"/><stop offset="0.3989" stop-color="#7f0000"/><stop offset="0.4028" stop-color="#820000"/><stop offset="0.4067" stop-color="#840000"/><stop offset="0.4106" stop-color="#870000"/><stop offset="0.4145" stop-color="#890000"/><stop offset="0.4184" stop-color="#8a0000"/><stop offset="0.4223" stop-color="#8b0000"/><stop offset="0.4262" stop-color="#8b0000"/><stop offset="0.4301" stop-color="#8b0000"/><stop offset="0.4341" stop-color="#890000"/><stop offset="0.4380" stop-color="#880000"/><stop offset="0.4419" stop-color="#860000"/><stop offset="0.4458" stop-color="#830000"/><stop offset="0.4497" stop-color="#810000"/><stop offset="0.4536" stop-color="#7e0000"/><stop offset="0.4575" stop-color="#7b0000"/><stop offset="0.4614" stop-color="#790000"/><stop offset="0.4653" stop-color="#780000"/><stop offset="0.4692" stop-color="#770000"/><stop offset="0.4732" stop-color="#760000"/><stop offset="0.4771" stop-color="#770000"/><stop offset="0.4810" stop-color="#780000"/><stop offset="0.4849" stop-color="#7a0000"/><stop offset="0.4888" stop-color="#7c0000"/><stop offset="0.4927" stop-color="#7f0000"/><stop offset="0.4966" stop-color="#810000"/><stop offset="0.5005" stop-color="#840000"/><stop offset="0.5044" stop-color="#860000"/><stop offset="0.5083" stop-color="#880000"/><stop offset="0.5123" stop-color="#890000"/><stop offset="0.5162" stop-color="#890000"/><stop offset="0.5201" stop-color="#880000"/><stop offset="0.5240" stop-color="#860000"/><stop offset="0.5279" stop-color="#840000"/><stop offset="0.5318" stop-color="#820000"/><stop offset="0.5357" stop-color="#7f0000"/><stop offset="0.5396" stop-color="#7d0000"/><stop offset="0.5435" stop-color="#7b0000"/><stop offset="0.5475" stop-color="#790000"/><stop offset="0.5514" stop-color="#790000"/><stop offset="0.5553" stop-color="#790000"/><stop offset="0.5592" stop-color="#7a0000"/><stop offset="0.5631" stop-color="#7c0000"/><stop offset="0.5670" stop-color="#7e0000"/><stop offset="0.5709" stop-color="#810000"/><stop offset="0.5748" stop-color="#830000"/><stop offset="0.5787" stop-color="#850000"/><stop offset="0.5826" stop-color="#860000"/><stop offset="0.5866" stop-color="#860000"/><stop offset="0.5905" stop-color="#860000"/><stop offset="0.5944" stop-color="#840000"/><stop offset="0.5983" stop-color="#830000"/><stop offset="0.6022" stop-color="#800000"/><stop offset="0.6061" stop-color="#7e0000"/><stop offset="0.6100" stop-color="#7c0000"/><stop offset="0.6139" stop-color="#7a0000"/><stop offset="0.6178" stop-color="#7a0000"/><stop offset="0.6218" stop-color="#7a0000"/><stop offset="0.6257" stop-color="#7c0000"/><stop offset="0.6296" stop-color="#7e0000"/><stop offset="0.6335" stop-color="#810000"/><stop offset="0.6374" stop-color="#830000"/><stop offset="0.6413" stop-color="#850000"/><stop offset="0.6452" stop-color="#860000"/><stop offset="0.6491" stop-color="#850000"/><stop offset="0.6530" stop-color="#840000"/><stop offset="0.6569" stop-color="#820000"/><stop offset="0.6609" stop-color="#800000"/><stop offset="0.6648" stop-color="#7e0000"/><stop offset="0.6687" stop-color="#7c0000"/><stop offset="0.6726" stop-color="#7c0000"/><stop offset="0.6765" stop-color="#7c0000"/><stop offset="0.6804" stop-color="#7e0000"/><stop offset="0.6843" stop-color="#7f0000"/><stop offset="0.6882" stop-color="#810000"/><stop offset="0.6921" stop-color="#820000"/><stop offset="0.6960" stop-color="#830000"/><stop offset="0.7000" stop-color="#820000"/><stop offset="0.7039" stop-color="#820000"/><stop offset="0.7078" stop-color="#810000"/><stop offset="0.7117" stop-color="#800000"/><stop offset="0.7155" stop-color="#7f0000"/><stop offset="0.7193" stop-color="#7e0000"/><stop offset="0.7230" stop-color="#7f0000"/><stop offset="0.7267" stop-color="#7f0000"/><stop offset="0.7304" stop-color="#800000"/><stop offset="0.7340" stop-color="#800000"/><stop offset="0.7376" stop-color="#810000"/><stop offset="0.7412" stop-color="#810000"/><stop offset="0.7447" stop-color="#810000"/><stop offset="0.7481" stop-color="#800000"/><stop offset="0.7516" stop-color="#800000"/><stop offset="0.7549" stop-color="#800000"/><stop offset="0.7583" stop-color="#800000"/><stop offset="0.7616" stop-color="#800000"/><stop offset="0.7649" stop-color="#800000"/><stop offset="0.7681" stop-color="#800000"/><stop offset="0.7713" stop-color="#800000"/><stop offset="0.7745" stop-color="#800000"/><stop offset="0.7776" stop-color="#800000"/><stop offset="0.7807" stop-color="#800000"/><stop offset="0.7838" stop-color="#800000"/><stop offset="0.7869" stop-color="#800000"/><stop offset="0.7899" stop-color="#800000"/><stop offset="0.7928" stop-color="#800000"/><stop offset="0.7958" stop-color="#800000"/><stop offset="0.7987" stop-color="#800000"/><stop offset="0.8015" stop-color="#800000"/><stop offset="0.8044" stop-color="#800000"/><stop offset="0.8072" stop-color="#800000"/><stop offset="0.8100" stop-color="#800000"/><stop offset="0.8127" stop-color="#800000"/><stop offset="0.8155" stop-color="#800000"/><stop offset="0.8182" stop-color="#800000"/><stop offset="0.8208" stop-color="#800000"/><stop offset="0.8235" stop-color="#800000"/><stop offset="0.8261" stop-color="#800000"/><stop offset="0.8286" stop-color="#800000"/><stop offset="0.8312" stop-color="#800000"/><stop offset="0.8337" stop-color="#800000"/><stop offset="0.8362" stop-color="#800000"/><stop offset="0.8387" stop-color="#800000"/><stop offset="0.8411" stop-color="#800000"/><stop offset="0.8435" stop-color="#800000"/><stop offset="0.8459" stop-color="#800000"/><stop offset="0.8483" stop-color="#800000"/><stop offset="0.8506" stop-color="#800000"/><stop offset="0.8529" stop-color="#800000"/><stop offset="0.8552" stop-color="#800000"/><stop offset="0.8574" stop-color="#800000"/><stop offset="0.8597" stop-color="#800000"/><stop offset="0.8619" stop-color="#800000"/><stop offset="0.8641" stop-color="#800000"/><stop offset="0.8662" stop-color="#800000"/><stop offset="0.8684" stop-color="#800000"/><stop offset="0.8705" stop-color="#800000"/><stop offset="0.8725" stop-color="#800000"/><stop offset="0.8746" stop-color="#800000"/><stop offset="0.8766" stop-color="#800000"/><stop offset="0.8786" stop-color="#800000"/><stop offset="0.8806" stop-color="#800000"/><stop offset="0.8826" stop-color="#800000"/><stop offset="0.8845" stop-color="#800000"/><stop offset="0.8864" stop-color="#800000"/><stop offset="0.8883" stop-color="#800000"/><stop offset="0.8902" stop-color="#800000"/><stop offset="0.8921" stop-color="#800000"/><stop offset="0.8939" stop-color="#800000"/><stop offset="0.8957" stop-color="#800000"/><stop offset="0.8975" stop-color="#800000"/><stop offset="0.8992" stop-color="#800000"/><stop offset="0.9010" stop-color="#800000"/><stop offset="0.9027" stop-color="#800000"/><stop offset="0.9044" stop-color="#800000"/><stop offset="0.9061" stop-color="#800000"/><stop offset="0.9077" stop-color="#800000"/><stop offset="0.9093" stop-color="#800000"/><stop offset="0.9109" stop-color="#800000"/><stop offset="0.9125" stop-color="#800000"/><stop offset="0.9141" stop-color="#800000"/><stop offset="0.9156" stop-color="#800000"/><stop offset="0.9172" stop-color="#800000"/><stop offset="0.9187" stop-color="#800000"/><stop offset="0.9201" stop-color="#800000"/><stop offset="0.9216" stop-color="#800000"/><stop offset="0.9230" stop-color="#800000"/><stop offset="0.9245" stop-color="#800000"/><stop offset="0.9259" stop-color="#800000"/><stop offset="0.9272" stop-color="#800000"/><stop offset="0.9286" stop-color="#800000"/><stop offset="0.9299" stop-color="#800000"/><stop offset="0.9313" stop-color="#800000"/><stop offset="0.9326" stop-color="#800000"/><stop offset="0.9339" stop-color="#800000"/><stop offset="0.9351" stop-color="#800000"/><stop offset="0.9364" stop-color="#800000"/><stop offset="0.9376" stop-color="#800000"/><stop offset="0.9388" stop-color="#800000"/><stop offset="0.9400" stop-color="#800000"/><stop offset="0.9411" stop-color="#800000"/><stop offset="0.9423" stop-color="#800000"/><stop offset="0.9434" stop-color="#800000"/><stop offset="0.9445" stop-color="#800000"/><stop offset="0.9456" stop-color="#800000"/><stop offset="0.9467" stop-color="#800000"/><stop offset="0.9477" stop-color="#800000"/><stop offset="0.9487" stop-color="#800000"/><stop offset="0.9498" stop-color="#800000"/><stop offset="0.9507" stop-color="#800000"/><stop offset="0.9517" stop-color="#800000"/><stop offset="0.9527" stop-color="#800000"/><stop offset="0.9536" stop-color="#800000"/><stop offset="0.9545" stop-color="#800000"/><stop offset="0.9554" stop-color="#800000"/><stop offset="0.9563" stop-color="#800000"/><stop offset="0.9572" stop-color="#800000"/><stop offset="0.9580" stop-color="#800000"/><stop offset="0.9589" stop-color="#800000"/><stop offset="0.9597" stop-color="#800000"/><stop offset="0.9605" stop-color="#800000"/><stop offset="0.9612" stop-color="#800000"/><stop offset="0.9620" stop-color="#800000"/><stop offset="0.9627" stop-color="#800000"/><stop offset="0.9634" stop-color="#800000"/><stop offset="0.9641" stop-color="#800000"/><stop offset="0.9648" stop-color="#800000"/><stop offset="0.9655" stop-color="#800000"/><stop offset="0.9661" stop-color="#800000"/><stop offset="0.9668" stop-color="#800000"/><stop offset="0.9674" stop-color="#800000"/><stop offset="0.9680" stop-color="#800000"/><stop offset="0.9685" stop-color="#800000"/><stop offset="0.9691" stop-color="#800000"/><stop offset="0.9696" stop-color="#800000"/><stop offset="0.9702" stop-color="#800000"/><stop offset="0.9707" stop-color="#800000"/><stop offset="0.9712" stop-color="#800000"/><stop offset="0.9716" stop-color="#800000"/><stop offset="0.9721" stop-color="#800000"/><stop offset="0.9726" stop-color="#800000"/><stop offset="0.9731" stop-color="#800000"/><stop offset="0.9736" stop-color="#800000"/><stop offset="0.9741" stop-color="#800000"/><stop offset="0.9746" stop-color="#800000"/><stop offset="0.9751" stop-color="#800000"/><stop offset="0.9756" stop-color="#800000"/><stop offset="1.0000" stop-color="#800000"/></radialGradient><radialGradient id="Eg2" gradientUnits="userSpaceOnUse" cx="858.67" cy="1014.60" r="127.21" fx="979.52" fy="1014.60"><stop offset="0.0000" stop-color="#007700"/><stop offset="0.0022" stop-color="#007700"/><stop offset="0.0045" stop-color="#008600"/><stop offset="0.0067" stop-color="#009700"/><stop offset="0.0089" stop-color="#00a800"/><stop offset="0.0112" stop-color="#00b400"/><stop offset="0.0134" stop-color="#00ba00"/><stop offset="0.0156" stop-color="#00b800"/><stop offset="0.0179" stop-color="#00b000"/><stop offset="0.0201" stop-color="#00a400"/><stop offset="0.0223" stop-color="#009600"/><stop offset="0.0246" stop-color="#008800"/><stop offset="0.0268" stop-color="#007b00"/><stop offset="0.0290" stop-color="#007200"/><stop offset="0.0313" stop-color="#006e00"/><stop offset="0.0335" stop-color="#007100"/><stop offset="0.0357" stop-color="#007600"/><stop offset="0.0380" stop-color="#007e00"/><stop offset="0.0402" stop-color="#008600"/><stop offset="0.0424" stop-color="#008e00"/><stop offset="0.0447" stop-color="#009300"/><stop offset="0.0469" stop-color="#009600"/><stop offset="0.0491" stop-color="#009400"/><stop offset="0.0514" stop-color="#009000"/><stop offset="0.0536" stop-color="#008900"/><stop offset="0.0558" stop-color="#008200"/><stop offset="0.0581" stop-color="#007c00"/><stop offset="0.0603" stop-color="#007600"/><stop offset="0.0625" stop-color="#007300"/><stop offset="0.0648" stop-color="#007300"/><stop offset="0.0670" stop-color="#007700"/><stop offset="0.0692" stop-color="#007c00"/><stop offset="0.0715" stop-color="#008200"/><stop offset="0.0737" stop-color="#008800"/><stop offset="0.0759" stop-color="#008d00"/><stop offset="0.0782" stop-color="#008f00"/><stop offset="0.0804" stop-color="#008e00"/><stop offset="0.0826" stop-color="#008a00"/><stop offset="0.0849" stop-color="#008400"/><stop offset="0.0871" stop-color="#007e00"/><stop offset="0.0893" stop-color="#007800"/><stop offset="0.0916" stop-color="#007400"/><stop offset="0.0938" stop-color="#007300"/><stop offset="0.0960" stop-color="#007500"/><stop offset="0.0983" stop-color="#007900"/><stop offset="0.1005" stop-color="#007e00"/><stop offset="0.1027" stop-color="#008400"/><stop offset="0.1050" stop-color="#008900"/><stop offset="0.1072" stop-color="#008b00"/><stop offset="0.1094" stop-color="#008b00"/><stop offset="0.1117" stop-color="#008900"/><stop offset="0.1139" stop-color="#008500"/><stop offset="0.1161" stop-color="#007f00"/><stop offset="0.1184" stop-color="#007a00"/><stop offset="0.1206" stop-color="#007700"/><stop offset="0.1228" stop-color="#007500"/><stop offset="0.1251" stop-color="#007500"/><stop offset="0.1273" stop-color="#007800"/><stop offset="0.1295" stop-color="#007d00"/><stop offset="0.1318" stop-color="#008200"/><stop offset="0.1340" stop-color="#008700"/><stop offset="0.1362" stop-color="#008a00"/><stop offset="0.1385" stop-color="#008b00"/><stop offset="0.1407" stop-color="#008900"/><stop offset="0.1429" stop-color="#008600"/><stop offset="0.1452" stop-color="#008200"/><stop offset="0.1474" stop-color="#007e00"/><stop offset="0.1496" stop-color="#007a00"/><stop offset="0.1519" stop-color="#007700"/><stop offset="0.1541" stop-color="#007600"/><stop offset="0.1563" stop-color="#007600"/><stop offset="0.1586" stop-color="#007900"/><stop offset="0.1608" stop-color="#007d00"/><stop offset="0.1630" stop-color="#008100"/><stop offset="0.1653" stop-color="#008500"/><stop offset="0.1675" stop-color="#008800"/><stop offset="0.1697" stop-color="#008900"/><stop offset="0.1720" stop-color="#008800"/><stop offset="0.1742" stop-color="#008500"/><stop offset="0.1764" stop-color="#008100"/><stop offset="0.1787" stop-color="#007d00"/><stop offset="0.1809" stop-color="#007900"/><stop offset="0.1831" stop-color="#007700"/><stop offset="0.1854" stop-color="#007600"/><stop offset="0.1876" stop-color="#007900"/><stop offset="0.1898" stop-color="#007d00"/><stop offset="0.1921" stop-color="#008100"/><stop offset="0.1943" stop-color="#008600"/><stop offset="0.1965" stop-color="#008900"/><stop offset="0.1988" stop-color="#008900"/><stop offset="0.2010" stop-color="#008800"/><stop offset="0.2032" stop-color="#008500"/><stop offset="0.2055" stop-color="#008100"/><stop offset="0.2077" stop-color="#007d00"/><stop offset="0.2099" stop-color="#007a00"/><stop offset="0.2122" stop-color="#007700"/><stop offset="0.2144" stop-color="#007700"/><stop offset="0.2166" stop-color="#007800"/><stop offset="0.2189" stop-color="#007c00"/><stop offset="0.2211" stop-color="#008000"/><stop offset="0.2233" stop-color="#008400"/><stop offset="0.2256" stop-color="#008700"/><stop offset="0.2278" stop-color="#008900"/><stop offset="0.2300" stop-color="#008800"/><stop offset="0.2323" stop-color="#008600"/><stop offset="0.2345" stop-color="#008300"/><stop offset="0.2367" stop-color="#007f00"/><stop offset="0.2390" stop-color="#007b00"/><stop offset="0.2412" stop-color="#007900"/><stop offset="0.2434" stop-color="#007700"/><stop offset="0.2457" stop-color="#007800"/><stop offset="0.2479" stop-color="#007b00"/><stop offset="0.2501" stop-color="#007e00"/><stop offset="0.2524" stop-color="#008200"/><stop offset="0.2546" stop-color="#008600"/><stop offset="0.2568" stop-color="#008800"/><stop offset="0.2591" stop-color="#008800"/><stop offset="0.2613" stop-color="#008700"/><stop offset="0.2635" stop-color="#008400"/><stop offset="0.2658" stop-color="#008100"/><stop offset="0.2680" stop-color="#007d00"/><stop offset="0.2702" stop-color="#007a00"/><stop offset="0.2725" stop-color="#007900"/><stop offset="0.2747" stop-color="#007900"/><stop offset="0.2769" stop-color="#007a00"/><stop offset="0.2792" stop-color="#007d00"/><stop offset="0.2814" stop-color="#008100"/><stop offset="0.2836" stop-color="#008400"/><stop offset="0.2859" stop-color="#008600"/><stop offset="0.2881" stop-color="#008800"/><stop offset="0.2903" stop-color="#008700"/><stop offset="0.2926" stop-color="#008500"/><stop offset="0.2948" stop-color="#008200"/><stop offset="0.2970" stop-color="#007f00"/><stop offset="0.2993" stop-color="#007c00"/><stop offset="0.3015" stop-color="#007a00"/><stop offset="0.3037" stop-color="#007900"/><stop offset="0.3060" stop-color="#007a00"/><stop offset="0.3082" stop-color="#007c00"/><stop offset="0.3104" stop-color="#007f00"/><stop offset="0.3127" stop-color="#008200"/><stop offset="0.3149" stop-color="#008500"/><stop offset="0.3171" stop-color="#008700"/><stop offset="0.3194" stop-color="#008800"/><stop offset="0.3216" stop-color="#008700"/><stop offset="0.3238" stop-color="#008500"/><stop offset="0.3261" stop-color="#008200"/><stop offset="0.3283" stop-color="#007f00"/><stop offset="0.3305" stop-color="#007c00"/><stop offset="0.3328" stop-color="#007a00"/><stop offset="0.3350" stop-color="#007900"/><stop offset="0.3372" stop-color="#007b00"/><stop offset="0.3395" stop-color="#007d00"/><stop offset="0.3417" stop-color="#008000"/><stop offset="0.3439" stop-color="#008300"/><stop offset="0.3462" stop-color="#008500"/><stop offset="0.3484" stop-color="#008600"/><stop offset="0.3506" stop-color="#008500"/><stop offset="0.3529" stop-color="#008400"/><stop offset="0.3551" stop-color="#008100"/><stop offset="0.3573" stop-color="#007e00"/><stop offset="0.3596" stop-color="#007b00"/><stop offset="0.3618" stop-color="#007900"/><stop offset="0.3640" stop-color="#007900"/><stop offset="0.3663" stop-color="#007a00"/><stop offset="0.3685" stop-color="#007c00"/><stop offset="0.3707" stop-color="#007e00"/><stop offset="0.3730" stop-color="#008100"/><stop offset="0.3752" stop-color="#008400"/><stop offset="0.3774" stop-color="#008600"/><stop offset="0.3797" stop-color="#008700"/><stop offset="0.3819" stop-color="#008700"/><stop offset="0.3841" stop-color="#008500"/><stop offset="0.3864" stop-color="#008200"/><stop offset="0.3886" stop-color="#007f00"/><stop offset="0.3908" stop-color="#007d00"/><stop offset="0.3931" stop-color="#007b00"/><stop offset="0.3953" stop-color="#007b00"/><stop offset="0.3975" stop-color="#007c00"/><stop offset="0.3998" stop-color="#007f00"/><stop offset="0.4020" stop-color="#008100"/><stop offset="0.4042" stop-color="#008400"/><stop offset="0.4065" stop-color="#008600"/><stop offset="0.4087" stop-color="#008700"/><stop offset="0.4109" stop-color="#008700"/><stop offset="0.4132" stop-color="#008600"/><stop offset="0.4154" stop-color="#008300"/><stop offset="0.4176" stop-color="#008000"/><stop offset="0.4199" stop-color="#007e00"/><stop offset="0.4221" stop-color="#007c00"/><stop offset="0.4243" stop-color="#007a00"/><stop offset="0.4266" stop-color="#007b00"/><stop offset="0.4288" stop-color="#007c00"/><stop offset="0.4310" stop-color="#007e00"/><stop offset="0.4333" stop-color="#008000"/><stop offset="0.4355" stop-color="#008200"/><stop offset="0.4377" stop-color="#008400"/><stop offset="0.4400" stop-color="#008500"/><stop offset="0.4422" stop-color="#008500"/><stop offset="0.4444" stop-color="#008300"/><stop offset="0.4467" stop-color="#008000"/><stop offset="0.4489" stop-color="#007e00"/><stop offset="0.4511" stop-color="#007b00"/><stop offset="0.4533" stop-color="#007a00"/><stop offset="0.4556" stop-color="#007a00"/><stop offset="0.4578" stop-color="#007c00"/><stop offset="0.4600" stop-color="#007f00"/><stop offset="0.4623" stop-color="#008100"/><stop offset="0.4645" stop-color="#008400"/><stop offset="0.4667" stop-color="#008600"/><stop offset="0.4690" stop-color="#008600"/><stop offset="0.4712" stop-color="#008500"/><stop offset="0.4734" stop-color="#008300"/><stop offset="0.4757" stop-color="#008100"/><stop offset="0.4779" stop-color="#007f00"/><stop offset="0.4801" stop-color="#007d00"/><stop offset="0.4824" stop-color="#007b00"/><stop offset="0.4846" stop-color="#007b00"/><stop offset="0.4868" stop-color="#007c00"/><stop offset="0.4891" stop-color="#007e00"/><stop offset="0.4913" stop-color="#008000"/><stop offset="0.4935" stop-color="#008200"/><stop offset="0.4958" stop-color="#008400"/><stop offset="0.4980" stop-color="#008600"/><stop offset="0.5002" stop-color="#008700"/><stop offset="0.5025" stop-color="#008600"/><stop offset="0.5047" stop-color="#008400"/><stop offset="0.5069" stop-color="#008100"/><stop offset="0.5092" stop-color="#007e00"/><stop offset="0.5114" stop-color="#007b00"/><stop offset="0.5136" stop-color="#007a00"/><stop offset="0.5159" stop-color="#007a00"/><stop offset="0.5181" stop-color="#007b00"/><stop offset="0.5203" stop-color="#007d00"/><stop offset="0.5226" stop-color="#007f00"/><stop offset="0.5248" stop-color="#008100"/><stop offset="0.5270" stop-color="#008300"/><stop offset="0.5293" stop-color="#008400"/><stop offset="0.5315" stop-color="#008300"/><stop offset="0.5337" stop-color="#008200"/><stop offset="0.5360" stop-color="#008000"/><stop offset="0.5382" stop-color="#007e00"/><stop offset="0.5404" stop-color="#007d00"/><stop offset="0.5427" stop-color="#007b00"/><stop offset="0.5449" stop-color="#007a00"/><stop offset="0.5471" stop-color="#007b00"/><stop offset="0.5494" stop-color="#007d00"/><stop offset="0.5516" stop-color="#007f00"/><stop offset="0.5538" stop-color="#008200"/><stop offset="0.5561" stop-color="#008400"/><stop offset="0.5583" stop-color="#008600"/><stop offset="0.5605" stop-color="#008700"/><stop offset="0.5628" stop-color="#008600"/><stop offset="0.5650" stop-color="#008400"/><stop offset="0.5672" stop-color="#008200"/><stop offset="0.5695" stop-color="#007f00"/><stop offset="0.5717" stop-color="#007d00"/><stop offset="0.5739" stop-color="#007b00"/><stop offset="0.5762" stop-color="#007c00"/><stop offset="0.5784" stop-color="#007d00"/><stop offset="0.5806" stop-color="#007f00"/><stop offset="0.5829" stop-color="#008100"/><stop offset="0.5851" stop-color="#008300"/><stop offset="0.5873" stop-color="#008400"/><stop offset="0.5896" stop-color="#008400"/><stop offset="0.5918" stop-color="#008300"/><stop offset="0.5940" stop-color="#008200"/><stop offset="0.5963" stop-color="#007f00"/><stop offset="0.5985" stop-color="#007d00"/><stop offset="0.6007" stop-color="#007b00"/><stop offset="0.6030" stop-color="#007900"/><stop offset="0.6052" stop-color="#007900"/><stop offset="0.6074" stop-color="#007900"/><stop offset="0.6097" stop-color="#007b00"/><stop offset="0.6119" stop-color="#007d00"/><stop offset="0.6141" stop-color="#008000"/><stop offset="0.6164" stop-color="#008200"/><stop offset="0.6186" stop-color="#008400"/><stop offset="0.6208" stop-color="#008400"/><stop offset="0.6231" stop-color="#008400"/><stop offset="0.6253" stop-color="#008300"/><stop offset="0.6275" stop-color="#008100"/><stop offset="0.6298" stop-color="#007f00"/><stop offset="0.6320" stop-color="#007d00"/><stop offset="0.6342" stop-color="#007d00"/><stop offset="0.6365" stop-color="#007e00"/><stop offset="0.6387" stop-color="#007f00"/><stop offset="0.6409" stop-color="#008000"/><stop offset="0.6432" stop-color="#008200"/><stop offset="0.6454" stop-color="#008300"/><stop offset="0.6476" stop-color="#008400"/><stop offset="0.6499" stop-color="#008400"/><stop offset="0.6521" stop-color="#008300"/><stop offset="0.6543" stop-color="#008100"/><stop offset="0.6566" stop-color="#007f00"/><stop offset="0.6588" stop-color="#007d00"/><stop offset="0.6610" stop-color="#007b00"/><stop offset="0.6633" stop-color="#007b00"/><stop offset="0.6655" stop-color="#007b00"/><stop offset="0.6677" stop-color="#007c00"/><stop offset="0.6700" stop-color="#007d00"/><stop offset="0.6722" stop-color="#007f00"/><stop offset="0.6744" stop-color="#008100"/><stop offset="0.6767" stop-color="#008200"/><stop offset="0.6789" stop-color="#008300"/><stop offset="0.6811" stop-color="#008400"/><stop offset="0.6834" stop-color="#008300"/><stop offset="0.6856" stop-color="#008200"/><stop offset="0.6878" stop-color="#008100"/><stop offset="0.6901" stop-color="#007f00"/><stop offset="0.6923" stop-color="#007e00"/><stop offset="0.6945" stop-color="#007e00"/><stop offset="0.6968" stop-color="#007e00"/><stop offset="0.6990" stop-color="#007f00"/><stop offset="0.7012" stop-color="#008000"/><stop offset="0.7035" stop-color="#008100"/><stop offset="0.7057" stop-color="#008100"/><stop offset="0.7079" stop-color="#008100"/><stop offset="0.7102" stop-color="#008100"/><stop offset="0.7124" stop-color="#008100"/><stop offset="0.7146" stop-color="#008000"/><stop offset="0.7169" stop-color="#007f00"/><stop offset="0.7191" stop-color="#007f00"/><stop offset="0.7213" stop-color="#007e00"/><stop offset="0.7236" stop-color="#007e00"/><stop offset="0.7258" stop-color="#007f00"/><stop offset="0.7280" stop-color="#007f00"/><stop offset="0.7303" stop-color="#008000"/><stop offset="0.7325" stop-color="#008000"/><stop offset="0.7347" stop-color="#008100"/><stop offset="0.7370" stop-color="#008100"/><stop offset="0.7392" stop-color="#008100"/><stop offset="0.7414" stop-color="#008100"/><stop offset="0.7437" stop-color="#008100"/><stop offset="0.7459" stop-color="#008000"/><stop offset="0.7481" stop-color="#008000"/><stop offset="0.7504" stop-color="#007f00"/><stop offset="0.7526" stop-color="#007f00"/><stop offset="0.7548" stop-color="#007f00"/><stop offset="0.7571" stop-color="#007f00"/><stop offset="0.7593" stop-color="#007f00"/><stop offset="0.7615" stop-color="#008000"/><stop offset="0.7638" stop-color="#008000"/><stop offset="0.7660" stop-color="#008000"/><stop offset="0.7682" stop-color="#008000"/><stop offset="0.7705" stop-color="#008000"/><stop offset="0.7727" stop-color="#008000"/><stop offset="0.7749" stop-color="#008000"/><stop offset="0.7772" stop-color="#008000"/><stop offset="0.7794" stop-color="#008000"/><stop offset="0.7816" stop-color="#008000"/><stop offset="0.7839" stop-color="#008000"/><stop offset="0.7861" stop-color="#008000"/><stop offset="0.7883" stop-color="#008000"/><stop offset="0.7906" stop-color="#008000"/><stop offset="0.7928" stop-color="#008000"/><stop offset="0.7950" stop-color="#008000"/><stop offset="0.7973" stop-color="#008000"/><stop offset="0.7995" stop-color="#008000"/><stop offset="0.8017" stop-color="#008000"/><stop offset="0.8040" stop-color="#008000"/><stop offset="0.8062" stop-color="#008000"/><stop offset="0.8084" stop-color="#008000"/><stop offset="0.8107" stop-color="#008000"/><stop offset="0.8129" stop-color="#008000"/><stop offset="0.8151" stop-color="#008000"/><stop offset="0.8174" stop-color="#008000"/><stop offset="0.8196" stop-color="#008000"/><stop offset="0.8218" stop-color="#008000"/><stop offset="0.8241" stop-color="#008000"/><stop offset="0.8263" stop-color="#008000"/><stop offset="0.8285" stop-color="#008000"/><stop offset="0.8308" stop-color="#008000"/><stop offset="0.8330" stop-color="#008000"/><stop offset="0.8352" stop-color="#008000"/><stop offset="0.8375" stop-color="#008000"/><stop offset="0.8397" stop-color="#008000"/><stop offset="0.8419" stop-color="#008000"/><stop offset="0.8442" stop-color="#008000"/><stop offset="0.8464" stop-color="#008000"/><stop offset="0.8486" stop-color="#008000"/><stop offset="0.8509" stop-color="#008000"/><stop offset="0.8531" stop-color="#008000"/><stop offset="0.8553" stop-color="#008000"/><stop offset="0.8576" stop-color="#008000"/><stop offset="0.8598" stop-color="#008000"/><stop offset="0.8620" stop-color="#008000"/><stop offset="0.8643" stop-color="#008000"/><stop offset="0.8665" stop-color="#008000"/><stop offset="0.8687" stop-color="#008000"/><stop offset="0.8710" stop-color="#008000"/><stop offset="0.8732" stop-color="#008000"/><stop offset="0.8754" stop-color="#008000"/><stop offset="0.8777" stop-color="#008000"/><stop offset="0.8799" stop-color="#008000"/><stop offset="0.8821" stop-color="#008000"/><stop offset="0.8844" stop-color="#008000"/><stop offset="0.8866" stop-color="#008000"/><stop offset="0.8888" stop-color="#008000"/><stop offset="0.8911" stop-color="#008000"/><stop offset="0.8933" stop-color="#008000"/><stop offset="0.8955" stop-color="#008000"/><stop offset="0.8978" stop-color="#008000"/><stop offset="0.9000" stop-color="#008000"/><stop offset="0.9022" stop-color="#008000"/><stop offset="0.9045" stop-color="#008000"/><stop offset="0.9067" stop-color="#008000"/><stop offset="0.9089" stop-color="#008000"/><stop offset="0.9112" stop-color="#008000"/><stop offset="0.9134" stop-color="#008000"/><stop offset="0.9156" stop-color="#008000"/><stop offset="0.9179" stop-color="#008000"/><stop offset="0.9201" stop-color="#008000"/><stop offset="0.9223" stop-color="#008000"/><stop offset="0.9246" stop-color="#008000"/><stop offset="0.9268" stop-color="#008000"/><stop offset="0.9290" stop-color="#008000"/><stop offset="0.9313" stop-color="#008000"/><stop offset="0.9335" stop-color="#008000"/><stop offset="0.9357" stop-color="#008000"/><stop offset="0.9380" stop-color="#008000"/><stop offset="0.9402" stop-color="#008000"/><stop offset="0.9424" stop-color="#008000"/><stop offset="0.9447" stop-color="#008000"/><stop offset="0.9469" stop-color="#008000"/><stop offset="0.9491" stop-color="#008000"/><stop offset="0.9514" stop-color="#008000"/><stop offset="0.9536" stop-color="#008000"/><stop offset="0.9558" stop-color="#008000"/><stop offset="0.9581" stop-color="#008000"/><stop offset="0.9603" stop-color="#008000"/><stop offset="0.9625" stop-color="#008000"/><stop offset="0.9648" stop-color="#008000"/><stop offset="0.9670" stop-color="#008000"/><stop offset="0.9692" stop-color="#008000"/><stop offset="0.9715" stop-color="#008000"/><stop offset="0.9737" stop-color="#008000"/><stop offset="0.9759" stop-color="#008000"/><stop offset="0.9782" stop-color="#008000"/><stop offset="0.9804" stop-color="#008000"/><stop offset="0.9826" stop-color="#008000"/><stop offset="0.9849" stop-color="#008000"/><stop offset="0.9871" stop-color="#008000"/><stop offset="0.9893" stop-color="#008000"/><stop offset="0.9916" stop-color="#008000"/><stop offset="1.0000" stop-color="#008000"/></radialGradient><linearGradient id="Eg3" gradientUnits="userSpaceOnUse" x1="975.87" y1="1018.95" x2="983.17" y2="1010.25"><stop offset="0" stop-color="#008000" stop-opacity="0"/><stop offset="1" stop-color="#008000" stop-opacity="0.4"/></linearGradient><linearGradient id="Eg4" gradientUnits="userSpaceOnUse" x1="975.87" y1="1010.25" x2="983.17" y2="1018.95"><stop offset="0" stop-color="#008000" stop-opacity="0"/><stop offset="1" stop-color="#008000" stop-opacity="0.4"/></linearGradient><linearGradient id="Eg5" gradientUnits="userSpaceOnUse" x1="975.30" y1="1018.40" x2="983.74" y2="1010.80"><stop offset="0" stop-color="#008000" stop-opacity="0"/><stop offset="1" stop-color="#008000" stop-opacity="0.4"/></linearGradient><linearGradient id="Eg6" gradientUnits="userSpaceOnUse" x1="975.30" y1="1010.80" x2="983.74" y2="1018.40"><stop offset="0" stop-color="#008000" stop-opacity="0"/><stop offset="1" stop-color="#008000" stop-opacity="0.4"/></linearGradient><linearGradient id="Eg7" gradientUnits="userSpaceOnUse" x1="974.81" y1="1017.78" x2="984.23" y2="1011.42"><stop offset="0" stop-color="#008000" stop-opacity="0"/><stop offset="1" stop-color="#008000" stop-opacity="0.4"/></linearGradient><linearGradient id="Eg8" gradientUnits="userSpaceOnUse" x1="974.81" y1="1011.42" x2="984.23" y2="1017.78"><stop offset="0" stop-color="#008000" stop-opacity="0"/><stop offset="1" stop-color="#008000" stop-opacity="0.4"/></linearGradient><linearGradient id="Eg9" gradientUnits="userSpaceOnUse" x1="974.41" y1="1017.09" x2="984.63" y2="1012.11"><stop offset="0" stop-color="#008000" stop-opacity="0"/><stop offset="1" stop-color="#008000" stop-opacity="0.4"/></linearGradient><linearGradient id="Eg10" gradientUnits="userSpaceOnUse" x1="974.41" y1="1012.11" x2="984.63" y2="1017.09"><stop offset="0" stop-color="#008000" stop-opacity="0"/><stop offset="1" stop-color="#008000" stop-opacity="0.4"/></linearGradient><linearGradient id="Eg11" gradientUnits="userSpaceOnUse" x1="974.12" y1="1016.36" x2="984.92" y2="1012.84"><stop offset="0" stop-color="#008000" stop-opacity="0"/><stop offset="1" stop-color="#008000" stop-opacity="0.4"/></linearGradient><linearGradient id="Eg12" gradientUnits="userSpaceOnUse" x1="974.12" y1="1012.84" x2="984.92" y2="1016.36"><stop offset="0" stop-color="#008000" stop-opacity="0"/><stop offset="1" stop-color="#008000" stop-opacity="0.4"/></linearGradient><filter id="fmE" filterUnits="userSpaceOnUse" x="733.3" y="825.4" width="378.8" height="378.4" color-interpolation-filters="sRGB"><feColorMatrix type="matrix" values="2 2 0 0 -1.50784 2 2 0 0 -1.50784 2 2 0 0 -1.50784 0 0 0 0 1"/><feComponentTransfer><feFuncR type="table" tableValues="0 1 1"/><feFuncG type="table" tableValues="0 1 0"/><feFuncB type="table" tableValues="1 1 0"/></feComponentTransfer></filter><clipPath id="icE"><rect x="733.3" y="825.4" width="378.8" height="378.4"/></clipPath><radialGradient id="Fg1" gradientUnits="userSpaceOnUse" cx="1554.20" cy="1014.60" r="193.74"><stop offset="0.0000" stop-color="#870000"/><stop offset="0.0039" stop-color="#870000"/><stop offset="0.0078" stop-color="#870000"/><stop offset="0.0117" stop-color="#870000"/><stop offset="0.0156" stop-color="#870000"/><stop offset="0.0196" stop-color="#870000"/><stop offset="0.0235" stop-color="#870000"/><stop offset="0.0274" stop-color="#870000"/><stop offset="0.0313" stop-color="#870000"/><stop offset="0.0352" stop-color="#870000"/><stop offset="0.0391" stop-color="#870000"/><stop offset="0.0430" stop-color="#870000"/><stop offset="0.0469" stop-color="#870000"/><stop offset="0.0508" stop-color="#870000"/><stop offset="0.0547" stop-color="#870000"/><stop offset="0.0587" stop-color="#860000"/><stop offset="0.0626" stop-color="#860000"/><stop offset="0.0665" stop-color="#860000"/><stop offset="0.0704" stop-color="#860000"/><stop offset="0.0743" stop-color="#860000"/><stop offset="0.0782" stop-color="#860000"/><stop offset="0.0821" stop-color="#860000"/><stop offset="0.0860" stop-color="#860000"/><stop offset="0.0899" stop-color="#860000"/><stop offset="0.0938" stop-color="#850000"/><stop offset="0.0978" stop-color="#850000"/><stop offset="0.1017" stop-color="#850000"/><stop offset="0.1056" stop-color="#850000"/><stop offset="0.1095" stop-color="#840000"/><stop offset="0.1134" stop-color="#840000"/><stop offset="0.1173" stop-color="#840000"/><stop offset="0.1212" stop-color="#830000"/><stop offset="0.1251" stop-color="#830000"/><stop offset="0.1290" stop-color="#830000"/><stop offset="0.1330" stop-color="#820000"/><stop offset="0.1369" stop-color="#820000"/><stop offset="0.1408" stop-color="#820000"/><stop offset="0.1447" stop-color="#810000"/><stop offset="0.1486" stop-color="#810000"/><stop offset="0.1525" stop-color="#800000"/><stop offset="0.1564" stop-color="#800000"/><stop offset="0.1603" stop-color="#7f0000"/><stop offset="0.1642" stop-color="#7f0000"/><stop offset="0.1681" stop-color="#7e0000"/><stop offset="0.1721" stop-color="#7e0000"/><stop offset="0.1760" stop-color="#7d0000"/><stop offset="0.1799" stop-color="#7c0000"/><stop offset="0.1838" stop-color="#7c0000"/><stop offset="0.1877" stop-color="#7b0000"/><stop offset="0.1916" stop-color="#7b0000"/><stop offset="0.1955" stop-color="#7a0000"/><stop offset="0.1994" stop-color="#7a0000"/><stop offset="0.2033" stop-color="#7a0000"/><stop offset="0.2073" stop-color="#790000"/><stop offset="0.2112" stop-color="#790000"/><stop offset="0.2151" stop-color="#790000"/><stop offset="0.2190" stop-color="#790000"/><stop offset="0.2229" stop-color="#790000"/><stop offset="0.2268" stop-color="#790000"/><stop offset="0.2307" stop-color="#790000"/><stop offset="0.2346" stop-color="#7a0000"/><stop offset="0.2385" stop-color="#7a0000"/><stop offset="0.2424" stop-color="#7b0000"/><stop offset="0.2464" stop-color="#7c0000"/><stop offset="0.2503" stop-color="#7d0000"/><stop offset="0.2542" stop-color="#7d0000"/><stop offset="0.2581" stop-color="#7e0000"/><stop offset="0.2620" stop-color="#7f0000"/><stop offset="0.2659" stop-color="#800000"/><stop offset="0.2698" stop-color="#810000"/><stop offset="0.2737" stop-color="#820000"/><stop offset="0.2776" stop-color="#830000"/><stop offset="0.2815" stop-color="#840000"/><stop offset="0.2855" stop-color="#840000"/><stop offset="0.2894" stop-color="#850000"/><stop offset="0.2933" stop-color="#850000"/><stop offset="0.2972" stop-color="#860000"/><stop offset="0.3011" stop-color="#860000"/><stop offset="0.3050" stop-color="#860000"/><stop offset="0.3089" stop-color="#860000"/><stop offset="0.3128" stop-color="#860000"/><stop offset="0.3167" stop-color="#850000"/><stop offset="0.3207" stop-color="#850000"/><stop offset="0.3246" stop-color="#840000"/><stop offset="0.3285" stop-color="#830000"/><stop offset="0.3324" stop-color="#820000"/><stop offset="0.3363" stop-color="#810000"/><stop offset="0.3402" stop-color="#800000"/><stop offset="0.3441" stop-color="#7f0000"/><stop offset="0.3480" stop-color="#7e0000"/><stop offset="0.3519" stop-color="#7d0000"/><stop offset="0.3558" stop-color="#7c0000"/><stop offset="0.3598" stop-color="#7b0000"/><stop offset="0.3637" stop-color="#7b0000"/><stop offset="0.3676" stop-color="#7b0000"/><stop offset="0.3715" stop-color="#7b0000"/><stop offset="0.3754" stop-color="#7b0000"/><stop offset="0.3793" stop-color="#7b0000"/><stop offset="0.3832" stop-color="#7c0000"/><stop offset="0.3871" stop-color="#7d0000"/><stop offset="0.3910" stop-color="#7e0000"/><stop offset="0.3949" stop-color="#7f0000"/><stop offset="0.3989" stop-color="#800000"/><stop offset="0.4028" stop-color="#810000"/><stop offset="0.4067" stop-color="#820000"/><stop offset="0.4106" stop-color="#830000"/><stop offset="0.4145" stop-color="#840000"/><stop offset="0.4184" stop-color="#840000"/><stop offset="0.4223" stop-color="#840000"/><stop offset="0.4262" stop-color="#850000"/><stop offset="0.4301" stop-color="#840000"/><stop offset="0.4341" stop-color="#840000"/><stop offset="0.4380" stop-color="#830000"/><stop offset="0.4419" stop-color="#820000"/><stop offset="0.4458" stop-color="#810000"/><stop offset="0.4497" stop-color="#800000"/><stop offset="0.4536" stop-color="#7f0000"/><stop offset="0.4575" stop-color="#7e0000"/><stop offset="0.4614" stop-color="#7d0000"/><stop offset="0.4653" stop-color="#7d0000"/><stop offset="0.4692" stop-color="#7c0000"/><stop offset="0.4732" stop-color="#7c0000"/><stop offset="0.4771" stop-color="#7c0000"/><stop offset="0.4810" stop-color="#7d0000"/><stop offset="0.4849" stop-color="#7e0000"/><stop offset="0.4888" stop-color="#7f0000"/><stop offset="0.4927" stop-color="#800000"/><stop offset="0.4966" stop-color="#800000"/><stop offset="0.5005" stop-color="#810000"/><stop offset="0.5044" stop-color="#820000"/><stop offset="0.5083" stop-color="#820000"/><stop offset="0.5123" stop-color="#830000"/><stop offset="0.5162" stop-color="#820000"/><stop offset="0.5201" stop-color="#820000"/><stop offset="0.5240" stop-color="#820000"/><stop offset="0.5279" stop-color="#810000"/><stop offset="0.5318" stop-color="#800000"/><stop offset="0.5357" stop-color="#800000"/><stop offset="0.5396" stop-color="#7f0000"/><stop offset="0.5435" stop-color="#7f0000"/><stop offset="0.5475" stop-color="#7f0000"/><stop offset="0.5514" stop-color="#7f0000"/><stop offset="0.5553" stop-color="#7f0000"/><stop offset="0.5592" stop-color="#7f0000"/><stop offset="0.5631" stop-color="#7f0000"/><stop offset="0.5670" stop-color="#800000"/><stop offset="0.5709" stop-color="#800000"/><stop offset="0.5748" stop-color="#800000"/><stop offset="0.5787" stop-color="#810000"/><stop offset="0.5826" stop-color="#810000"/><stop offset="0.5866" stop-color="#810000"/><stop offset="0.5905" stop-color="#810000"/><stop offset="0.5944" stop-color="#800000"/><stop offset="0.5983" stop-color="#800000"/><stop offset="0.6022" stop-color="#800000"/><stop offset="0.6061" stop-color="#800000"/><stop offset="0.6100" stop-color="#800000"/><stop offset="0.6139" stop-color="#800000"/><stop offset="0.6178" stop-color="#800000"/><stop offset="0.6218" stop-color="#800000"/><stop offset="0.6257" stop-color="#800000"/><stop offset="0.6296" stop-color="#800000"/><stop offset="0.6335" stop-color="#800000"/><stop offset="0.6374" stop-color="#800000"/><stop offset="0.6413" stop-color="#800000"/><stop offset="0.6452" stop-color="#800000"/><stop offset="0.6491" stop-color="#800000"/><stop offset="0.6530" stop-color="#800000"/><stop offset="0.6569" stop-color="#800000"/><stop offset="0.6609" stop-color="#800000"/><stop offset="0.6648" stop-color="#800000"/><stop offset="0.6687" stop-color="#800000"/><stop offset="0.6726" stop-color="#800000"/><stop offset="0.6765" stop-color="#800000"/><stop offset="0.6804" stop-color="#800000"/><stop offset="0.6843" stop-color="#800000"/><stop offset="0.6882" stop-color="#800000"/><stop offset="0.6921" stop-color="#800000"/><stop offset="0.6960" stop-color="#800000"/><stop offset="0.7000" stop-color="#800000"/><stop offset="0.7039" stop-color="#800000"/><stop offset="0.7078" stop-color="#800000"/><stop offset="0.7117" stop-color="#800000"/><stop offset="0.7155" stop-color="#800000"/><stop offset="0.7193" stop-color="#800000"/><stop offset="0.7230" stop-color="#800000"/><stop offset="0.7267" stop-color="#800000"/><stop offset="0.7304" stop-color="#800000"/><stop offset="0.7340" stop-color="#800000"/><stop offset="0.7376" stop-color="#800000"/><stop offset="0.7412" stop-color="#800000"/><stop offset="0.7447" stop-color="#800000"/><stop offset="0.7481" stop-color="#800000"/><stop offset="0.7516" stop-color="#800000"/><stop offset="0.7549" stop-color="#800000"/><stop offset="0.7583" stop-color="#800000"/><stop offset="0.7616" stop-color="#800000"/><stop offset="0.7649" stop-color="#800000"/><stop offset="0.7681" stop-color="#800000"/><stop offset="0.7713" stop-color="#800000"/><stop offset="0.7745" stop-color="#800000"/><stop offset="0.7776" stop-color="#800000"/><stop offset="0.7807" stop-color="#800000"/><stop offset="0.7838" stop-color="#800000"/><stop offset="0.7869" stop-color="#800000"/><stop offset="0.7899" stop-color="#800000"/><stop offset="0.7928" stop-color="#800000"/><stop offset="0.7958" stop-color="#800000"/><stop offset="0.7987" stop-color="#800000"/><stop offset="0.8015" stop-color="#800000"/><stop offset="0.8044" stop-color="#800000"/><stop offset="0.8072" stop-color="#800000"/><stop offset="0.8100" stop-color="#800000"/><stop offset="0.8127" stop-color="#800000"/><stop offset="0.8155" stop-color="#800000"/><stop offset="0.8182" stop-color="#800000"/><stop offset="0.8208" stop-color="#800000"/><stop offset="0.8235" stop-color="#800000"/><stop offset="0.8261" stop-color="#800000"/><stop offset="0.8286" stop-color="#800000"/><stop offset="0.8312" stop-color="#800000"/><stop offset="0.8337" stop-color="#800000"/><stop offset="0.8362" stop-color="#800000"/><stop offset="0.8387" stop-color="#800000"/><stop offset="0.8411" stop-color="#800000"/><stop offset="0.8435" stop-color="#800000"/><stop offset="0.8459" stop-color="#800000"/><stop offset="0.8483" stop-color="#800000"/><stop offset="0.8506" stop-color="#800000"/><stop offset="0.8529" stop-color="#800000"/><stop offset="0.8552" stop-color="#800000"/><stop offset="0.8574" stop-color="#800000"/><stop offset="0.8597" stop-color="#800000"/><stop offset="0.8619" stop-color="#800000"/><stop offset="0.8641" stop-color="#800000"/><stop offset="0.8662" stop-color="#800000"/><stop offset="0.8684" stop-color="#800000"/><stop offset="0.8705" stop-color="#800000"/><stop offset="0.8725" stop-color="#800000"/><stop offset="0.8746" stop-color="#800000"/><stop offset="0.8766" stop-color="#800000"/><stop offset="0.8786" stop-color="#800000"/><stop offset="0.8806" stop-color="#800000"/><stop offset="0.8826" stop-color="#800000"/><stop offset="0.8845" stop-color="#800000"/><stop offset="0.8864" stop-color="#800000"/><stop offset="0.8883" stop-color="#800000"/><stop offset="0.8902" stop-color="#800000"/><stop offset="0.8921" stop-color="#800000"/><stop offset="0.8939" stop-color="#800000"/><stop offset="0.8957" stop-color="#800000"/><stop offset="0.8975" stop-color="#800000"/><stop offset="0.8992" stop-color="#800000"/><stop offset="0.9010" stop-color="#800000"/><stop offset="0.9027" stop-color="#800000"/><stop offset="0.9044" stop-color="#800000"/><stop offset="0.9061" stop-color="#800000"/><stop offset="0.9077" stop-color="#800000"/><stop offset="0.9093" stop-color="#800000"/><stop offset="0.9109" stop-color="#800000"/><stop offset="0.9125" stop-color="#800000"/><stop offset="0.9141" stop-color="#800000"/><stop offset="0.9156" stop-color="#800000"/><stop offset="0.9172" stop-color="#800000"/><stop offset="0.9187" stop-color="#800000"/><stop offset="0.9201" stop-color="#800000"/><stop offset="0.9216" stop-color="#800000"/><stop offset="0.9230" stop-color="#800000"/><stop offset="0.9245" stop-color="#800000"/><stop offset="0.9259" stop-color="#800000"/><stop offset="0.9272" stop-color="#800000"/><stop offset="0.9286" stop-color="#800000"/><stop offset="0.9299" stop-color="#800000"/><stop offset="0.9313" stop-color="#800000"/><stop offset="0.9326" stop-color="#800000"/><stop offset="0.9339" stop-color="#800000"/><stop offset="0.9351" stop-color="#800000"/><stop offset="0.9364" stop-color="#800000"/><stop offset="0.9376" stop-color="#800000"/><stop offset="0.9388" stop-color="#800000"/><stop offset="0.9400" stop-color="#800000"/><stop offset="0.9411" stop-color="#800000"/><stop offset="0.9423" stop-color="#800000"/><stop offset="0.9434" stop-color="#800000"/><stop offset="0.9445" stop-color="#800000"/><stop offset="0.9456" stop-color="#800000"/><stop offset="0.9467" stop-color="#800000"/><stop offset="0.9477" stop-color="#800000"/><stop offset="0.9487" stop-color="#800000"/><stop offset="0.9498" stop-color="#800000"/><stop offset="0.9507" stop-color="#800000"/><stop offset="0.9517" stop-color="#800000"/><stop offset="0.9527" stop-color="#800000"/><stop offset="0.9536" stop-color="#800000"/><stop offset="0.9545" stop-color="#800000"/><stop offset="0.9554" stop-color="#800000"/><stop offset="0.9563" stop-color="#800000"/><stop offset="0.9572" stop-color="#800000"/><stop offset="0.9580" stop-color="#800000"/><stop offset="0.9589" stop-color="#800000"/><stop offset="0.9597" stop-color="#800000"/><stop offset="0.9605" stop-color="#800000"/><stop offset="0.9612" stop-color="#800000"/><stop offset="0.9620" stop-color="#800000"/><stop offset="0.9627" stop-color="#800000"/><stop offset="0.9634" stop-color="#800000"/><stop offset="0.9641" stop-color="#800000"/><stop offset="0.9648" stop-color="#800000"/><stop offset="0.9655" stop-color="#800000"/><stop offset="0.9661" stop-color="#800000"/><stop offset="0.9668" stop-color="#800000"/><stop offset="0.9674" stop-color="#800000"/><stop offset="0.9680" stop-color="#800000"/><stop offset="0.9685" stop-color="#800000"/><stop offset="0.9691" stop-color="#800000"/><stop offset="0.9696" stop-color="#800000"/><stop offset="0.9702" stop-color="#800000"/><stop offset="0.9707" stop-color="#800000"/><stop offset="0.9712" stop-color="#800000"/><stop offset="0.9716" stop-color="#800000"/><stop offset="0.9721" stop-color="#800000"/><stop offset="0.9726" stop-color="#800000"/><stop offset="0.9731" stop-color="#800000"/><stop offset="0.9736" stop-color="#800000"/><stop offset="0.9741" stop-color="#800000"/><stop offset="0.9746" stop-color="#800000"/><stop offset="0.9751" stop-color="#800000"/><stop offset="0.9756" stop-color="#800000"/><stop offset="1.0000" stop-color="#800000"/></radialGradient><radialGradient id="Fg2" gradientUnits="userSpaceOnUse" cx="1519.31" cy="1014.60" r="156.35" fx="1667.84" fy="1014.60"><stop offset="0.0000" stop-color="#006900"/><stop offset="0.0018" stop-color="#006900"/><stop offset="0.0036" stop-color="#007300"/><stop offset="0.0055" stop-color="#008000"/><stop offset="0.0073" stop-color="#008f00"/><stop offset="0.0091" stop-color="#009e00"/><stop offset="0.0109" stop-color="#00ac00"/><stop offset="0.0127" stop-color="#00b800"/><stop offset="0.0145" stop-color="#00bf00"/><stop offset="0.0164" stop-color="#00c200"/><stop offset="0.0182" stop-color="#00be00"/><stop offset="0.0200" stop-color="#00b600"/><stop offset="0.0218" stop-color="#00aa00"/><stop offset="0.0236" stop-color="#009b00"/><stop offset="0.0254" stop-color="#008b00"/><stop offset="0.0273" stop-color="#007b00"/><stop offset="0.0291" stop-color="#006d00"/><stop offset="0.0309" stop-color="#006100"/><stop offset="0.0327" stop-color="#005900"/><stop offset="0.0345" stop-color="#005600"/><stop offset="0.0363" stop-color="#005900"/><stop offset="0.0382" stop-color="#006100"/><stop offset="0.0400" stop-color="#006b00"/><stop offset="0.0418" stop-color="#007700"/><stop offset="0.0436" stop-color="#008400"/><stop offset="0.0454" stop-color="#009100"/><stop offset="0.0472" stop-color="#009b00"/><stop offset="0.0491" stop-color="#00a100"/><stop offset="0.0509" stop-color="#00a300"/><stop offset="0.0527" stop-color="#00a000"/><stop offset="0.0545" stop-color="#009a00"/><stop offset="0.0563" stop-color="#009100"/><stop offset="0.0581" stop-color="#008600"/><stop offset="0.0600" stop-color="#007b00"/><stop offset="0.0618" stop-color="#007100"/><stop offset="0.0636" stop-color="#006900"/><stop offset="0.0654" stop-color="#006300"/><stop offset="0.0672" stop-color="#006200"/><stop offset="0.0690" stop-color="#006600"/><stop offset="0.0709" stop-color="#006d00"/><stop offset="0.0727" stop-color="#007600"/><stop offset="0.0745" stop-color="#008100"/><stop offset="0.0763" stop-color="#008b00"/><stop offset="0.0781" stop-color="#009400"/><stop offset="0.0800" stop-color="#009a00"/><stop offset="0.0818" stop-color="#009c00"/><stop offset="0.0836" stop-color="#009a00"/><stop offset="0.0854" stop-color="#009500"/><stop offset="0.0872" stop-color="#008e00"/><stop offset="0.0890" stop-color="#008600"/><stop offset="0.0909" stop-color="#007e00"/><stop offset="0.0927" stop-color="#007500"/><stop offset="0.0945" stop-color="#006e00"/><stop offset="0.0963" stop-color="#006900"/><stop offset="0.0981" stop-color="#006600"/><stop offset="0.0999" stop-color="#006700"/><stop offset="0.1018" stop-color="#006b00"/><stop offset="0.1036" stop-color="#007200"/><stop offset="0.1054" stop-color="#007b00"/><stop offset="0.1072" stop-color="#008400"/><stop offset="0.1090" stop-color="#008c00"/><stop offset="0.1108" stop-color="#009300"/><stop offset="0.1127" stop-color="#009700"/><stop offset="0.1145" stop-color="#009800"/><stop offset="0.1163" stop-color="#009500"/><stop offset="0.1181" stop-color="#009000"/><stop offset="0.1199" stop-color="#008900"/><stop offset="0.1217" stop-color="#008200"/><stop offset="0.1236" stop-color="#007a00"/><stop offset="0.1254" stop-color="#007300"/><stop offset="0.1272" stop-color="#006e00"/><stop offset="0.1290" stop-color="#006b00"/><stop offset="0.1308" stop-color="#006c00"/><stop offset="0.1326" stop-color="#006f00"/><stop offset="0.1345" stop-color="#007500"/><stop offset="0.1363" stop-color="#007d00"/><stop offset="0.1381" stop-color="#008400"/><stop offset="0.1399" stop-color="#008c00"/><stop offset="0.1417" stop-color="#009200"/><stop offset="0.1435" stop-color="#009600"/><stop offset="0.1454" stop-color="#009600"/><stop offset="0.1472" stop-color="#009300"/><stop offset="0.1490" stop-color="#008e00"/><stop offset="0.1508" stop-color="#008800"/><stop offset="0.1526" stop-color="#008100"/><stop offset="0.1544" stop-color="#007900"/><stop offset="0.1563" stop-color="#007300"/><stop offset="0.1581" stop-color="#006e00"/><stop offset="0.1599" stop-color="#006c00"/><stop offset="0.1617" stop-color="#006c00"/><stop offset="0.1635" stop-color="#006f00"/><stop offset="0.1654" stop-color="#007400"/><stop offset="0.1672" stop-color="#007a00"/><stop offset="0.1690" stop-color="#008100"/><stop offset="0.1708" stop-color="#008700"/><stop offset="0.1726" stop-color="#008d00"/><stop offset="0.1744" stop-color="#009000"/><stop offset="0.1763" stop-color="#009200"/><stop offset="0.1781" stop-color="#009100"/><stop offset="0.1799" stop-color="#008d00"/><stop offset="0.1817" stop-color="#008800"/><stop offset="0.1835" stop-color="#008200"/><stop offset="0.1853" stop-color="#007c00"/><stop offset="0.1872" stop-color="#007600"/><stop offset="0.1890" stop-color="#007100"/><stop offset="0.1908" stop-color="#006e00"/><stop offset="0.1926" stop-color="#006d00"/><stop offset="0.1944" stop-color="#006f00"/><stop offset="0.1962" stop-color="#007300"/><stop offset="0.1981" stop-color="#007800"/><stop offset="0.1999" stop-color="#007e00"/><stop offset="0.2017" stop-color="#008400"/><stop offset="0.2035" stop-color="#008a00"/><stop offset="0.2053" stop-color="#008f00"/><stop offset="0.2071" stop-color="#009200"/><stop offset="0.2090" stop-color="#009300"/><stop offset="0.2108" stop-color="#009100"/><stop offset="0.2126" stop-color="#008d00"/><stop offset="0.2144" stop-color="#008800"/><stop offset="0.2162" stop-color="#008300"/><stop offset="0.2180" stop-color="#007d00"/><stop offset="0.2199" stop-color="#007800"/><stop offset="0.2217" stop-color="#007400"/><stop offset="0.2235" stop-color="#007100"/><stop offset="0.2253" stop-color="#007100"/><stop offset="0.2271" stop-color="#007300"/><stop offset="0.2289" stop-color="#007700"/><stop offset="0.2308" stop-color="#007d00"/><stop offset="0.2326" stop-color="#008300"/><stop offset="0.2344" stop-color="#008900"/><stop offset="0.2362" stop-color="#008e00"/><stop offset="0.2380" stop-color="#009100"/><stop offset="0.2399" stop-color="#009200"/><stop offset="0.2417" stop-color="#009000"/><stop offset="0.2435" stop-color="#008d00"/><stop offset="0.2453" stop-color="#008800"/><stop offset="0.2471" stop-color="#008200"/><stop offset="0.2489" stop-color="#007c00"/><stop offset="0.2508" stop-color="#007700"/><stop offset="0.2526" stop-color="#007300"/><stop offset="0.2544" stop-color="#007000"/><stop offset="0.2562" stop-color="#007000"/><stop offset="0.2580" stop-color="#007200"/><stop offset="0.2598" stop-color="#007600"/><stop offset="0.2617" stop-color="#007b00"/><stop offset="0.2635" stop-color="#008000"/><stop offset="0.2653" stop-color="#008500"/><stop offset="0.2671" stop-color="#008a00"/><stop offset="0.2689" stop-color="#008d00"/><stop offset="0.2707" stop-color="#008f00"/><stop offset="0.2726" stop-color="#008f00"/><stop offset="0.2744" stop-color="#008c00"/><stop offset="0.2762" stop-color="#008900"/><stop offset="0.2780" stop-color="#008400"/><stop offset="0.2798" stop-color="#007f00"/><stop offset="0.2816" stop-color="#007a00"/><stop offset="0.2835" stop-color="#007500"/><stop offset="0.2853" stop-color="#007200"/><stop offset="0.2871" stop-color="#007000"/><stop offset="0.2889" stop-color="#007100"/><stop offset="0.2907" stop-color="#007400"/><stop offset="0.2925" stop-color="#007800"/><stop offset="0.2944" stop-color="#007d00"/><stop offset="0.2962" stop-color="#008300"/><stop offset="0.2980" stop-color="#008800"/><stop offset="0.2998" stop-color="#008c00"/><stop offset="0.3016" stop-color="#008f00"/><stop offset="0.3034" stop-color="#008f00"/><stop offset="0.3053" stop-color="#008d00"/><stop offset="0.3071" stop-color="#008900"/><stop offset="0.3089" stop-color="#008500"/><stop offset="0.3107" stop-color="#008000"/><stop offset="0.3125" stop-color="#007b00"/><stop offset="0.3144" stop-color="#007700"/><stop offset="0.3162" stop-color="#007300"/><stop offset="0.3180" stop-color="#007200"/><stop offset="0.3198" stop-color="#007200"/><stop offset="0.3216" stop-color="#007400"/><stop offset="0.3234" stop-color="#007800"/><stop offset="0.3253" stop-color="#007d00"/><stop offset="0.3271" stop-color="#008200"/><stop offset="0.3289" stop-color="#008700"/><stop offset="0.3307" stop-color="#008b00"/><stop offset="0.3325" stop-color="#008e00"/><stop offset="0.3343" stop-color="#008e00"/><stop offset="0.3362" stop-color="#008c00"/><stop offset="0.3380" stop-color="#008900"/><stop offset="0.3398" stop-color="#008500"/><stop offset="0.3416" stop-color="#008000"/><stop offset="0.3434" stop-color="#007b00"/><stop offset="0.3452" stop-color="#007700"/><stop offset="0.3471" stop-color="#007400"/><stop offset="0.3489" stop-color="#007200"/><stop offset="0.3507" stop-color="#007300"/><stop offset="0.3525" stop-color="#007500"/><stop offset="0.3543" stop-color="#007800"/><stop offset="0.3561" stop-color="#007c00"/><stop offset="0.3580" stop-color="#008100"/><stop offset="0.3598" stop-color="#008500"/><stop offset="0.3616" stop-color="#008900"/><stop offset="0.3634" stop-color="#008c00"/><stop offset="0.3652" stop-color="#008d00"/><stop offset="0.3670" stop-color="#008d00"/><stop offset="0.3689" stop-color="#008b00"/><stop offset="0.3707" stop-color="#008700"/><stop offset="0.3725" stop-color="#008300"/><stop offset="0.3743" stop-color="#007f00"/><stop offset="0.3761" stop-color="#007a00"/><stop offset="0.3779" stop-color="#007600"/><stop offset="0.3798" stop-color="#007400"/><stop offset="0.3816" stop-color="#007300"/><stop offset="0.3834" stop-color="#007400"/><stop offset="0.3852" stop-color="#007700"/><stop offset="0.3870" stop-color="#007a00"/><stop offset="0.3888" stop-color="#007f00"/><stop offset="0.3907" stop-color="#008300"/><stop offset="0.3925" stop-color="#008700"/><stop offset="0.3943" stop-color="#008b00"/><stop offset="0.3961" stop-color="#008d00"/><stop offset="0.3979" stop-color="#008d00"/><stop offset="0.3998" stop-color="#008b00"/><stop offset="0.4016" stop-color="#008800"/><stop offset="0.4034" stop-color="#008400"/><stop offset="0.4052" stop-color="#008000"/><stop offset="0.4070" stop-color="#007b00"/><stop offset="0.4088" stop-color="#007800"/><stop offset="0.4107" stop-color="#007500"/><stop offset="0.4125" stop-color="#007400"/><stop offset="0.4143" stop-color="#007500"/><stop offset="0.4161" stop-color="#007700"/><stop offset="0.4179" stop-color="#007a00"/><stop offset="0.4197" stop-color="#007e00"/><stop offset="0.4216" stop-color="#008300"/><stop offset="0.4234" stop-color="#008700"/><stop offset="0.4252" stop-color="#008a00"/><stop offset="0.4270" stop-color="#008c00"/><stop offset="0.4288" stop-color="#008d00"/><stop offset="0.4306" stop-color="#008b00"/><stop offset="0.4325" stop-color="#008800"/><stop offset="0.4343" stop-color="#008500"/><stop offset="0.4361" stop-color="#008000"/><stop offset="0.4379" stop-color="#007c00"/><stop offset="0.4397" stop-color="#007900"/><stop offset="0.4415" stop-color="#007600"/><stop offset="0.4434" stop-color="#007500"/><stop offset="0.4452" stop-color="#007500"/><stop offset="0.4470" stop-color="#007700"/><stop offset="0.4488" stop-color="#007a00"/><stop offset="0.4506" stop-color="#007e00"/><stop offset="0.4524" stop-color="#008200"/><stop offset="0.4543" stop-color="#008600"/><stop offset="0.4561" stop-color="#008900"/><stop offset="0.4579" stop-color="#008b00"/><stop offset="0.4597" stop-color="#008c00"/><stop offset="0.4615" stop-color="#008b00"/><stop offset="0.4633" stop-color="#008900"/><stop offset="0.4652" stop-color="#008500"/><stop offset="0.4670" stop-color="#008100"/><stop offset="0.4688" stop-color="#007d00"/><stop offset="0.4706" stop-color="#007a00"/><stop offset="0.4724" stop-color="#007700"/><stop offset="0.4743" stop-color="#007500"/><stop offset="0.4761" stop-color="#007400"/><stop offset="0.4779" stop-color="#007600"/><stop offset="0.4797" stop-color="#007800"/><stop offset="0.4815" stop-color="#007c00"/><stop offset="0.4833" stop-color="#008000"/><stop offset="0.4852" stop-color="#008400"/><stop offset="0.4870" stop-color="#008800"/><stop offset="0.4888" stop-color="#008a00"/><stop offset="0.4906" stop-color="#008b00"/><stop offset="0.4924" stop-color="#008b00"/><stop offset="0.4942" stop-color="#008900"/><stop offset="0.4961" stop-color="#008600"/><stop offset="0.4979" stop-color="#008200"/><stop offset="0.4997" stop-color="#007e00"/><stop offset="0.5015" stop-color="#007a00"/><stop offset="0.5033" stop-color="#007700"/><stop offset="0.5051" stop-color="#007500"/><stop offset="0.5070" stop-color="#007500"/><stop offset="0.5088" stop-color="#007600"/><stop offset="0.5106" stop-color="#007800"/><stop offset="0.5124" stop-color="#007c00"/><stop offset="0.5142" stop-color="#008000"/><stop offset="0.5160" stop-color="#008400"/><stop offset="0.5179" stop-color="#008700"/><stop offset="0.5197" stop-color="#008a00"/><stop offset="0.5215" stop-color="#008b00"/><stop offset="0.5233" stop-color="#008b00"/><stop offset="0.5251" stop-color="#008900"/><stop offset="0.5269" stop-color="#008700"/><stop offset="0.5288" stop-color="#008400"/><stop offset="0.5306" stop-color="#008000"/><stop offset="0.5324" stop-color="#007c00"/><stop offset="0.5342" stop-color="#007900"/><stop offset="0.5360" stop-color="#007700"/><stop offset="0.5378" stop-color="#007500"/><stop offset="0.5397" stop-color="#007500"/><stop offset="0.5415" stop-color="#007600"/><stop offset="0.5433" stop-color="#007900"/><stop offset="0.5451" stop-color="#007d00"/><stop offset="0.5469" stop-color="#008100"/><stop offset="0.5487" stop-color="#008400"/><stop offset="0.5506" stop-color="#008800"/><stop offset="0.5524" stop-color="#008a00"/><stop offset="0.5542" stop-color="#008b00"/><stop offset="0.5560" stop-color="#008b00"/><stop offset="0.5578" stop-color="#008900"/><stop offset="0.5597" stop-color="#008600"/><stop offset="0.5615" stop-color="#008200"/><stop offset="0.5633" stop-color="#007f00"/><stop offset="0.5651" stop-color="#007b00"/><stop offset="0.5669" stop-color="#007800"/><stop offset="0.5687" stop-color="#007600"/><stop offset="0.5706" stop-color="#007600"/><stop offset="0.5724" stop-color="#007700"/><stop offset="0.5742" stop-color="#007a00"/><stop offset="0.5760" stop-color="#007d00"/><stop offset="0.5778" stop-color="#008100"/><stop offset="0.5796" stop-color="#008500"/><stop offset="0.5815" stop-color="#008800"/><stop offset="0.5833" stop-color="#008a00"/><stop offset="0.5851" stop-color="#008b00"/><stop offset="0.5869" stop-color="#008b00"/><stop offset="0.5887" stop-color="#008900"/><stop offset="0.5905" stop-color="#008600"/><stop offset="0.5924" stop-color="#008300"/><stop offset="0.5942" stop-color="#007f00"/><stop offset="0.5960" stop-color="#007b00"/><stop offset="0.5978" stop-color="#007800"/><stop offset="0.5996" stop-color="#007600"/><stop offset="0.6014" stop-color="#007500"/><stop offset="0.6033" stop-color="#007500"/><stop offset="0.6051" stop-color="#007700"/><stop offset="0.6069" stop-color="#007a00"/><stop offset="0.6087" stop-color="#007d00"/><stop offset="0.6105" stop-color="#008000"/><stop offset="0.6123" stop-color="#008300"/><stop offset="0.6142" stop-color="#008600"/><stop offset="0.6160" stop-color="#008800"/><stop offset="0.6178" stop-color="#008900"/><stop offset="0.6196" stop-color="#008800"/><stop offset="0.6214" stop-color="#008600"/><stop offset="0.6232" stop-color="#008300"/><stop offset="0.6251" stop-color="#007f00"/><stop offset="0.6269" stop-color="#007c00"/><stop offset="0.6287" stop-color="#007900"/><stop offset="0.6305" stop-color="#007700"/><stop offset="0.6323" stop-color="#007600"/><stop offset="0.6342" stop-color="#007800"/><stop offset="0.6360" stop-color="#007a00"/><stop offset="0.6378" stop-color="#007d00"/><stop offset="0.6396" stop-color="#008100"/><stop offset="0.6414" stop-color="#008400"/><stop offset="0.6432" stop-color="#008800"/><stop offset="0.6451" stop-color="#008a00"/><stop offset="0.6469" stop-color="#008c00"/><stop offset="0.6487" stop-color="#008c00"/><stop offset="0.6505" stop-color="#008b00"/><stop offset="0.6523" stop-color="#008800"/><stop offset="0.6541" stop-color="#008500"/><stop offset="0.6560" stop-color="#008200"/><stop offset="0.6578" stop-color="#007e00"/><stop offset="0.6596" stop-color="#007a00"/><stop offset="0.6614" stop-color="#007800"/><stop offset="0.6632" stop-color="#007600"/><stop offset="0.6650" stop-color="#007500"/><stop offset="0.6669" stop-color="#007600"/><stop offset="0.6687" stop-color="#007800"/><stop offset="0.6705" stop-color="#007b00"/><stop offset="0.6723" stop-color="#007e00"/><stop offset="0.6741" stop-color="#008100"/><stop offset="0.6759" stop-color="#008400"/><stop offset="0.6778" stop-color="#008600"/><stop offset="0.6796" stop-color="#008700"/><stop offset="0.6814" stop-color="#008800"/><stop offset="0.6832" stop-color="#008700"/><stop offset="0.6850" stop-color="#008500"/><stop offset="0.6868" stop-color="#008200"/><stop offset="0.6887" stop-color="#007f00"/><stop offset="0.6905" stop-color="#007c00"/><stop offset="0.6923" stop-color="#007a00"/><stop offset="0.6941" stop-color="#007800"/><stop offset="0.6959" stop-color="#007800"/><stop offset="0.6977" stop-color="#007a00"/><stop offset="0.6996" stop-color="#007c00"/><stop offset="0.7014" stop-color="#007f00"/><stop offset="0.7032" stop-color="#008200"/><stop offset="0.7050" stop-color="#008600"/><stop offset="0.7068" stop-color="#008800"/><stop offset="0.7087" stop-color="#008a00"/><stop offset="0.7105" stop-color="#008a00"/><stop offset="0.7123" stop-color="#008900"/><stop offset="0.7141" stop-color="#008700"/><stop offset="0.7159" stop-color="#008400"/><stop offset="0.7177" stop-color="#008100"/><stop offset="0.7196" stop-color="#007d00"/><stop offset="0.7214" stop-color="#007a00"/><stop offset="0.7232" stop-color="#007700"/><stop offset="0.7250" stop-color="#007500"/><stop offset="0.7268" stop-color="#007400"/><stop offset="0.7286" stop-color="#007400"/><stop offset="0.7305" stop-color="#007600"/><stop offset="0.7323" stop-color="#007900"/><stop offset="0.7341" stop-color="#007d00"/><stop offset="0.7359" stop-color="#008100"/><stop offset="0.7377" stop-color="#008400"/><stop offset="0.7395" stop-color="#008700"/><stop offset="0.7414" stop-color="#008a00"/><stop offset="0.7432" stop-color="#008b00"/><stop offset="0.7450" stop-color="#008b00"/><stop offset="0.7468" stop-color="#008900"/><stop offset="0.7486" stop-color="#008600"/><stop offset="0.7504" stop-color="#008300"/><stop offset="0.7523" stop-color="#008000"/><stop offset="0.7541" stop-color="#007e00"/><stop offset="0.7559" stop-color="#007b00"/><stop offset="0.7577" stop-color="#007a00"/><stop offset="0.7595" stop-color="#007900"/><stop offset="0.7613" stop-color="#007a00"/><stop offset="0.7632" stop-color="#007b00"/><stop offset="0.7650" stop-color="#007d00"/><stop offset="0.7668" stop-color="#007f00"/><stop offset="0.7686" stop-color="#008100"/><stop offset="0.7704" stop-color="#008200"/><stop offset="0.7722" stop-color="#008300"/><stop offset="0.7741" stop-color="#008300"/><stop offset="0.7759" stop-color="#008300"/><stop offset="0.7777" stop-color="#008300"/><stop offset="0.7795" stop-color="#008200"/><stop offset="0.7813" stop-color="#008100"/><stop offset="0.7831" stop-color="#008000"/><stop offset="0.7850" stop-color="#008000"/><stop offset="0.7868" stop-color="#007f00"/><stop offset="0.7886" stop-color="#007f00"/><stop offset="0.7904" stop-color="#007f00"/><stop offset="0.7922" stop-color="#007f00"/><stop offset="0.7941" stop-color="#007f00"/><stop offset="0.7959" stop-color="#008000"/><stop offset="0.7977" stop-color="#008000"/><stop offset="0.7995" stop-color="#008000"/><stop offset="0.8013" stop-color="#008000"/><stop offset="0.8031" stop-color="#008000"/><stop offset="0.8050" stop-color="#008000"/><stop offset="0.8068" stop-color="#008000"/><stop offset="0.8086" stop-color="#008000"/><stop offset="0.8104" stop-color="#008000"/><stop offset="0.8122" stop-color="#008000"/><stop offset="0.8140" stop-color="#008000"/><stop offset="0.8159" stop-color="#008000"/><stop offset="0.8177" stop-color="#008000"/><stop offset="0.8195" stop-color="#008000"/><stop offset="0.8213" stop-color="#008000"/><stop offset="0.8231" stop-color="#008000"/><stop offset="0.8249" stop-color="#008000"/><stop offset="0.8268" stop-color="#008000"/><stop offset="0.8286" stop-color="#008000"/><stop offset="0.8304" stop-color="#008000"/><stop offset="0.8322" stop-color="#008000"/><stop offset="0.8340" stop-color="#008000"/><stop offset="0.8358" stop-color="#008000"/><stop offset="0.8377" stop-color="#008000"/><stop offset="0.8395" stop-color="#008000"/><stop offset="0.8413" stop-color="#008000"/><stop offset="0.8431" stop-color="#008000"/><stop offset="0.8449" stop-color="#008000"/><stop offset="0.8467" stop-color="#008000"/><stop offset="0.8486" stop-color="#008000"/><stop offset="0.8504" stop-color="#008000"/><stop offset="0.8522" stop-color="#008000"/><stop offset="0.8540" stop-color="#008000"/><stop offset="0.8558" stop-color="#008000"/><stop offset="0.8576" stop-color="#008000"/><stop offset="0.8595" stop-color="#008000"/><stop offset="0.8613" stop-color="#008000"/><stop offset="0.8631" stop-color="#008000"/><stop offset="0.8649" stop-color="#008000"/><stop offset="0.8667" stop-color="#008000"/><stop offset="0.8686" stop-color="#008000"/><stop offset="0.8704" stop-color="#008000"/><stop offset="0.8722" stop-color="#008000"/><stop offset="0.8740" stop-color="#008000"/><stop offset="0.8758" stop-color="#008000"/><stop offset="0.8776" stop-color="#008000"/><stop offset="0.8795" stop-color="#008000"/><stop offset="0.8813" stop-color="#008000"/><stop offset="0.8831" stop-color="#008000"/><stop offset="0.8849" stop-color="#008000"/><stop offset="0.8867" stop-color="#008000"/><stop offset="0.8885" stop-color="#008000"/><stop offset="0.8904" stop-color="#008000"/><stop offset="0.8922" stop-color="#008000"/><stop offset="0.8940" stop-color="#008000"/><stop offset="0.8958" stop-color="#008000"/><stop offset="0.8976" stop-color="#008000"/><stop offset="0.8994" stop-color="#008000"/><stop offset="0.9013" stop-color="#008000"/><stop offset="0.9031" stop-color="#008000"/><stop offset="0.9049" stop-color="#008000"/><stop offset="0.9067" stop-color="#008000"/><stop offset="0.9085" stop-color="#008000"/><stop offset="0.9103" stop-color="#008000"/><stop offset="0.9122" stop-color="#008000"/><stop offset="0.9140" stop-color="#008000"/><stop offset="0.9158" stop-color="#008000"/><stop offset="0.9176" stop-color="#008000"/><stop offset="0.9194" stop-color="#008000"/><stop offset="0.9212" stop-color="#008000"/><stop offset="0.9231" stop-color="#008000"/><stop offset="0.9249" stop-color="#008000"/><stop offset="0.9267" stop-color="#008000"/><stop offset="0.9285" stop-color="#008000"/><stop offset="0.9303" stop-color="#008000"/><stop offset="0.9321" stop-color="#008000"/><stop offset="0.9340" stop-color="#008000"/><stop offset="0.9358" stop-color="#008000"/><stop offset="0.9376" stop-color="#008000"/><stop offset="0.9394" stop-color="#008000"/><stop offset="0.9412" stop-color="#008000"/><stop offset="0.9431" stop-color="#008000"/><stop offset="0.9449" stop-color="#008000"/><stop offset="0.9467" stop-color="#008000"/><stop offset="0.9485" stop-color="#008000"/><stop offset="0.9503" stop-color="#008000"/><stop offset="0.9521" stop-color="#008000"/><stop offset="0.9540" stop-color="#008000"/><stop offset="0.9558" stop-color="#008000"/><stop offset="0.9576" stop-color="#008000"/><stop offset="0.9594" stop-color="#008000"/><stop offset="0.9612" stop-color="#008000"/><stop offset="0.9630" stop-color="#008000"/><stop offset="0.9649" stop-color="#008000"/><stop offset="0.9667" stop-color="#008000"/><stop offset="0.9685" stop-color="#008000"/><stop offset="0.9703" stop-color="#008000"/><stop offset="0.9721" stop-color="#008000"/><stop offset="0.9739" stop-color="#008000"/><stop offset="0.9758" stop-color="#008000"/><stop offset="0.9776" stop-color="#008000"/><stop offset="0.9794" stop-color="#008000"/><stop offset="0.9812" stop-color="#008000"/><stop offset="0.9830" stop-color="#008000"/><stop offset="0.9848" stop-color="#008000"/><stop offset="0.9867" stop-color="#008000"/><stop offset="0.9885" stop-color="#008000"/><stop offset="0.9903" stop-color="#008000"/><stop offset="0.9921" stop-color="#008000"/><stop offset="0.9939" stop-color="#008000"/><stop offset="1.0000" stop-color="#008000"/></radialGradient><linearGradient id="Fg3" gradientUnits="userSpaceOnUse" x1="1665.00" y1="1019.52" x2="1670.68" y2="1009.68"><stop offset="0" stop-color="#008000" stop-opacity="0"/><stop offset="1" stop-color="#008000" stop-opacity="0.45"/></linearGradient><linearGradient id="Fg4" gradientUnits="userSpaceOnUse" x1="1665.00" y1="1009.68" x2="1670.68" y2="1019.52"><stop offset="0" stop-color="#008000" stop-opacity="0"/><stop offset="1" stop-color="#008000" stop-opacity="0.45"/></linearGradient><linearGradient id="Fg5" gradientUnits="userSpaceOnUse" x1="1664.50" y1="1019.20" x2="1671.18" y2="1010.00"><stop offset="0" stop-color="#008000" stop-opacity="0"/><stop offset="1" stop-color="#008000" stop-opacity="0.45"/></linearGradient><linearGradient id="Fg6" gradientUnits="userSpaceOnUse" x1="1664.50" y1="1010.00" x2="1671.18" y2="1019.20"><stop offset="0" stop-color="#008000" stop-opacity="0"/><stop offset="1" stop-color="#008000" stop-opacity="0.45"/></linearGradient><linearGradient id="Fg7" gradientUnits="userSpaceOnUse" x1="1664.04" y1="1018.82" x2="1671.64" y2="1010.38"><stop offset="0" stop-color="#008000" stop-opacity="0"/><stop offset="1" stop-color="#008000" stop-opacity="0.45"/></linearGradient><linearGradient id="Fg8" gradientUnits="userSpaceOnUse" x1="1664.04" y1="1010.38" x2="1671.64" y2="1018.82"><stop offset="0" stop-color="#008000" stop-opacity="0"/><stop offset="1" stop-color="#008000" stop-opacity="0.45"/></linearGradient><linearGradient id="Fg9" gradientUnits="userSpaceOnUse" x1="1663.62" y1="1018.40" x2="1672.06" y2="1010.80"><stop offset="0" stop-color="#008000" stop-opacity="0"/><stop offset="1" stop-color="#008000" stop-opacity="0.45"/></linearGradient><linearGradient id="Fg10" gradientUnits="userSpaceOnUse" x1="1663.62" y1="1010.80" x2="1672.06" y2="1018.40"><stop offset="0" stop-color="#008000" stop-opacity="0"/><stop offset="1" stop-color="#008000" stop-opacity="0.45"/></linearGradient><linearGradient id="Fg11" gradientUnits="userSpaceOnUse" x1="1663.13" y1="1017.78" x2="1672.55" y2="1011.42"><stop offset="0" stop-color="#008000" stop-opacity="0"/><stop offset="1" stop-color="#008000" stop-opacity="0.45"/></linearGradient><linearGradient id="Fg12" gradientUnits="userSpaceOnUse" x1="1663.13" y1="1011.42" x2="1672.55" y2="1017.78"><stop offset="0" stop-color="#008000" stop-opacity="0"/><stop offset="1" stop-color="#008000" stop-opacity="0.45"/></linearGradient><filter id="fmF" filterUnits="userSpaceOnUse" x="1364.8" y="825.4" width="378.8" height="378.4" color-interpolation-filters="sRGB"><feColorMatrix type="matrix" values="2 2 0 0 -1.50784 2 2 0 0 -1.50784 2 2 0 0 -1.50784 0 0 0 0 1"/><feComponentTransfer><feFuncR type="table" tableValues="0 1 1"/><feFuncG type="table" tableValues="0 1 0"/><feFuncB type="table" tableValues="1 1 0"/></feComponentTransfer></filter><clipPath id="icF"><rect x="1364.8" y="825.4" width="378.8" height="378.4"/></clipPath></defs><rect width="1880" height="1544" fill="#fff"/><g clip-path="url(#icF)"><g filter="url(#fmF)" style="isolation:isolate"><rect x="1364.8" y="825.4" width="378.8" height="378.4" fill="#000"/><g style="mix-blend-mode:lighten"><rect x="1364.8" y="825.4" width="378.8" height="378.4" fill="#800000"/><circle cx="1554.20" cy="1014.60" r="193.74" fill="url(#Fg1)"/></g><g style="mix-blend-mode:lighten"><rect x="1364.8" y="825.4" width="378.8" height="378.4" fill="#008000"/><circle cx="1519.31" cy="1014.60" r="156.35" fill="url(#Fg2)"/><rect x="1364.8" y="825.4" width="378.8" height="378.4" fill="url(#Fg3)"/><rect x="1364.8" y="825.4" width="378.8" height="378.4" fill="url(#Fg4)"/><rect x="1364.8" y="825.4" width="378.8" height="378.4" fill="url(#Fg5)"/><rect x="1364.8" y="825.4" width="378.8" height="378.4" fill="url(#Fg6)"/><rect x="1364.8" y="825.4" width="378.8" height="378.4" fill="url(#Fg7)"/><rect x="1364.8" y="825.4" width="378.8" height="378.4" fill="url(#Fg8)"/><rect x="1364.8" y="825.4" width="378.8" height="378.4" fill="url(#Fg9)"/><rect x="1364.8" y="825.4" width="378.8" height="378.4" fill="url(#Fg10)"/><rect x="1364.8" y="825.4" width="378.8" height="378.4" fill="url(#Fg11)"/><rect x="1364.8" y="825.4" width="378.8" height="378.4" fill="url(#Fg12)"/></g></g></g>
<g clip-path="url(#icE)"><g filter="url(#fmE)" style="isolation:isolate"><rect x="733.3" y="825.4" width="378.8" height="378.4" fill="#000"/><g style="mix-blend-mode:lighten"><rect x="733.3" y="825.4" width="378.8" height="378.4" fill="#800000"/><circle cx="922.70" cy="1014.60" r="193.74" fill="url(#Eg1)"/></g><g style="mix-blend-mode:lighten"><rect x="733.3" y="825.4" width="378.8" height="378.4" fill="#008000"/><circle cx="858.67" cy="1014.60" r="127.21" fill="url(#Eg2)"/><rect x="733.3" y="825.4" width="378.8" height="378.4" fill="url(#Eg3)"/><rect x="733.3" y="825.4" width="378.8" height="378.4" fill="url(#Eg4)"/><rect x="733.3" y="825.4" width="378.8" height="378.4" fill="url(#Eg5)"/><rect x="733.3" y="825.4" width="378.8" height="378.4" fill="url(#Eg6)"/><rect x="733.3" y="825.4" width="378.8" height="378.4" fill="url(#Eg7)"/><rect x="733.3" y="825.4" width="378.8" height="378.4" fill="url(#Eg8)"/><rect x="733.3" y="825.4" width="378.8" height="378.4" fill="url(#Eg9)"/><rect x="733.3" y="825.4" width="378.8" height="378.4" fill="url(#Eg10)"/><rect x="733.3" y="825.4" width="378.8" height="378.4" fill="url(#Eg11)"/><rect x="733.3" y="825.4" width="378.8" height="378.4" fill="url(#Eg12)"/></g></g></g>
<g clip-path="url(#icD)"><g filter="url(#fmD)" style="isolation:isolate"><rect x="101.7" y="825.4" width="378.8" height="378.4" fill="#000"/><g style="mix-blend-mode:lighten"><rect x="101.7" y="825.4" width="378.8" height="378.4" fill="#800000"/><circle cx="291.10" cy="1014.60" r="198.87" fill="url(#Dg1)"/></g></g></g>
<g clip-path="url(#icC)"><g filter="url(#fmC)" style="isolation:isolate"><rect x="1364.8" y="62.1" width="378.8" height="378.4" fill="#000"/><g style="mix-blend-mode:lighten"><rect x="1364.8" y="62.1" width="378.8" height="378.4" fill="#800000"/><circle cx="1554.20" cy="251.30" r="287.48" fill="url(#Cg1)"/><rect x="1364.8" y="62.1" width="378.8" height="378.4" fill="url(#Cg2)"/></g><g style="mix-blend-mode:lighten"><rect x="1364.8" y="62.1" width="378.8" height="378.4" fill="#008000"/><circle cx="1490.17" cy="251.30" r="127.21" fill="url(#Cg3)"/><rect x="1364.8" y="62.1" width="378.8" height="378.4" fill="url(#Cg4)"/><rect x="1364.8" y="62.1" width="378.8" height="378.4" fill="url(#Cg5)"/><rect x="1364.8" y="62.1" width="378.8" height="378.4" fill="url(#Cg6)"/><rect x="1364.8" y="62.1" width="378.8" height="378.4" fill="url(#Cg7)"/><rect x="1364.8" y="62.1" width="378.8" height="378.4" fill="url(#Cg8)"/><rect x="1364.8" y="62.1" width="378.8" height="378.4" fill="url(#Cg9)"/><rect x="1364.8" y="62.1" width="378.8" height="378.4" fill="url(#Cg10)"/><rect x="1364.8" y="62.1" width="378.8" height="378.4" fill="url(#Cg11)"/><rect x="1364.8" y="62.1" width="378.8" height="378.4" fill="url(#Cg12)"/><rect x="1364.8" y="62.1" width="378.8" height="378.4" fill="url(#Cg13)"/></g></g></g>
<g clip-path="url(#icB)"><g filter="url(#fmB)" style="isolation:isolate"><rect x="733.3" y="62.1" width="378.8" height="378.4" fill="#000"/><g style="mix-blend-mode:lighten"><rect x="733.3" y="62.1" width="378.8" height="378.4" fill="#800000"/><circle cx="922.70" cy="251.30" r="193.74" fill="url(#Bg1)"/></g><g style="mix-blend-mode:lighten"><rect x="733.3" y="62.1" width="378.8" height="378.4" fill="#008000"/><circle cx="848.95" cy="251.30" r="117.50" fill="url(#Bg2)"/><rect x="733.3" y="62.1" width="378.8" height="378.4" fill="url(#Bg3)"/><rect x="733.3" y="62.1" width="378.8" height="378.4" fill="url(#Bg4)"/><rect x="733.3" y="62.1" width="378.8" height="378.4" fill="url(#Bg5)"/><rect x="733.3" y="62.1" width="378.8" height="378.4" fill="url(#Bg6)"/><rect x="733.3" y="62.1" width="378.8" height="378.4" fill="url(#Bg7)"/><rect x="733.3" y="62.1" width="378.8" height="378.4" fill="url(#Bg8)"/><rect x="733.3" y="62.1" width="378.8" height="378.4" fill="url(#Bg9)"/><rect x="733.3" y="62.1" width="378.8" height="378.4" fill="url(#Bg10)"/><rect x="733.3" y="62.1" width="378.8" height="378.4" fill="url(#Bg11)"/><rect x="733.3" y="62.1" width="378.8" height="378.4" fill="url(#Bg12)"/></g></g></g>
<g clip-path="url(#icA)"><g filter="url(#fmA)" style="isolation:isolate"><rect x="101.7" y="62.1" width="378.8" height="378.4" fill="#000"/><g style="mix-blend-mode:lighten"><rect x="101.7" y="62.1" width="378.8" height="378.4" fill="#800000"/><circle cx="291.10" cy="251.30" r="99.05" fill="url(#Ag1)"/></g><g style="mix-blend-mode:lighten"><rect x="101.7" y="62.1" width="378.8" height="378.4" fill="#008000"/><circle cx="207.64" cy="251.30" r="107.79" fill="url(#Ag2)"/><rect x="101.7" y="62.1" width="378.8" height="378.4" fill="url(#Ag3)"/><rect x="101.7" y="62.1" width="378.8" height="378.4" fill="url(#Ag4)"/><rect x="101.7" y="62.1" width="378.8" height="378.4" fill="url(#Ag5)"/><rect x="101.7" y="62.1" width="378.8" height="378.4" fill="url(#Ag6)"/><rect x="101.7" y="62.1" width="378.8" height="378.4" fill="url(#Ag7)"/><rect x="101.7" y="62.1" width="378.8" height="378.4" fill="url(#Ag8)"/><rect x="101.7" y="62.1" width="378.8" height="378.4" fill="url(#Ag9)"/><rect x="101.7" y="62.1" width="378.8" height="378.4" fill="url(#Ag10)"/></g></g></g>
<text x="13.0" y="38.9" font-size="32.5" text-anchor="start" font-family="'Liberation Sans',Arial,sans-serif" font-weight="bold">A</text>
<rect x="101.7" y="62.1" width="378.8" height="378.4" fill="none" stroke="#9a9a9a" stroke-width="1.4"/>
<text x="88.5" y="76.1" font-size="41" text-anchor="end" font-family="'Liberation Serif','DejaVu Serif',serif">20</text>
<text x="88.5" y="170.7" font-size="41" text-anchor="end" font-family="'Liberation Serif','DejaVu Serif',serif">10</text>
<text x="88.5" y="265.3" font-size="41" text-anchor="end" font-family="'Liberation Serif','DejaVu Serif',serif">0</text>
<text x="88.5" y="359.9" font-size="41" text-anchor="end" font-family="'Liberation Serif','DejaVu Serif',serif">-10</text>
<text x="88.5" y="454.5" font-size="41" text-anchor="end" font-family="'Liberation Serif','DejaVu Serif',serif">-20</text>
<rect x="492.2" y="62.1" width="23.5" height="378.4" fill="url(#cbA)" stroke="#000" stroke-width="1.4"/>
<line x1="511.7" y1="117.1" x2="515.7" y2="117.1" stroke="#000" stroke-width="1.4"/>
<text x="527.7" y="130.9" font-size="41" text-anchor="start" font-family="'Liberation Serif','DejaVu Serif',serif">2</text>
<line x1="511.7" y1="184.2" x2="515.7" y2="184.2" stroke="#000" stroke-width="1.4"/>
<text x="527.7" y="198.0" font-size="41" text-anchor="start" font-family="'Liberation Serif','DejaVu Serif',serif">1</text>
<line x1="511.7" y1="251.3" x2="515.7" y2="251.3" stroke="#000" stroke-width="1.4"/>
<text x="527.7" y="265.1" font-size="41" text-anchor="start" font-family="'Liberation Serif','DejaVu Serif',serif">0</text>
<line x1="511.7" y1="318.4" x2="515.7" y2="318.4" stroke="#000" stroke-width="1.4"/>
<text x="527.7" y="332.2" font-size="41" text-anchor="start" font-family="'Liberation Serif','DejaVu Serif',serif">-1</text>
<line x1="511.7" y1="385.5" x2="515.7" y2="385.5" stroke="#000" stroke-width="1.4"/>
<text x="527.7" y="399.3" font-size="41" text-anchor="start" font-family="'Liberation Serif','DejaVu Serif',serif">-2</text>
<text x="517.0" y="51.5" font-size="50" text-anchor="start" font-family="'Liberation Serif','DejaVu Serif',serif">×</text>
<text x="547.6" y="46.0" font-size="42" text-anchor="start" font-family="'Liberation Serif','DejaVu Serif',serif">10</text>
<text x="587.4" y="25.4" font-size="33" text-anchor="start" font-family="'Liberation Serif','DejaVu Serif',serif">-3</text>
<rect x="100.1" y="504.4" width="383.0" height="160.3" fill="none" stroke="#333" stroke-width="1.6"/>
<line x1="195.8" y1="504.4" x2="195.8" y2="508.4" stroke="#333" stroke-width="1.4"/>
<line x1="195.8" y1="664.7" x2="195.8" y2="660.7" stroke="#333" stroke-width="1.4"/>
<line x1="291.6" y1="504.4" x2="291.6" y2="508.4" stroke="#333" stroke-width="1.4"/>
<line x1="291.6" y1="664.7" x2="291.6" y2="660.7" stroke="#333" stroke-width="1.4"/>
<line x1="387.4" y1="504.4" x2="387.4" y2="508.4" stroke="#333" stroke-width="1.4"/>
<line x1="387.4" y1="664.7" x2="387.4" y2="660.7" stroke="#333" stroke-width="1.4"/>
<text x="86.3" y="517.7" font-size="41" text-anchor="end" font-family="'Liberation Serif','DejaVu Serif',serif">4</text>
<text x="86.3" y="597.8" font-size="41" text-anchor="end" font-family="'Liberation Serif','DejaVu Serif',serif">0</text>
<text x="86.3" y="678.0" font-size="41" text-anchor="end" font-family="'Liberation Serif','DejaVu Serif',serif">-4</text>
<text x="100.1" y="715.3" font-size="41" text-anchor="middle" font-family="'Liberation Serif','DejaVu Serif',serif">-20</text>
<text x="195.8" y="715.3" font-size="41" text-anchor="middle" font-family="'Liberation Serif','DejaVu Serif',serif">-10</text>
<text x="291.6" y="715.3" font-size="41" text-anchor="middle" font-family="'Liberation Serif','DejaVu Serif',serif">0</text>
<text x="387.4" y="715.3" font-size="41" text-anchor="middle" font-family="'Liberation Serif','DejaVu Serif',serif">10</text>
<text x="483.1" y="715.3" font-size="41" text-anchor="middle" font-family="'Liberation Serif','DejaVu Serif',serif">20</text>
<text x="101.9" y="501.9" font-size="50" text-anchor="start" font-family="'Liberation Serif','DejaVu Serif',serif">×</text>
<text x="132.7" y="495.7" font-size="42" text-anchor="start" font-family="'Liberation Serif','DejaVu Serif',serif">10</text>
<text x="172.1" y="475.8" font-size="33" text-anchor="start" font-family="'Liberation Serif','DejaVu Serif',serif">-3</text>
<text x="644.6" y="38.9" font-size="32.5" text-anchor="start" font-family="'Liberation Sans',Arial,sans-serif" font-weight="bold">B</text>
<rect x="733.3" y="62.1" width="378.8" height="378.4" fill="none" stroke="#9a9a9a" stroke-width="1.4"/>
<text x="720.1" y="76.1" font-size="41" text-anchor="end" font-family="'Liberation Serif','DejaVu Serif',serif">20</text>
<text x="720.1" y="170.7" font-size="41" text-anchor="end" font-family="'Liberation Serif','DejaVu Serif',serif">10</text>
<text x="720.1" y="265.3" font-size="41" text-anchor="end" font-family="'Liberation Serif','DejaVu Serif',serif">0</text>
<text x="720.1" y="359.9" font-size="41" text-anchor="end" font-family="'Liberation Serif','DejaVu Serif',serif">-10</text>
<text x="720.1" y="454.5" font-size="41" text-anchor="end" font-family="'Liberation Serif','DejaVu Serif',serif">-20</text>
<rect x="1123.8" y="62.1" width="23.5" height="378.4" fill="url(#cbB)" stroke="#000" stroke-width="1.4"/>
<line x1="1143.3" y1="74.5" x2="1147.3" y2="74.5" stroke="#000" stroke-width="1.4"/>
<text x="1159.3" y="88.3" font-size="41" text-anchor="start" font-family="'Liberation Serif','DejaVu Serif',serif">2</text>
<line x1="1143.3" y1="162.9" x2="1147.3" y2="162.9" stroke="#000" stroke-width="1.4"/>
<text x="1159.3" y="176.7" font-size="41" text-anchor="start" font-family="'Liberation Serif','DejaVu Serif',serif">1</text>
<line x1="1143.3" y1="251.3" x2="1147.3" y2="251.3" stroke="#000" stroke-width="1.4"/>
<text x="1159.3" y="265.1" font-size="41" text-anchor="start" font-family="'Liberation Serif','DejaVu Serif',serif">0</text>
<line x1="1143.3" y1="339.7" x2="1147.3" y2="339.7" stroke="#000" stroke-width="1.4"/>
<text x="1159.3" y="353.5" font-size="41" text-anchor="start" font-family="'Liberation Serif','DejaVu Serif',serif">-1</text>
<line x1="1143.3" y1="428.1" x2="1147.3" y2="428.1" stroke="#000" stroke-width="1.4"/>
<text x="1159.3" y="441.9" font-size="41" text-anchor="start" font-family="'Liberation Serif','DejaVu Serif',serif">-2</text>
<text x="1148.6" y="51.5" font-size="50" text-anchor="start" font-family="'Liberation Serif','DejaVu Serif',serif">×</text>
<text x="1179.2" y="46.0" font-size="42" text-anchor="start" font-family="'Liberation Serif','DejaVu Serif',serif">10</text>
<text x="1219.0" y="25.4" font-size="33" text-anchor="start" font-family="'Liberation Serif','DejaVu Serif',serif">-3</text>
<rect x="731.7" y="504.4" width="383.0" height="160.3" fill="none" stroke="#333" stroke-width="1.6"/>
<line x1="827.5" y1="504.4" x2="827.5" y2="508.4" stroke="#333" stroke-width="1.4"/>
<line x1="827.5" y1="664.7" x2="827.5" y2="660.7" stroke="#333" stroke-width="1.4"/>
<line x1="923.2" y1="504.4" x2="923.2" y2="508.4" stroke="#333" stroke-width="1.4"/>
<line x1="923.2" y1="664.7" x2="923.2" y2="660.7" stroke="#333" stroke-width="1.4"/>
<line x1="1019.0" y1="504.4" x2="1019.0" y2="508.4" stroke="#333" stroke-width="1.4"/>
<line x1="1019.0" y1="664.7" x2="1019.0" y2="660.7" stroke="#333" stroke-width="1.4"/>
<text x="717.9" y="517.7" font-size="41" text-anchor="end" font-family="'Liberation Serif','DejaVu Serif',serif">4</text>
<text x="717.9" y="597.8" font-size="41" text-anchor="end" font-family="'Liberation Serif','DejaVu Serif',serif">0</text>
<text x="717.9" y="678.0" font-size="41" text-anchor="end" font-family="'Liberation Serif','DejaVu Serif',serif">-4</text>
<text x="731.7" y="715.3" font-size="41" text-anchor="middle" font-family="'Liberation Serif','DejaVu Serif',serif">-20</text>
<text x="827.5" y="715.3" font-size="41" text-anchor="middle" font-family="'Liberation Serif','DejaVu Serif',serif">-10</text>
<text x="923.2" y="715.3" font-size="41" text-anchor="middle" font-family="'Liberation Serif','DejaVu Serif',serif">0</text>
<text x="1019.0" y="715.3" font-size="41" text-anchor="middle" font-family="'Liberation Serif','DejaVu Serif',serif">10</text>
<text x="1114.7" y="715.3" font-size="41" text-anchor="middle" font-family="'Liberation Serif','DejaVu Serif',serif">20</text>
<text x="733.5" y="501.9" font-size="50" text-anchor="start" font-family="'Liberation Serif','DejaVu Serif',serif">×</text>
<text x="764.3" y="495.7" font-size="42" text-anchor="start" font-family="'Liberation Serif','DejaVu Serif',serif">10</text>
<text x="803.7" y="475.8" font-size="33" text-anchor="start" font-family="'Liberation Serif','DejaVu Serif',serif">-3</text>
<text x="1276.1" y="38.9" font-size="32.5" text-anchor="start" font-family="'Liberation Sans',Arial,sans-serif" font-weight="bold">C</text>
<rect x="1364.8" y="62.1" width="378.8" height="378.4" fill="none" stroke="#9a9a9a" stroke-width="1.4"/>
<text x="1351.6" y="76.1" font-size="41" text-anchor="end" font-family="'Liberation Serif','DejaVu Serif',serif">20</text>
<text x="1351.6" y="170.7" font-size="41" text-anchor="end" font-family="'Liberation Serif','DejaVu Serif',serif">10</text>
<text x="1351.6" y="265.3" font-size="41" text-anchor="end" font-family="'Liberation Serif','DejaVu Serif',serif">0</text>
<text x="1351.6" y="359.9" font-size="41" text-anchor="end" font-family="'Liberation Serif','DejaVu Serif',serif">-10</text>
<text x="1351.6" y="454.5" font-size="41" text-anchor="end" font-family="'Liberation Serif','DejaVu Serif',serif">-20</text>
<rect x="1755.3" y="62.1" width="23.5" height="378.4" fill="url(#cbC)" stroke="#000" stroke-width="1.4"/>
<line x1="1774.8" y1="138.0" x2="1778.8" y2="138.0" stroke="#000" stroke-width="1.4"/>
<text x="1790.8" y="151.8" font-size="41" text-anchor="start" font-family="'Liberation Serif','DejaVu Serif',serif">1</text>
<line x1="1774.8" y1="251.3" x2="1778.8" y2="251.3" stroke="#000" stroke-width="1.4"/>
<text x="1790.8" y="265.1" font-size="41" text-anchor="start" font-family="'Liberation Serif','DejaVu Serif',serif">0</text>
<line x1="1774.8" y1="364.6" x2="1778.8" y2="364.6" stroke="#000" stroke-width="1.4"/>
<text x="1790.8" y="378.4" font-size="41" text-anchor="start" font-family="'Liberation Serif','DejaVu Serif',serif">-1</text>
<text x="1780.1" y="51.5" font-size="50" text-anchor="start" font-family="'Liberation Serif','DejaVu Serif',serif">×</text>
<text x="1810.7" y="46.0" font-size="42" text-anchor="start" font-family="'Liberation Serif','DejaVu Serif',serif">10</text>
<text x="1850.5" y="25.4" font-size="33" text-anchor="start" font-family="'Liberation Serif','DejaVu Serif',serif">-3</text>
<rect x="1363.2" y="504.4" width="383.0" height="160.3" fill="none" stroke="#333" stroke-width="1.6"/>
<line x1="1458.9" y1="504.4" x2="1458.9" y2="508.4" stroke="#333" stroke-width="1.4"/>
<line x1="1458.9" y1="664.7" x2="1458.9" y2="660.7" stroke="#333" stroke-width="1.4"/>
<line x1="1554.7" y1="504.4" x2="1554.7" y2="508.4" stroke="#333" stroke-width="1.4"/>
<line x1="1554.7" y1="664.7" x2="1554.7" y2="660.7" stroke="#333" stroke-width="1.4"/>
<line x1="1650.4" y1="504.4" x2="1650.4" y2="508.4" stroke="#333" stroke-width="1.4"/>
<line x1="1650.4" y1="664.7" x2="1650.4" y2="660.7" stroke="#333" stroke-width="1.4"/>
<text x="1349.4" y="517.7" font-size="41" text-anchor="end" font-family="'Liberation Serif','DejaVu Serif',serif">4</text>
<text x="1349.4" y="597.8" font-size="41" text-anchor="end" font-family="'Liberation Serif','DejaVu Serif',serif">0</text>
<text x="1349.4" y="678.0" font-size="41" text-anchor="end" font-family="'Liberation Serif','DejaVu Serif',serif">-4</text>
<text x="1363.2" y="715.3" font-size="41" text-anchor="middle" font-family="'Liberation Serif','DejaVu Serif',serif">-20</text>
<text x="1458.9" y="715.3" font-size="41" text-anchor="middle" font-family="'Liberation Serif','DejaVu Serif',serif">-10</text>
<text x="1554.7" y="715.3" font-size="41" text-anchor="middle" font-family="'Liberation Serif','DejaVu Serif',serif">0</text>
<text x="1650.4" y="715.3" font-size="41" text-anchor="middle" font-family="'Liberation Serif','DejaVu Serif',serif">10</text>
<text x="1746.2" y="715.3" font-size="41" text-anchor="middle" font-family="'Liberation Serif','DejaVu Serif',serif">20</text>
<text x="1365.0" y="501.9" font-size="50" text-anchor="start" font-family="'Liberation Serif','DejaVu Serif',serif">×</text>
<text x="1395.8" y="495.7" font-size="42" text-anchor="start" font-family="'Liberation Serif','DejaVu Serif',serif">10</text>
<text x="1435.2" y="475.8" font-size="33" text-anchor="start" font-family="'Liberation Serif','DejaVu Serif',serif">-3</text>
<text x="13.0" y="802.2" font-size="32.5" text-anchor="start" font-family="'Liberation Sans',Arial,sans-serif" font-weight="bold">D</text>
<rect x="101.7" y="825.4" width="378.8" height="378.4" fill="none" stroke="#9a9a9a" stroke-width="1.4"/>
<text x="88.5" y="839.4" font-size="41" text-anchor="end" font-family="'Liberation Serif','DejaVu Serif',serif">20</text>
<text x="88.5" y="934.0" font-size="41" text-anchor="end" font-family="'Liberation Serif','DejaVu Serif',serif">10</text>
<text x="88.5" y="1028.6" font-size="41" text-anchor="end" font-family="'Liberation Serif','DejaVu Serif',serif">0</text>
<text x="88.5" y="1123.2" font-size="41" text-anchor="end" font-family="'Liberation Serif','DejaVu Serif',serif">-10</text>
<text x="88.5" y="1217.8" font-size="41" text-anchor="end" font-family="'Liberation Serif','DejaVu Serif',serif">-20</text>
<rect x="492.2" y="825.4" width="23.5" height="378.4" fill="url(#cbD)" stroke="#000" stroke-width="1.4"/>
<line x1="511.7" y1="910.5" x2="515.7" y2="910.5" stroke="#000" stroke-width="1.4"/>
<text x="527.7" y="924.3" font-size="41" text-anchor="start" font-family="'Liberation Serif','DejaVu Serif',serif">5</text>
<line x1="511.7" y1="1014.6" x2="515.7" y2="1014.6" stroke="#000" stroke-width="1.4"/>
<text x="527.7" y="1028.4" font-size="41" text-anchor="start" font-family="'Liberation Serif','DejaVu Serif',serif">0</text>
<line x1="511.7" y1="1118.7" x2="515.7" y2="1118.7" stroke="#000" stroke-width="1.4"/>
<text x="527.7" y="1132.5" font-size="41" text-anchor="start" font-family="'Liberation Serif','DejaVu Serif',serif">-5</text>
<text x="517.0" y="814.8" font-size="50" text-anchor="start" font-family="'Liberation Serif','DejaVu Serif',serif">×</text>
<text x="547.6" y="809.3" font-size="42" text-anchor="start" font-family="'Liberation Serif','DejaVu Serif',serif">10</text>
<text x="587.4" y="788.7" font-size="33" text-anchor="start" font-family="'Liberation Serif','DejaVu Serif',serif">-4</text>
<rect x="100.1" y="1267.7" width="383.0" height="160.3" fill="none" stroke="#333" stroke-width="1.6"/>
<line x1="195.8" y1="1267.7" x2="195.8" y2="1271.7" stroke="#333" stroke-width="1.4"/>
<line x1="195.8" y1="1428.0" x2="195.8" y2="1424.0" stroke="#333" stroke-width="1.4"/>
<line x1="291.6" y1="1267.7" x2="291.6" y2="1271.7" stroke="#333" stroke-width="1.4"/>
<line x1="291.6" y1="1428.0" x2="291.6" y2="1424.0" stroke="#333" stroke-width="1.4"/>
<line x1="387.4" y1="1267.7" x2="387.4" y2="1271.7" stroke="#333" stroke-width="1.4"/>
<line x1="387.4" y1="1428.0" x2="387.4" y2="1424.0" stroke="#333" stroke-width="1.4"/>
<text x="86.3" y="1281.0" font-size="41" text-anchor="end" font-family="'Liberation Serif','DejaVu Serif',serif">1</text>
<text x="86.3" y="1361.1" font-size="41" text-anchor="end" font-family="'Liberation Serif','DejaVu Serif',serif">0</text>
<text x="86.3" y="1441.3" font-size="41" text-anchor="end" font-family="'Liberation Serif','DejaVu Serif',serif">-1</text>
<text x="100.1" y="1478.6" font-size="41" text-anchor="middle" font-family="'Liberation Serif','DejaVu Serif',serif">-20</text>
<text x="195.8" y="1478.6" font-size="41" text-anchor="middle" font-family="'Liberation Serif','DejaVu Serif',serif">-10</text>
<text x="291.6" y="1478.6" font-size="41" text-anchor="middle" font-family="'Liberation Serif','DejaVu Serif',serif">0</text>
<text x="387.4" y="1478.6" font-size="41" text-anchor="middle" font-family="'Liberation Serif','DejaVu Serif',serif">10</text>
<text x="483.1" y="1478.6" font-size="41" text-anchor="middle" font-family="'Liberation Serif','DejaVu Serif',serif">20</text>
<text x="101.9" y="1265.2" font-size="50" text-anchor="start" font-family="'Liberation Serif','DejaVu Serif',serif">×</text>
<text x="132.7" y="1259.0" font-size="42" text-anchor="start" font-family="'Liberation Serif','DejaVu Serif',serif">10</text>
<text x="172.1" y="1239.1" font-size="33" text-anchor="start" font-family="'Liberation Serif','DejaVu Serif',serif">-3</text>
<text x="644.6" y="802.2" font-size="32.5" text-anchor="start" font-family="'Liberation Sans',Arial,sans-serif" font-weight="bold">E</text>
<rect x="733.3" y="825.4" width="378.8" height="378.4" fill="none" stroke="#9a9a9a" stroke-width="1.4"/>
<text x="720.1" y="839.4" font-size="41" text-anchor="end" font-family="'Liberation Serif','DejaVu Serif',serif">20</text>
<text x="720.1" y="934.0" font-size="41" text-anchor="end" font-family="'Liberation Serif','DejaVu Serif',serif">10</text>
<text x="720.1" y="1028.6" font-size="41" text-anchor="end" font-family="'Liberation Serif','DejaVu Serif',serif">0</text>
<text x="720.1" y="1123.2" font-size="41" text-anchor="end" font-family="'Liberation Serif','DejaVu Serif',serif">-10</text>
<text x="720.1" y="1217.8" font-size="41" text-anchor="end" font-family="'Liberation Serif','DejaVu Serif',serif">-20</text>
<rect x="1123.8" y="825.4" width="23.5" height="378.4" fill="url(#cbE)" stroke="#000" stroke-width="1.4"/>
<line x1="1143.3" y1="899.6" x2="1147.3" y2="899.6" stroke="#000" stroke-width="1.4"/>
<text x="1159.3" y="913.4" font-size="41" text-anchor="start" font-family="'Liberation Serif','DejaVu Serif',serif">2</text>
<line x1="1143.3" y1="1014.6" x2="1147.3" y2="1014.6" stroke="#000" stroke-width="1.4"/>
<text x="1159.3" y="1028.4" font-size="41" text-anchor="start" font-family="'Liberation Serif','DejaVu Serif',serif">0</text>
<line x1="1143.3" y1="1129.6" x2="1147.3" y2="1129.6" stroke="#000" stroke-width="1.4"/>
<text x="1159.3" y="1143.4" font-size="41" text-anchor="start" font-family="'Liberation Serif','DejaVu Serif',serif">-2</text>
<text x="1148.6" y="814.8" font-size="50" text-anchor="start" font-family="'Liberation Serif','DejaVu Serif',serif">×</text>
<text x="1179.2" y="809.3" font-size="42" text-anchor="start" font-family="'Liberation Serif','DejaVu Serif',serif">10</text>
<text x="1219.0" y="788.7" font-size="33" text-anchor="start" font-family="'Liberation Serif','DejaVu Serif',serif">-3</text>
<rect x="731.7" y="1267.7" width="383.0" height="160.3" fill="none" stroke="#333" stroke-width="1.6"/>
<line x1="827.5" y1="1267.7" x2="827.5" y2="1271.7" stroke="#333" stroke-width="1.4"/>
<line x1="827.5" y1="1428.0" x2="827.5" y2="1424.0" stroke="#333" stroke-width="1.4"/>
<line x1="923.2" y1="1267.7" x2="923.2" y2="1271.7" stroke="#333" stroke-width="1.4"/>
<line x1="923.2" y1="1428.0" x2="923.2" y2="1424.0" stroke="#333" stroke-width="1.4"/>
<line x1="1019.0" y1="1267.7" x2="1019.0" y2="1271.7" stroke="#333" stroke-width="1.4"/>
<line x1="1019.0" y1="1428.0" x2="1019.0" y2="1424.0" stroke="#333" stroke-width="1.4"/>
<text x="717.9" y="1281.0" font-size="41" text-anchor="end" font-family="'Liberation Serif','DejaVu Serif',serif">4</text>
<text x="717.9" y="1361.1" font-size="41" text-anchor="end" font-family="'Liberation Serif','DejaVu Serif',serif">0</text>
<text x="717.9" y="1441.3" font-size="41" text-anchor="end" font-family="'Liberation Serif','DejaVu Serif',serif">-4</text>
<text x="731.7" y="1478.6" font-size="41" text-anchor="middle" font-family="'Liberation Serif','DejaVu Serif',serif">-20</text>
<text x="827.5" y="1478.6" font-size="41" text-anchor="middle" font-family="'Liberation Serif','DejaVu Serif',serif">-10</text>
<text x="923.2" y="1478.6" font-size="41" text-anchor="middle" font-family="'Liberation Serif','DejaVu Serif',serif">0</text>
<text x="1019.0" y="1478.6" font-size="41" text-anchor="middle" font-family="'Liberation Serif','DejaVu Serif',serif">10</text>
<text x="1114.7" y="1478.6" font-size="41" text-anchor="middle" font-family="'Liberation Serif','DejaVu Serif',serif">20</text>
<text x="733.5" y="1265.2" font-size="50" text-anchor="start" font-family="'Liberation Serif','DejaVu Serif',serif">×</text>
<text x="764.3" y="1259.0" font-size="42" text-anchor="start" font-family="'Liberation Serif','DejaVu Serif',serif">10</text>
<text x="803.7" y="1239.1" font-size="33" text-anchor="start" font-family="'Liberation Serif','DejaVu Serif',serif">-3</text>
<text x="1276.1" y="802.2" font-size="32.5" text-anchor="start" font-family="'Liberation Sans',Arial,sans-serif" font-weight="bold">F</text>
<rect x="1364.8" y="825.4" width="378.8" height="378.4" fill="none" stroke="#9a9a9a" stroke-width="1.4"/>
<text x="1351.6" y="839.4" font-size="41" text-anchor="end" font-family="'Liberation Serif','DejaVu Serif',serif">20</text>
<text x="1351.6" y="934.0" font-size="41" text-anchor="end" font-family="'Liberation Serif','DejaVu Serif',serif">10</text>
<text x="1351.6" y="1028.6" font-size="41" text-anchor="end" font-family="'Liberation Serif','DejaVu Serif',serif">0</text>
<text x="1351.6" y="1123.2" font-size="41" text-anchor="end" font-family="'Liberation Serif','DejaVu Serif',serif">-10</text>
<text x="1351.6" y="1217.8" font-size="41" text-anchor="end" font-family="'Liberation Serif','DejaVu Serif',serif">-20</text>
<rect x="1755.3" y="825.4" width="23.5" height="378.4" fill="url(#cbF)" stroke="#000" stroke-width="1.4"/>
<line x1="1774.8" y1="882.7" x2="1778.8" y2="882.7" stroke="#000" stroke-width="1.4"/>
<text x="1790.8" y="896.5" font-size="41" text-anchor="start" font-family="'Liberation Serif','DejaVu Serif',serif">5</text>
<line x1="1774.8" y1="1014.6" x2="1778.8" y2="1014.6" stroke="#000" stroke-width="1.4"/>
<text x="1790.8" y="1028.4" font-size="41" text-anchor="start" font-family="'Liberation Serif','DejaVu Serif',serif">0</text>
<line x1="1774.8" y1="1146.5" x2="1778.8" y2="1146.5" stroke="#000" stroke-width="1.4"/>
<text x="1790.8" y="1160.3" font-size="41" text-anchor="start" font-family="'Liberation Serif','DejaVu Serif',serif">-5</text>
<text x="1780.1" y="814.8" font-size="50" text-anchor="start" font-family="'Liberation Serif','DejaVu Serif',serif">×</text>
<text x="1810.7" y="809.3" font-size="42" text-anchor="start" font-family="'Liberation Serif','DejaVu Serif',serif">10</text>
<text x="1850.5" y="788.7" font-size="33" text-anchor="start" font-family="'Liberation Serif','DejaVu Serif',serif">-3</text>
<rect x="1363.2" y="1267.7" width="383.0" height="160.3" fill="none" stroke="#333" stroke-width="1.6"/>
<line x1="1458.9" y1="1267.7" x2="1458.9" y2="1271.7" stroke="#333" stroke-width="1.4"/>
<line x1="1458.9" y1="1428.0" x2="1458.9" y2="1424.0" stroke="#333" stroke-width="1.4"/>
<line x1="1554.7" y1="1267.7" x2="1554.7" y2="1271.7" stroke="#333" stroke-width="1.4"/>
<line x1="1554.7" y1="1428.0" x2="1554.7" y2="1424.0" stroke="#333" stroke-width="1.4"/>
<line x1="1650.4" y1="1267.7" x2="1650.4" y2="1271.7" stroke="#333" stroke-width="1.4"/>
<line x1="1650.4" y1="1428.0" x2="1650.4" y2="1424.0" stroke="#333" stroke-width="1.4"/>
<text x="1349.4" y="1281.0" font-size="41" text-anchor="end" font-family="'Liberation Serif','DejaVu Serif',serif">8</text>
<text x="1349.4" y="1361.1" font-size="41" text-anchor="end" font-family="'Liberation Serif','DejaVu Serif',serif">0</text>
<text x="1349.4" y="1441.3" font-size="41" text-anchor="end" font-family="'Liberation Serif','DejaVu Serif',serif">-8</text>
<text x="1363.2" y="1478.6" font-size="41" text-anchor="middle" font-family="'Liberation Serif','DejaVu Serif',serif">-20</text>
<text x="1458.9" y="1478.6" font-size="41" text-anchor="middle" font-family="'Liberation Serif','DejaVu Serif',serif">-10</text>
<text x="1554.7" y="1478.6" font-size="41" text-anchor="middle" font-family="'Liberation Serif','DejaVu Serif',serif">0</text>
<text x="1650.4" y="1478.6" font-size="41" text-anchor="middle" font-family="'Liberation Serif','DejaVu Serif',serif">10</text>
<text x="1746.2" y="1478.6" font-size="41" text-anchor="middle" font-family="'Liberation Serif','DejaVu Serif',serif">20</text>
<text x="1365.0" y="1265.2" font-size="50" text-anchor="start" font-family="'Liberation Serif','DejaVu Serif',serif">×</text>
<text x="1395.8" y="1259.0" font-size="42" text-anchor="start" font-family="'Liberation Serif','DejaVu Serif',serif">10</text>
<text x="1435.2" y="1239.1" font-size="33" text-anchor="start" font-family="'Liberation Serif','DejaVu Serif',serif">-3</text>
<text x="110.4" y="95.5" font-size="42" font-family="'Liberation Serif','DejaVu Serif',serif" font-style="italic" text-anchor="start">t</text>
<text x="127.2" y="100.0" font-size="46.3" font-family="'DejaVu Sans',sans-serif" font-weight="200">/</text>
<text x="144.0" y="95.5" font-size="40" font-family="'Liberation Serif','DejaVu Serif',serif" font-style="italic" text-anchor="start">τ</text>
<text x="161.0" y="101.8" font-size="28" font-family="'Liberation Serif','DejaVu Serif',serif" font-style="italic" text-anchor="start">c</text>
<text x="185.8" y="100.0" font-size="48" font-family="'Liberation Serif','DejaVu Serif',serif" text-anchor="start">=</text>
<text x="263.8" y="95.4" font-size="40" font-family="'Liberation Serif','DejaVu Serif',serif" text-anchor="end">10</text>
<text x="388.2" y="107.7" font-size="31" font-family="'Liberation Serif','DejaVu Serif',serif" font-style="italic" text-anchor="start">λ</text>
<text x="404.8" y="111.8" font-size="23" font-family="'Liberation Serif','DejaVu Serif',serif" font-style="italic" text-anchor="start">B</text>
<text x="423.7" y="111.2" font-size="36.2" font-family="'DejaVu Sans',sans-serif" font-weight="200">/</text>
<text x="440.6" y="107.7" font-size="31" font-family="'Liberation Serif','DejaVu Serif',serif" font-style="italic" text-anchor="start">λ</text>
<text x="455.2" y="112.7" font-size="22" font-family="'Liberation Serif','DejaVu Serif',serif" font-style="italic" text-anchor="start">c</text>
<rect x="424.3" y="68.2" width="46.4" height="7.1" fill="#b0b0b0"/>
<text x="742.0" y="95.5" font-size="42" font-family="'Liberation Serif','DejaVu Serif',serif" font-style="italic" text-anchor="start">t</text>
<text x="758.8" y="100.0" font-size="46.3" font-family="'DejaVu Sans',sans-serif" font-weight="200">/</text>
<text x="775.6" y="95.5" font-size="40" font-family="'Liberation Serif','DejaVu Serif',serif" font-style="italic" text-anchor="start">τ</text>
<text x="792.6" y="101.8" font-size="28" font-family="'Liberation Serif','DejaVu Serif',serif" font-style="italic" text-anchor="start">c</text>
<text x="817.4" y="100.0" font-size="48" font-family="'Liberation Serif','DejaVu Serif',serif" text-anchor="start">=</text>
<text x="895.4" y="95.4" font-size="40" font-family="'Liberation Serif','DejaVu Serif',serif" text-anchor="end">20</text>
<rect x="1055.9" y="68.2" width="46.4" height="7.1" fill="#b0b0b0"/>
<text x="1373.5" y="95.5" font-size="42" font-family="'Liberation Serif','DejaVu Serif',serif" font-style="italic" text-anchor="start">t</text>
<text x="1390.3" y="100.0" font-size="46.3" font-family="'DejaVu Sans',sans-serif" font-weight="200">/</text>
<text x="1407.1" y="95.5" font-size="40" font-family="'Liberation Serif','DejaVu Serif',serif" font-style="italic" text-anchor="start">τ</text>
<text x="1424.1" y="101.8" font-size="28" font-family="'Liberation Serif','DejaVu Serif',serif" font-style="italic" text-anchor="start">c</text>
<text x="1448.9" y="100.0" font-size="48" font-family="'Liberation Serif','DejaVu Serif',serif" text-anchor="start">=</text>
<text x="1526.9" y="95.4" font-size="40" font-family="'Liberation Serif','DejaVu Serif',serif" text-anchor="end">30</text>
<rect x="1687.4" y="68.2" width="46.4" height="7.1" fill="#b0b0b0"/>
<text x="111.8" y="858.9" font-size="38" font-family="'Liberation Serif','DejaVu Serif',serif" font-style="italic" text-anchor="start">v</text>
<text x="133.6" y="863.2" font-size="45.6" font-family="'DejaVu Sans',sans-serif" font-weight="200">/</text>
<text x="151.7" y="858.9" font-size="36" font-family="'Liberation Serif','DejaVu Serif',serif" font-style="italic" text-anchor="start">c</text>
<text x="178.4" y="863.5" font-size="48" font-family="'Liberation Serif','DejaVu Serif',serif" text-anchor="start">=</text>
<text x="219.0" y="859.6" font-size="41" font-family="'Liberation Serif','DejaVu Serif',serif" text-anchor="start">0</text>
<text x="743.4" y="858.9" font-size="38" font-family="'Liberation Serif','DejaVu Serif',serif" font-style="italic" text-anchor="start">v</text>
<text x="765.2" y="863.2" font-size="45.6" font-family="'DejaVu Sans',sans-serif" font-weight="200">/</text>
<text x="783.3" y="858.9" font-size="36" font-family="'Liberation Serif','DejaVu Serif',serif" font-style="italic" text-anchor="start">c</text>
<text x="810.0" y="863.5" font-size="48" font-family="'Liberation Serif','DejaVu Serif',serif" text-anchor="start">=</text>
<text x="850.6" y="859.6" font-size="41" font-family="'Liberation Serif','DejaVu Serif',serif" text-anchor="start">0.3</text>
<rect x="1072.2" y="831.5" width="30.1" height="7.1" fill="#b0b0b0"/>
<text x="1374.9" y="858.9" font-size="38" font-family="'Liberation Serif','DejaVu Serif',serif" font-style="italic" text-anchor="start">v</text>
<text x="1396.7" y="863.2" font-size="45.6" font-family="'DejaVu Sans',sans-serif" font-weight="200">/</text>
<text x="1414.8" y="858.9" font-size="36" font-family="'Liberation Serif','DejaVu Serif',serif" font-style="italic" text-anchor="start">c</text>
<text x="1441.5" y="863.5" font-size="48" font-family="'Liberation Serif','DejaVu Serif',serif" text-anchor="start">=</text>
<text x="1482.1" y="859.6" font-size="41" font-family="'Liberation Serif','DejaVu Serif',serif" text-anchor="start">0.6</text>
<rect x="1721.2" y="831.5" width="12.6" height="7.1" fill="#b0b0b0"/>
<text x="15.9" y="214.9" font-size="44" text-anchor="start" font-family="'Liberation Serif','DejaVu Serif',serif" font-style="italic">y</text>
<line x1="2.5" y1="234.9" x2="45.6" y2="234.9" stroke="#000" stroke-width="2.1"/>
<text x="6.0" y="278.0" font-size="45" text-anchor="start" font-family="'Liberation Serif','DejaVu Serif',serif" font-style="italic">λ</text>
<text x="29.6" y="284.8" font-size="31" text-anchor="start" font-family="'Liberation Serif','DejaVu Serif',serif" font-style="italic">c</text>
<text x="16.9" y="543.9" font-size="45" text-anchor="start" font-family="'Liberation Serif','DejaVu Serif',serif" font-style="italic">ϕ</text>
<line x1="6.6" y1="563.3" x2="52.4" y2="563.3" stroke="#000" stroke-width="2.1"/>
<text x="7.5" y="606.4" font-size="45" text-anchor="start" font-family="'Liberation Serif','DejaVu Serif',serif" font-style="italic">ϕ</text>
<text x="34.0" y="613.8" font-size="34" text-anchor="start" font-family="'Liberation Serif','DejaVu Serif',serif">0</text>
<text x="15.9" y="978.2" font-size="44" text-anchor="start" font-family="'Liberation Serif','DejaVu Serif',serif" font-style="italic">y</text>
<line x1="2.5" y1="998.2" x2="45.6" y2="998.2" stroke="#000" stroke-width="2.1"/>
<text x="6.0" y="1041.3" font-size="45" text-anchor="start" font-family="'Liberation Serif','DejaVu Serif',serif" font-style="italic">λ</text>
<text x="29.6" y="1048.1" font-size="31" text-anchor="start" font-family="'Liberation Serif','DejaVu Serif',serif" font-style="italic">c</text>
<text x="16.9" y="1307.2" font-size="45" text-anchor="start" font-family="'Liberation Serif','DejaVu Serif',serif" font-style="italic">ϕ</text>
<line x1="6.6" y1="1326.6" x2="52.4" y2="1326.6" stroke="#000" stroke-width="2.1"/>
<text x="7.5" y="1369.7" font-size="45" text-anchor="start" font-family="'Liberation Serif','DejaVu Serif',serif" font-style="italic">ϕ</text>
<text x="34.0" y="1377.1" font-size="34" text-anchor="start" font-family="'Liberation Serif','DejaVu Serif',serif">0</text>
<text x="247.4" y="1528.9" font-size="46" text-anchor="start" font-family="'Liberation Serif','DejaVu Serif',serif" font-style="italic">x</text>
<text x="273.3" y="1534.2" font-size="55" font-family="'DejaVu Sans',sans-serif" font-weight="200">/</text>
<text x="298.0" y="1528.6" font-size="45" text-anchor="start" font-family="'Liberation Serif','DejaVu Serif',serif" font-style="italic">λ</text>
<text x="321.2" y="1536.2" font-size="32" text-anchor="start" font-family="'Liberation Serif','DejaVu Serif',serif" font-style="italic">c</text>
<text x="879.0" y="1528.9" font-size="46" text-anchor="start" font-family="'Liberation Serif','DejaVu Serif',serif" font-style="italic">x</text>
<text x="904.9" y="1534.2" font-size="55" font-family="'DejaVu Sans',sans-serif" font-weight="200">/</text>
<text x="929.6" y="1528.6" font-size="45" text-anchor="start" font-family="'Liberation Serif','DejaVu Serif',serif" font-style="italic">λ</text>
<text x="952.8" y="1536.2" font-size="32" text-anchor="start" font-family="'Liberation Serif','DejaVu Serif',serif" font-style="italic">c</text>
<text x="1510.5" y="1528.9" font-size="46" text-anchor="start" font-family="'Liberation Serif','DejaVu Serif',serif" font-style="italic">x</text>
<text x="1536.4" y="1534.2" font-size="55" font-family="'DejaVu Sans',sans-serif" font-weight="200">/</text>
<text x="1561.1" y="1528.6" font-size="45" text-anchor="start" font-family="'Liberation Serif','DejaVu Serif',serif" font-style="italic">λ</text>
<text x="1584.3" y="1536.2" font-size="32" text-anchor="start" font-family="'Liberation Serif','DejaVu Serif',serif" font-style="italic">c</text>
<path d="M100.1,584.6 205.1,584.6 209.1,584.8 211.6,585.4 212.6,585.0 214.6,582.7 215.1,582.4 215.6,582.3 216.1,582.8 216.6,583.8 218.6,589.2 219.1,589.9 219.6,589.9 220.1,588.6 222.1,577.4 222.6,575.1 223.1,573.8 223.6,574.0 224.1,575.7 227.1,596.9 227.6,598.9 228.1,599.4 228.6,598.5 229.6,593.7 232.1,576.2 232.6,573.8 233.1,572.4 233.6,572.3 234.1,573.0 234.6,574.5 235.6,579.3 238.6,599.2 239.6,604.7 240.6,608.1 241.1,608.7 241.6,608.4 242.1,607.4 242.6,605.8 243.6,600.8 247.6,570.9 249.1,561.7 250.1,558.0 250.6,557.1 251.1,557.1 251.6,557.8 252.1,559.4 253.1,564.2 256.6,589.8 260.1,613.0 261.1,617.7 261.6,618.7 262.1,618.6 262.6,617.4 263.1,615.4 264.6,607.3 265.6,602.9 266.1,601.9 267.6,600.5 268.1,599.8 268.6,597.8 271.6,573.5 272.1,571.7 272.6,571.3 275.1,570.7 275.6,570.4 276.1,568.8 276.6,566.1 278.1,556.1 278.6,553.5 279.1,552.1 279.6,552.2 281.6,558.2 282.1,558.6 282.6,557.8 283.1,556.0 285.1,546.8 285.6,545.6 286.1,545.5 286.6,546.7 287.1,548.8 288.6,556.2 289.1,557.5 289.6,557.7 290.1,556.2 292.1,545.0 292.6,543.8 293.1,544.5 293.6,546.9 295.1,557.0 295.6,558.8 296.1,558.7 296.6,556.9 298.6,545.0 299.1,543.5 299.6,543.8 300.1,546.1 302.1,561.5 302.6,563.4 303.1,563.0 303.6,560.0 304.1,555.0 306.1,531.1 306.6,528.1 307.1,527.9 307.6,531.6 308.1,538.6 310.1,578.6 312.1,608.3 312.6,613.8 313.1,616.9 313.6,617.1 314.6,615.6 316.6,611.4 317.1,611.0 317.6,611.1 319.6,612.4 320.1,612.6 320.6,612.5 321.1,612.0 322.1,609.7 323.1,606.1 324.1,601.4 328.1,578.2 329.6,570.6 331.1,565.2 332.1,563.4 332.6,563.2 333.1,563.6 333.6,564.6 334.6,568.3 339.1,594.9 340.1,598.9 340.6,600.2 341.1,600.8 341.6,600.8 342.1,600.0 342.6,598.6 343.6,594.6 346.6,578.7 347.6,574.9 348.1,573.8 348.6,573.3 349.1,573.6 350.1,576.1 353.1,589.6 354.1,592.1 354.6,592.4 355.1,591.9 355.6,590.9 358.6,581.1 359.1,580.2 359.6,580.0 360.1,580.3 360.6,581.0 363.1,585.9 363.6,586.6 364.1,586.9 364.6,586.8 365.1,586.4 367.1,584.0 368.1,583.4 369.1,583.7 371.6,585.6 372.6,585.8 374.6,584.5 375.6,584.2 380.1,584.6 483.1,584.6" fill="none" stroke="#0000ff" stroke-width="2.7" stroke-linejoin="round" clip-path="url(#lcA)"/>
<circle cx="310.8" cy="586.6" r="4.6" fill="#000"/>
<rect x="425.7" y="516.9" width="46.9" height="7" fill="#b0b0b0"/>
<path d="M731.7,584.8 753.2,584.8 760.2,585.0 763.7,584.1 764.7,584.3 767.2,585.8 767.7,585.7 768.2,585.4 769.7,583.9 770.7,583.4 771.2,583.6 771.7,584.1 773.7,586.8 774.2,587.0 774.7,586.7 775.2,586.1 777.2,582.0 777.7,581.4 778.2,581.2 778.7,581.8 779.2,582.9 781.2,589.0 781.7,589.8 782.2,589.8 782.7,588.9 783.2,587.3 784.7,580.9 785.2,579.3 785.7,578.4 786.2,578.5 786.7,579.5 788.7,587.6 789.7,590.6 790.2,590.9 790.7,590.4 791.2,589.4 793.7,582.5 794.2,581.8 794.7,581.7 797.2,581.2 797.7,581.5 798.2,582.4 801.2,591.8 801.7,592.9 802.2,593.4 802.7,593.3 803.2,592.2 806.2,578.0 806.7,576.4 807.2,575.7 807.7,575.9 808.7,577.5 814.2,592.9 815.2,594.6 815.7,594.8 816.2,594.3 816.7,593.0 817.7,588.5 819.7,577.8 820.7,574.5 821.2,574.0 821.7,574.2 822.7,575.3 823.7,577.2 825.7,582.0 828.7,595.1 829.7,598.1 830.2,598.7 830.7,598.5 831.7,596.0 834.7,583.1 837.2,575.6 838.7,571.9 839.7,570.5 840.2,570.2 840.7,570.6 841.2,572.0 843.2,582.3 844.2,586.3 846.7,590.7 849.7,599.9 850.2,600.9 850.7,601.2 851.2,600.7 851.7,599.3 854.2,588.6 855.2,586.7 857.2,584.4 857.7,583.1 860.2,571.0 860.7,569.2 861.2,568.3 861.7,568.3 862.2,569.0 864.2,573.2 864.7,573.4 866.7,572.1 867.2,572.2 868.2,573.8 869.2,576.8 872.2,588.1 875.2,597.1 876.7,601.0 877.7,602.5 878.2,602.9 878.7,602.8 879.2,602.1 880.7,598.8 881.2,598.0 881.7,597.7 882.2,598.0 884.2,601.4 884.7,601.6 885.2,600.9 888.2,589.4 888.7,588.7 889.2,588.8 890.7,590.3 891.2,590.6 891.7,590.4 892.7,587.5 894.2,580.5 895.2,577.3 895.7,577.0 896.2,577.4 897.7,579.6 898.2,579.9 898.7,579.5 899.7,576.7 901.2,571.1 901.7,569.7 902.2,569.0 902.7,569.0 903.2,569.7 904.7,572.9 905.2,573.6 905.7,573.8 906.2,573.1 906.7,571.8 908.2,566.7 908.7,565.5 909.2,565.0 909.7,565.5 910.2,566.7 911.7,571.6 912.2,572.4 912.7,572.3 913.2,571.4 915.2,564.5 915.7,563.6 916.2,563.5 916.7,564.5 918.7,571.9 919.2,572.5 919.7,572.0 920.2,570.7 922.2,563.8 922.7,563.1 923.2,563.5 923.7,565.0 925.2,571.3 925.7,572.6 926.2,572.7 926.7,571.8 927.2,570.1 928.7,564.0 929.2,562.8 929.7,562.4 930.2,563.3 930.7,565.0 932.2,571.6 932.7,573.0 933.2,573.4 933.7,572.5 934.2,570.7 935.7,564.3 936.2,563.2 936.7,563.4 937.2,564.9 939.2,575.2 939.7,576.7 940.2,576.9 940.7,575.6 942.7,566.4 943.2,565.7 943.7,566.7 944.2,569.3 946.2,583.1 946.7,584.1 947.2,583.3 947.7,581.4 949.2,573.6 949.7,572.1 950.2,572.0 950.7,574.1 951.2,577.7 952.7,590.7 953.2,593.1 953.7,593.4 954.2,591.1 954.7,586.8 956.7,563.0 957.2,558.7 957.7,556.4 958.2,557.3 958.7,563.5 960.7,604.4 962.7,624.1 963.2,626.6 963.7,627.3 964.2,626.5 965.2,622.3 967.7,605.4 968.7,599.9 970.7,593.4 974.2,583.2 976.7,577.2 978.2,574.5 979.2,573.1 980.7,571.7 981.7,571.2 982.7,571.4 983.2,571.7 984.7,573.8 986.7,578.5 991.7,592.5 992.7,594.5 993.7,596.1 994.7,596.9 995.2,597.0 996.2,596.5 997.7,594.0 999.2,590.1 1002.2,581.0 1003.7,577.2 1005.2,574.8 1005.7,574.5 1006.2,574.4 1006.7,574.6 1007.2,575.2 1008.2,577.1 1012.2,589.1 1013.2,591.6 1014.2,593.3 1014.7,593.7 1015.2,593.8 1015.7,593.5 1016.2,593.0 1017.2,591.0 1020.7,580.9 1021.7,578.6 1022.7,577.3 1023.2,577.1 1023.7,577.3 1024.7,578.5 1025.7,580.7 1028.7,588.6 1029.7,590.6 1030.7,591.5 1031.2,591.4 1032.2,590.3 1036.2,580.8 1037.2,579.5 1037.7,579.3 1038.2,579.5 1039.2,580.7 1042.2,587.3 1043.2,588.9 1043.7,589.2 1044.2,589.3 1045.2,588.3 1048.2,582.3 1049.2,581.2 1049.7,581.1 1050.7,582.1 1053.2,586.5 1054.2,587.5 1054.7,587.4 1055.2,587.2 1058.2,583.2 1059.2,582.5 1059.7,582.6 1060.2,582.8 1062.7,585.9 1063.7,586.6 1064.7,586.3 1067.2,583.7 1068.2,583.4 1069.2,584.0 1071.2,585.8 1072.2,586.1 1073.2,585.8 1075.2,584.5 1076.2,584.3 1077.2,584.5 1079.2,585.5 1080.2,585.7 1084.2,584.8 1113.7,584.8" fill="none" stroke="#0000ff" stroke-width="2.7" stroke-linejoin="round" clip-path="url(#lcB)"/>
<circle cx="961.5" cy="606.8" r="4.6" fill="#000"/>
<rect x="1057.3" y="516.9" width="46.9" height="7" fill="#b0b0b0"/>
<path d="M1363.1,589.0 1363.6,589.4 1364.1,589.4 1364.6,588.9 1365.6,586.8 1367.6,581.7 1368.6,580.3 1369.1,580.2 1370.1,581.1 1372.6,584.8 1374.6,585.9 1375.1,586.4 1376.6,588.7 1377.1,589.1 1377.6,588.9 1378.6,586.8 1381.1,579.0 1381.6,578.2 1382.1,578.0 1382.6,578.6 1383.1,579.7 1385.6,587.6 1386.1,588.2 1390.1,588.5 1390.6,588.1 1391.1,587.4 1394.1,579.2 1395.1,577.4 1395.6,577.0 1396.1,577.2 1396.6,578.0 1399.6,586.4 1401.1,588.3 1402.6,589.8 1403.6,590.4 1404.6,590.7 1405.1,590.5 1405.6,589.7 1406.6,586.9 1408.6,579.8 1409.6,577.6 1410.1,577.3 1410.6,577.4 1411.6,578.2 1414.6,582.8 1418.1,592.5 1419.1,594.3 1419.6,594.6 1420.1,594.5 1421.1,593.1 1424.1,586.0 1426.1,583.2 1428.6,576.1 1429.1,575.2 1429.6,574.8 1430.1,575.1 1430.6,576.0 1433.1,583.4 1436.1,587.9 1438.6,594.1 1439.1,595.0 1439.6,595.5 1440.1,595.4 1440.6,594.5 1443.1,586.7 1443.6,585.9 1445.6,584.6 1446.1,584.0 1447.1,581.5 1449.1,575.2 1449.6,574.1 1450.1,573.6 1450.6,573.6 1451.1,574.1 1453.1,577.6 1453.6,578.2 1455.6,578.9 1456.1,579.3 1457.1,581.9 1459.1,589.5 1460.1,592.3 1460.6,592.9 1461.1,593.0 1463.1,592.0 1463.6,592.0 1464.1,592.5 1466.1,595.9 1466.6,596.2 1467.1,595.8 1467.6,594.8 1469.6,588.1 1470.6,585.5 1471.1,584.9 1473.1,584.1 1473.6,583.7 1474.1,582.7 1476.1,576.2 1477.1,573.7 1477.6,573.2 1478.1,573.4 1480.1,576.2 1480.6,576.7 1481.1,576.6 1481.6,576.0 1483.1,573.6 1483.6,573.2 1484.1,573.4 1484.6,574.3 1486.6,580.6 1487.6,582.7 1488.1,582.8 1490.6,582.5 1491.1,583.1 1492.1,586.0 1493.6,591.3 1494.6,593.5 1495.1,593.6 1497.1,591.2 1497.6,591.2 1498.1,591.7 1498.6,592.7 1500.1,596.8 1500.6,597.8 1501.1,598.3 1501.6,598.3 1502.1,597.5 1503.6,593.7 1504.1,592.7 1504.6,592.1 1505.1,592.1 1505.6,592.8 1507.1,596.0 1507.6,596.5 1508.1,596.3 1509.1,594.0 1510.6,589.1 1511.1,587.9 1511.6,587.3 1512.1,587.3 1512.6,587.7 1514.1,589.8 1514.6,590.3 1515.1,590.4 1515.6,589.6 1516.1,588.0 1517.6,581.9 1518.1,580.6 1518.6,580.2 1519.6,581.1 1521.1,583.4 1521.6,583.9 1522.1,584.0 1522.6,583.2 1524.6,575.6 1525.1,574.8 1525.6,575.0 1526.1,575.6 1528.1,579.5 1528.6,579.9 1529.1,579.6 1529.6,578.5 1531.1,573.5 1531.6,572.2 1532.1,571.6 1532.6,571.9 1533.1,572.8 1534.6,577.0 1535.1,577.8 1535.6,577.9 1536.1,577.1 1536.6,575.7 1538.1,570.8 1538.6,569.9 1539.1,569.8 1539.6,570.7 1541.6,577.2 1542.1,577.7 1542.6,577.2 1544.6,570.7 1545.1,569.5 1545.6,569.0 1546.1,569.5 1546.6,570.8 1548.6,577.5 1549.1,578.0 1549.6,577.4 1550.1,575.8 1551.6,569.8 1552.1,568.8 1552.6,568.9 1553.1,569.9 1555.1,577.0 1555.6,577.9 1556.1,577.8 1556.6,576.8 1558.6,569.7 1559.1,568.8 1559.6,568.9 1560.1,569.9 1562.1,576.8 1562.6,577.8 1563.1,577.9 1563.6,576.8 1565.1,570.6 1565.6,569.1 1566.1,568.7 1566.6,569.5 1567.1,571.0 1568.6,577.0 1569.1,578.4 1569.6,578.9 1570.1,578.4 1572.1,571.3 1572.6,569.9 1573.1,569.4 1573.6,570.1 1575.6,578.9 1576.1,580.5 1576.6,581.2 1577.1,580.6 1577.6,579.0 1579.1,572.8 1579.6,571.7 1580.1,571.8 1580.6,573.2 1582.6,582.6 1583.1,584.0 1583.6,584.1 1584.1,583.3 1586.1,576.6 1586.6,575.8 1587.1,576.0 1587.6,577.6 1589.1,586.2 1590.1,590.3 1590.6,590.5 1591.1,589.4 1592.6,583.0 1593.1,581.3 1593.6,580.7 1594.1,581.6 1594.6,584.0 1596.1,594.4 1596.6,597.0 1597.1,598.3 1597.6,597.8 1598.1,596.1 1600.1,585.7 1600.6,584.4 1601.1,584.7 1601.6,587.0 1603.1,598.5 1603.6,601.1 1604.1,601.8 1604.6,599.4 1605.1,594.4 1607.1,565.1 1607.6,560.1 1608.1,557.7 1608.6,558.9 1609.1,563.5 1611.6,601.9 1612.6,612.5 1613.1,616.6 1613.6,618.2 1614.1,617.2 1614.6,614.5 1617.1,591.8 1617.6,588.5 1618.1,586.8 1620.1,582.3 1622.1,578.7 1624.1,576.2 1625.1,575.4 1626.1,574.9 1627.1,574.8 1628.1,575.0 1629.1,575.6 1630.1,576.5 1632.6,579.8 1637.6,588.0 1639.6,590.9 1641.6,593.0 1642.6,593.6 1643.6,593.8 1644.1,593.8 1645.1,593.2 1646.6,591.6 1648.1,589.2 1652.1,581.5 1653.6,579.0 1655.1,577.1 1656.6,576.2 1657.6,576.4 1659.1,577.7 1660.6,580.0 1665.6,589.8 1667.1,591.7 1668.1,592.3 1668.6,592.4 1669.6,592.0 1671.1,590.2 1676.6,579.5 1678.1,577.8 1679.1,577.5 1680.1,578.0 1681.1,579.2 1686.1,588.9 1687.1,590.3 1688.1,591.0 1689.1,590.9 1690.1,590.0 1691.6,587.5 1695.1,580.6 1696.1,579.4 1697.1,578.9 1697.6,579.0 1698.6,579.9 1699.6,581.4 1703.1,587.9 1704.1,589.2 1705.1,589.7 1706.1,589.3 1707.1,588.0 1710.1,582.3 1711.1,580.8 1712.1,579.9 1712.6,579.8 1713.1,580.0 1714.1,580.9 1717.6,586.9 1718.6,588.2 1719.6,588.8 1720.1,588.7 1721.1,587.8 1724.6,581.7 1725.6,580.8 1726.1,580.7 1726.6,580.9 1727.6,581.8 1730.6,586.5 1731.6,587.6 1732.1,587.9 1732.6,587.9 1733.6,587.2 1736.6,582.8 1737.6,581.8 1738.1,581.6 1740.1,581.9 1742.1,582.9 1743.6,584.3 1745.1,586.3" fill="none" stroke="#0000ff" stroke-width="2.7" stroke-linejoin="round" clip-path="url(#lcC)"/>
<circle cx="1612.1" cy="602.0" r="4.6" fill="#000"/>
<rect x="1688.8" y="516.9" width="46.9" height="7" fill="#b0b0b0"/>
<path d="M100.1,1347.8 126.9,1347.8 129.0,1348.5 129.8,1348.2 131.1,1346.5 131.9,1346.2 132.7,1346.8 134.4,1349.8 135.1,1350.3 135.9,1349.6 137.8,1344.5 138.2,1343.9 138.6,1343.7 139.0,1344.0 139.5,1345.3 141.5,1352.7 141.8,1353.4 142.2,1353.6 142.6,1353.2 143.2,1351.7 145.3,1342.6 145.9,1341.4 146.3,1341.3 146.8,1342.1 147.4,1344.1 149.5,1354.4 150.1,1355.9 150.5,1356.2 151.0,1355.5 151.8,1352.5 154.1,1337.8 154.7,1336.1 155.1,1336.0 155.6,1337.3 156.2,1340.1 158.7,1358.8 159.3,1361.1 159.8,1361.9 160.4,1360.9 161.0,1358.2 163.7,1335.4 164.4,1331.3 165.0,1330.2 165.4,1330.5 165.8,1331.7 166.6,1336.5 169.4,1364.9 170.2,1369.0 170.6,1369.7 170.8,1369.7 171.1,1369.0 171.5,1367.5 172.3,1361.9 175.4,1328.5 176.1,1323.8 176.5,1322.7 176.9,1322.4 177.3,1323.1 177.7,1324.6 178.6,1332.0 181.1,1362.2 182.1,1371.7 182.8,1376.2 183.2,1377.3 183.6,1377.5 184.0,1376.8 184.4,1375.3 185.3,1368.0 189.1,1321.1 190.1,1314.7 190.5,1313.5 190.9,1313.2 191.3,1313.7 191.8,1315.9 193.0,1325.4 196.0,1366.8 197.2,1379.7 198.1,1386.2 198.7,1387.9 199.1,1388.0 199.5,1387.4 200.1,1385.0 201.2,1375.7 204.9,1327.3 206.0,1314.6 207.1,1306.4 207.7,1304.4 208.3,1303.8 208.9,1304.6 209.6,1307.9 211.0,1318.8 215.2,1374.1 216.5,1388.7 217.9,1397.6 218.4,1399.4 219.0,1400.0 219.4,1399.6 219.8,1398.8 220.6,1395.4 222.1,1383.2 223.4,1367.9 226.9,1323.2 228.8,1303.6 229.7,1296.8 230.5,1293.1 231.3,1291.0 231.7,1290.5 232.0,1290.5 232.8,1291.5 233.8,1294.9 234.7,1300.3 235.7,1307.5 237.4,1323.7 241.8,1370.4 243.2,1382.6 244.5,1392.8 245.8,1400.5 247.0,1405.1 248.1,1407.7 248.7,1408.3 249.5,1408.5 250.0,1408.1 250.6,1407.3 251.8,1404.5 252.9,1400.4 254.3,1394.1 256.6,1380.7 262.3,1342.0 265.0,1325.5 267.9,1310.7 270.0,1301.7 271.1,1297.8 273.4,1292.8 275.5,1286.0 276.3,1284.3 276.7,1283.9 277.0,1283.9 278.6,1285.3 279.2,1285.2 279.9,1283.7 281.5,1278.5 281.8,1277.7 282.2,1277.4 282.6,1277.7 283.0,1278.5 284.5,1283.2 285.1,1283.7 285.5,1283.2 285.9,1282.1 287.4,1275.6 288.0,1274.6 288.3,1275.0 288.9,1277.1 290.6,1287.2 291.0,1288.1 291.2,1288.1 291.6,1287.2 292.0,1288.1 292.2,1288.1 292.6,1287.2 292.9,1285.5 294.5,1276.2 294.9,1275.0 295.2,1274.6 295.8,1275.6 297.3,1282.1 297.7,1283.2 298.1,1283.7 298.7,1283.2 300.2,1278.5 300.6,1277.7 301.0,1277.4 301.4,1277.7 301.7,1278.5 303.3,1283.7 304.0,1285.2 304.6,1285.3 306.2,1283.9 306.5,1283.9 306.9,1284.3 307.7,1286.0 309.6,1292.3 311.7,1296.8 312.7,1299.6 315.7,1312.5 318.6,1327.7 321.1,1343.2 326.5,1379.5 328.9,1394.1 330.3,1400.4 331.4,1404.5 332.6,1407.3 333.2,1408.1 333.7,1408.5 334.5,1408.3 335.1,1407.7 336.2,1405.1 337.4,1400.5 338.7,1392.8 340.0,1382.6 341.4,1370.4 345.8,1323.7 347.5,1307.5 348.5,1300.3 349.4,1294.9 350.4,1291.5 351.2,1290.5 351.5,1290.5 351.9,1291.0 352.7,1293.1 353.5,1296.8 354.4,1303.6 356.3,1323.2 359.8,1367.9 361.1,1383.2 362.6,1395.4 363.4,1398.8 363.8,1399.6 364.2,1400.0 364.8,1399.4 365.3,1397.6 366.7,1388.7 368.0,1374.1 372.2,1318.8 373.6,1307.9 374.3,1304.6 374.9,1303.8 375.5,1304.4 376.1,1306.4 377.2,1314.6 378.3,1327.3 382.0,1375.7 383.1,1385.0 383.7,1387.4 384.1,1388.0 384.5,1387.9 385.1,1386.2 386.0,1379.7 387.2,1366.8 390.2,1325.4 391.4,1315.9 391.9,1313.7 392.3,1313.2 392.7,1313.5 393.1,1314.7 394.1,1321.1 397.9,1368.0 398.8,1375.3 399.2,1376.8 399.6,1377.5 400.0,1377.3 400.4,1376.2 401.1,1371.7 402.1,1362.2 404.6,1332.0 405.5,1324.6 405.9,1323.1 406.3,1322.4 406.7,1322.7 407.1,1323.8 407.8,1328.5 410.9,1361.9 411.7,1367.5 412.1,1369.0 412.4,1369.7 412.6,1369.7 413.0,1369.0 413.8,1364.9 416.6,1336.5 417.4,1331.7 417.8,1330.5 418.2,1330.2 418.8,1331.3 419.5,1335.4 422.2,1358.2 422.8,1360.9 423.4,1361.9 423.9,1361.1 424.5,1358.8 427.0,1340.1 427.6,1337.3 428.1,1336.0 428.5,1336.1 429.1,1337.8 431.4,1352.5 432.2,1355.5 432.7,1356.2 433.1,1355.9 433.7,1354.4 435.8,1344.1 436.4,1342.1 436.9,1341.3 437.3,1341.4 437.9,1342.6 440.0,1351.7 440.6,1353.2 441.0,1353.6 441.4,1353.4 441.7,1352.7 443.7,1345.3 444.2,1344.0 444.6,1343.7 445.0,1343.9 445.4,1344.5 447.3,1349.6 448.1,1350.3 448.8,1349.8 450.5,1346.8 451.3,1346.2 452.1,1346.5 453.4,1348.2 454.2,1348.5 456.3,1347.8 483.1,1347.8" fill="none" stroke="#0000ff" stroke-width="2.7" stroke-linejoin="round" clip-path="url(#lcD)"/>
<circle cx="291.6" cy="1292.5" r="4.6" fill="#000"/>
<path d="M731.7,1347.9 755.2,1347.9 760.2,1348.1 764.2,1347.4 765.2,1347.6 766.7,1348.5 767.7,1348.8 768.7,1348.5 770.2,1347.2 771.2,1346.7 771.7,1346.8 772.2,1347.1 774.2,1349.5 774.7,1349.8 775.2,1349.9 775.7,1349.4 777.7,1345.5 778.7,1344.2 779.2,1344.4 779.7,1345.2 781.7,1351.9 782.2,1353.2 782.7,1353.8 783.2,1353.4 783.7,1351.8 785.7,1341.6 786.2,1339.9 786.7,1339.2 787.2,1339.8 787.7,1341.5 790.2,1355.6 790.7,1357.6 791.2,1358.7 791.7,1358.5 792.2,1356.8 794.2,1342.9 795.2,1337.9 795.7,1337.4 796.2,1338.2 796.7,1339.8 799.2,1352.1 799.7,1353.7 800.2,1354.5 800.7,1354.4 801.2,1353.9 803.7,1349.7 804.2,1349.2 805.7,1348.6 806.2,1348.1 806.7,1346.6 808.2,1339.3 808.7,1337.4 809.2,1336.7 809.7,1337.4 810.7,1342.2 813.2,1359.4 813.7,1361.3 814.2,1362.0 814.7,1361.3 815.2,1359.4 817.2,1347.3 817.7,1345.0 818.2,1343.7 818.7,1343.4 821.2,1343.1 821.7,1342.7 823.2,1338.4 823.7,1337.3 824.2,1337.0 824.7,1338.1 825.2,1340.4 828.2,1361.8 828.7,1363.6 829.2,1364.1 829.7,1363.3 830.2,1361.7 832.7,1350.1 833.2,1349.0 833.7,1348.7 835.7,1348.2 836.2,1347.7 837.2,1343.0 838.7,1333.1 839.2,1330.7 839.7,1329.6 840.2,1330.0 840.7,1331.7 843.7,1350.0 844.2,1351.6 844.7,1352.1 846.7,1352.6 847.2,1352.9 847.7,1354.0 850.2,1365.6 850.7,1367.1 851.2,1367.7 851.7,1366.8 852.2,1364.6 854.2,1349.9 854.7,1347.0 855.2,1345.2 855.7,1344.9 858.2,1345.6 858.7,1345.4 859.2,1344.1 859.7,1341.9 862.2,1327.9 862.7,1326.6 863.2,1326.5 863.7,1327.8 864.2,1330.0 865.7,1338.8 866.2,1341.0 866.7,1342.3 867.2,1342.2 869.2,1338.6 869.7,1338.8 870.2,1340.2 871.2,1345.9 872.7,1356.6 873.7,1361.7 874.2,1362.7 874.7,1362.4 876.7,1357.3 877.2,1356.5 877.7,1356.4 878.2,1357.5 878.7,1359.6 880.2,1367.6 880.7,1369.7 881.2,1370.8 881.7,1370.6 882.2,1369.0 884.2,1357.1 884.7,1354.9 885.2,1353.8 885.7,1354.1 886.2,1355.1 888.2,1361.2 888.7,1361.9 889.2,1361.7 889.7,1360.1 890.2,1357.4 892.2,1343.9 892.7,1341.8 893.2,1341.0 893.7,1341.6 894.2,1343.0 895.7,1348.5 896.2,1349.4 896.7,1349.2 897.7,1344.4 899.2,1333.7 899.7,1331.1 900.2,1329.9 900.7,1330.2 901.2,1331.5 903.2,1339.8 903.7,1341.2 904.2,1341.7 904.7,1340.9 905.2,1338.9 907.2,1326.9 907.7,1325.1 908.2,1324.6 908.7,1325.7 909.2,1327.9 910.7,1336.7 911.2,1338.7 911.7,1339.5 912.2,1338.7 912.7,1336.7 914.7,1324.7 915.2,1322.9 915.7,1322.4 916.2,1323.7 916.7,1326.3 918.2,1336.6 918.7,1339.0 919.2,1339.9 919.7,1339.1 920.2,1336.9 922.2,1324.2 922.7,1322.2 923.2,1321.7 923.7,1323.1 924.2,1325.9 925.7,1337.0 926.2,1339.6 926.7,1340.6 927.2,1339.7 927.7,1337.5 929.7,1324.0 930.2,1322.0 930.7,1321.4 931.2,1323.0 931.7,1326.2 933.2,1338.4 933.7,1341.0 934.2,1341.7 934.7,1340.3 935.2,1337.5 936.7,1326.4 937.2,1323.8 937.7,1322.8 938.2,1323.8 938.7,1326.5 940.7,1342.2 941.2,1344.5 941.7,1345.2 942.2,1344.1 942.7,1341.8 944.7,1329.4 945.2,1327.6 945.7,1327.2 946.2,1328.8 946.7,1332.4 948.2,1347.4 949.2,1354.0 949.7,1354.3 950.2,1352.5 952.2,1338.1 952.7,1336.0 953.2,1335.8 953.7,1338.3 954.2,1342.7 955.7,1360.3 956.2,1365.0 956.7,1367.9 957.2,1368.2 957.7,1366.0 959.7,1348.6 960.2,1346.1 960.7,1345.9 961.2,1348.5 961.7,1353.2 963.2,1371.8 963.7,1376.5 964.2,1379.1 964.7,1378.8 965.2,1375.8 967.7,1345.7 968.2,1342.2 968.7,1341.3 969.2,1343.5 969.7,1348.1 971.7,1371.3 972.2,1373.5 972.7,1371.6 973.7,1353.2 975.7,1297.0 976.2,1287.2 976.7,1282.0 977.2,1282.8 977.7,1290.2 979.7,1344.2 980.2,1353.3 981.7,1371.8 982.2,1375.3 982.7,1376.3 983.2,1375.4 983.7,1373.3 986.7,1352.5 987.7,1348.3 988.2,1347.9 989.2,1348.6 990.2,1350.3 993.7,1357.9 994.7,1359.2 995.2,1359.4 995.7,1359.3 996.7,1358.4 998.2,1355.5 1002.2,1344.0 1003.7,1340.3 1004.7,1338.6 1005.7,1337.8 1006.2,1337.7 1006.7,1338.0 1007.7,1339.3 1009.2,1342.8 1011.7,1350.2 1013.2,1354.0 1014.2,1355.7 1015.2,1356.4 1015.7,1356.3 1016.2,1355.8 1017.2,1354.1 1021.2,1343.1 1022.2,1341.2 1023.2,1340.2 1023.7,1340.3 1024.7,1341.4 1025.7,1343.5 1028.7,1351.5 1029.7,1353.2 1030.2,1353.7 1030.7,1353.8 1031.2,1353.6 1032.2,1352.3 1035.7,1344.5 1036.7,1343.1 1037.2,1342.8 1037.7,1342.9 1038.7,1343.8 1042.2,1350.3 1043.2,1351.5 1043.7,1351.7 1044.2,1351.6 1045.2,1350.6 1047.7,1346.1 1048.7,1344.8 1049.2,1344.5 1049.7,1344.6 1050.2,1344.9 1051.2,1346.2 1053.2,1349.4 1054.2,1350.3 1054.7,1350.4 1055.7,1349.7 1058.7,1345.7 1059.7,1345.3 1060.7,1345.8 1063.2,1348.6 1064.2,1349.1 1065.2,1348.8 1067.7,1346.5 1068.7,1346.2 1069.7,1346.7 1071.7,1348.3 1072.7,1348.7 1073.7,1348.5 1075.7,1347.2 1076.7,1347.0 1080.7,1347.9 1113.7,1347.9" fill="none" stroke="#0000ff" stroke-width="2.7" stroke-linejoin="round" clip-path="url(#lcE)"/>
<circle cx="980.7" cy="1353.3" r="4.6" fill="#000"/>
<rect x="1073.8" y="1280.2" width="30.4" height="7" fill="#b0b0b0"/>
<path d="M1363.1,1347.5 1390.6,1347.3 1403.6,1346.9 1404.6,1347.2 1406.6,1348.6 1407.6,1348.8 1408.1,1348.6 1410.1,1346.9 1411.1,1346.3 1412.1,1346.6 1414.6,1349.3 1415.6,1349.8 1416.1,1349.7 1416.6,1349.2 1419.1,1344.9 1420.1,1344.0 1420.6,1344.2 1421.6,1346.0 1424.1,1352.7 1424.6,1353.4 1425.1,1353.6 1425.6,1353.0 1426.1,1351.8 1429.1,1340.1 1429.6,1339.0 1430.1,1338.6 1430.6,1339.3 1431.1,1341.1 1434.1,1359.2 1434.6,1360.6 1435.1,1360.8 1435.6,1359.4 1436.1,1356.8 1439.1,1333.7 1439.6,1331.8 1440.1,1331.3 1440.6,1332.5 1441.1,1334.9 1444.1,1360.2 1444.6,1363.1 1445.1,1364.8 1445.6,1365.0 1446.1,1363.7 1446.6,1361.2 1449.6,1338.4 1450.1,1335.9 1450.6,1334.6 1451.1,1334.7 1451.6,1336.1 1454.1,1350.0 1454.6,1352.1 1455.1,1353.2 1455.6,1353.1 1456.1,1352.0 1458.1,1344.0 1458.6,1342.6 1459.1,1342.1 1459.6,1342.7 1460.6,1346.5 1463.1,1360.7 1463.6,1362.4 1464.1,1363.2 1464.6,1362.7 1465.6,1357.7 1468.1,1336.0 1469.1,1330.1 1469.6,1329.0 1470.1,1329.5 1471.1,1334.0 1473.1,1349.1 1474.1,1354.8 1474.6,1356.1 1475.1,1356.0 1475.6,1354.6 1477.6,1344.8 1478.1,1343.1 1478.6,1342.4 1479.1,1343.0 1479.6,1344.8 1482.6,1363.5 1483.1,1365.5 1483.6,1366.4 1484.1,1365.9 1485.1,1360.8 1487.6,1339.2 1488.6,1333.7 1489.1,1332.9 1489.6,1333.6 1490.6,1338.0 1492.6,1349.7 1493.1,1351.3 1493.6,1351.7 1494.1,1350.7 1494.6,1348.6 1497.1,1332.5 1497.6,1330.4 1498.1,1329.4 1498.6,1329.9 1499.6,1335.2 1502.1,1356.8 1502.6,1359.8 1503.1,1361.6 1503.6,1361.8 1504.1,1360.8 1505.1,1356.3 1507.1,1345.0 1507.6,1343.2 1508.1,1342.4 1508.6,1342.9 1509.6,1348.0 1512.1,1367.1 1512.6,1369.1 1513.1,1369.6 1513.6,1368.5 1514.1,1366.1 1517.1,1343.4 1517.6,1341.3 1518.1,1340.5 1518.6,1341.3 1519.1,1343.4 1521.6,1360.1 1522.1,1362.0 1522.6,1362.5 1523.1,1361.4 1524.1,1355.5 1526.6,1335.2 1527.1,1332.7 1527.6,1331.6 1528.1,1332.1 1528.6,1333.9 1531.6,1353.7 1532.1,1355.2 1532.6,1355.4 1533.1,1353.8 1533.6,1351.0 1536.1,1330.4 1536.6,1327.7 1537.1,1326.5 1537.6,1327.0 1538.1,1329.0 1541.1,1351.1 1541.6,1353.1 1542.1,1353.6 1542.6,1352.4 1543.1,1349.8 1545.6,1329.4 1546.1,1326.6 1546.6,1325.0 1547.1,1325.2 1547.6,1327.1 1548.1,1330.2 1550.6,1350.9 1551.1,1353.3 1551.6,1354.2 1552.1,1353.3 1552.6,1350.8 1555.6,1326.5 1556.1,1324.6 1556.6,1324.4 1557.1,1325.9 1557.6,1328.6 1560.6,1352.7 1561.1,1354.7 1561.6,1355.2 1562.1,1353.9 1562.6,1351.0 1565.1,1328.8 1565.6,1325.7 1566.1,1324.1 1566.6,1324.3 1567.1,1326.5 1570.1,1353.9 1570.6,1356.4 1571.1,1357.1 1571.6,1355.7 1572.1,1352.9 1574.1,1334.6 1575.1,1327.3 1575.6,1325.7 1576.1,1325.9 1576.6,1328.3 1577.1,1332.2 1579.6,1358.7 1580.1,1361.8 1580.6,1362.9 1581.1,1362.0 1581.6,1359.4 1584.6,1333.9 1585.1,1332.0 1585.6,1331.8 1586.1,1333.6 1586.6,1337.1 1589.6,1367.9 1590.1,1370.5 1590.6,1371.2 1591.1,1369.7 1591.6,1366.5 1593.6,1346.2 1594.6,1338.1 1595.1,1336.3 1595.6,1336.6 1596.1,1339.2 1596.6,1343.6 1598.6,1366.6 1599.1,1370.7 1599.6,1372.9 1600.1,1372.7 1600.6,1370.3 1601.6,1360.8 1603.6,1336.5 1604.6,1329.3 1605.1,1328.6 1605.6,1330.2 1606.1,1333.5 1608.6,1359.1 1609.1,1362.4 1609.6,1364.0 1610.1,1363.2 1611.1,1355.6 1613.6,1325.5 1614.1,1321.8 1614.6,1320.2 1615.1,1321.0 1615.6,1324.1 1618.6,1362.1 1619.1,1366.4 1619.6,1368.7 1620.1,1368.4 1620.6,1365.6 1621.1,1361.0 1623.6,1331.4 1624.1,1328.6 1624.6,1328.4 1625.1,1331.1 1625.6,1336.3 1628.1,1372.0 1628.6,1375.9 1629.1,1376.8 1629.6,1374.7 1630.1,1369.9 1632.6,1330.6 1633.6,1320.0 1634.1,1318.4 1634.6,1320.2 1635.1,1324.9 1637.6,1364.2 1638.1,1369.4 1638.6,1371.8 1639.1,1371.0 1639.6,1367.5 1642.6,1325.9 1643.1,1321.1 1643.6,1318.6 1644.1,1319.2 1644.6,1323.8 1645.1,1331.5 1647.6,1380.3 1648.1,1384.9 1648.6,1385.3 1649.1,1381.5 1649.6,1374.3 1652.6,1311.2 1653.1,1305.9 1653.6,1304.6 1654.1,1308.1 1654.6,1315.6 1657.6,1386.5 1658.1,1392.6 1658.6,1394.1 1659.1,1390.4 1660.1,1370.8 1662.1,1310.7 1663.1,1286.2 1663.6,1279.0 1664.1,1276.3 1664.6,1278.9 1665.6,1296.6 1667.6,1352.0 1668.6,1372.9 1669.6,1382.9 1670.1,1386.5 1670.6,1388.2 1671.1,1387.8 1672.1,1382.8 1674.6,1360.9 1675.6,1354.9 1678.1,1348.6 1679.1,1347.0 1680.1,1346.2 1680.6,1346.2 1681.6,1346.6 1684.6,1348.7 1685.6,1349.1 1686.6,1348.9 1689.6,1346.8 1690.6,1346.6 1691.6,1346.9 1694.6,1348.5 1695.6,1348.7 1696.6,1348.4 1698.6,1347.3 1699.6,1347.0 1705.1,1347.9 1745.1,1347.9" fill="none" stroke="#0000ff" stroke-width="2.7" stroke-linejoin="round" clip-path="url(#lcF)"/>
<circle cx="1669.6" cy="1376.5" r="4.6" fill="#000"/>
<rect x="1720.8" y="1280.2" width="14.9" height="7" fill="#b0b0b0"/>
<circle cx="310.0" cy="251.3" r="3.9" fill="#000"/>
<circle cx="960.6" cy="251.3" r="3.9" fill="#000"/>
<circle cx="1611.0" cy="251.3" r="3.9" fill="#000"/>
<circle cx="291.1" cy="1014.6" r="3.9" fill="#000"/>
<circle cx="979.5" cy="1014.6" r="3.9" fill="#000"/>
<circle cx="1667.8" cy="1014.6" r="3.9" fill="#000"/></svg></body></html>
